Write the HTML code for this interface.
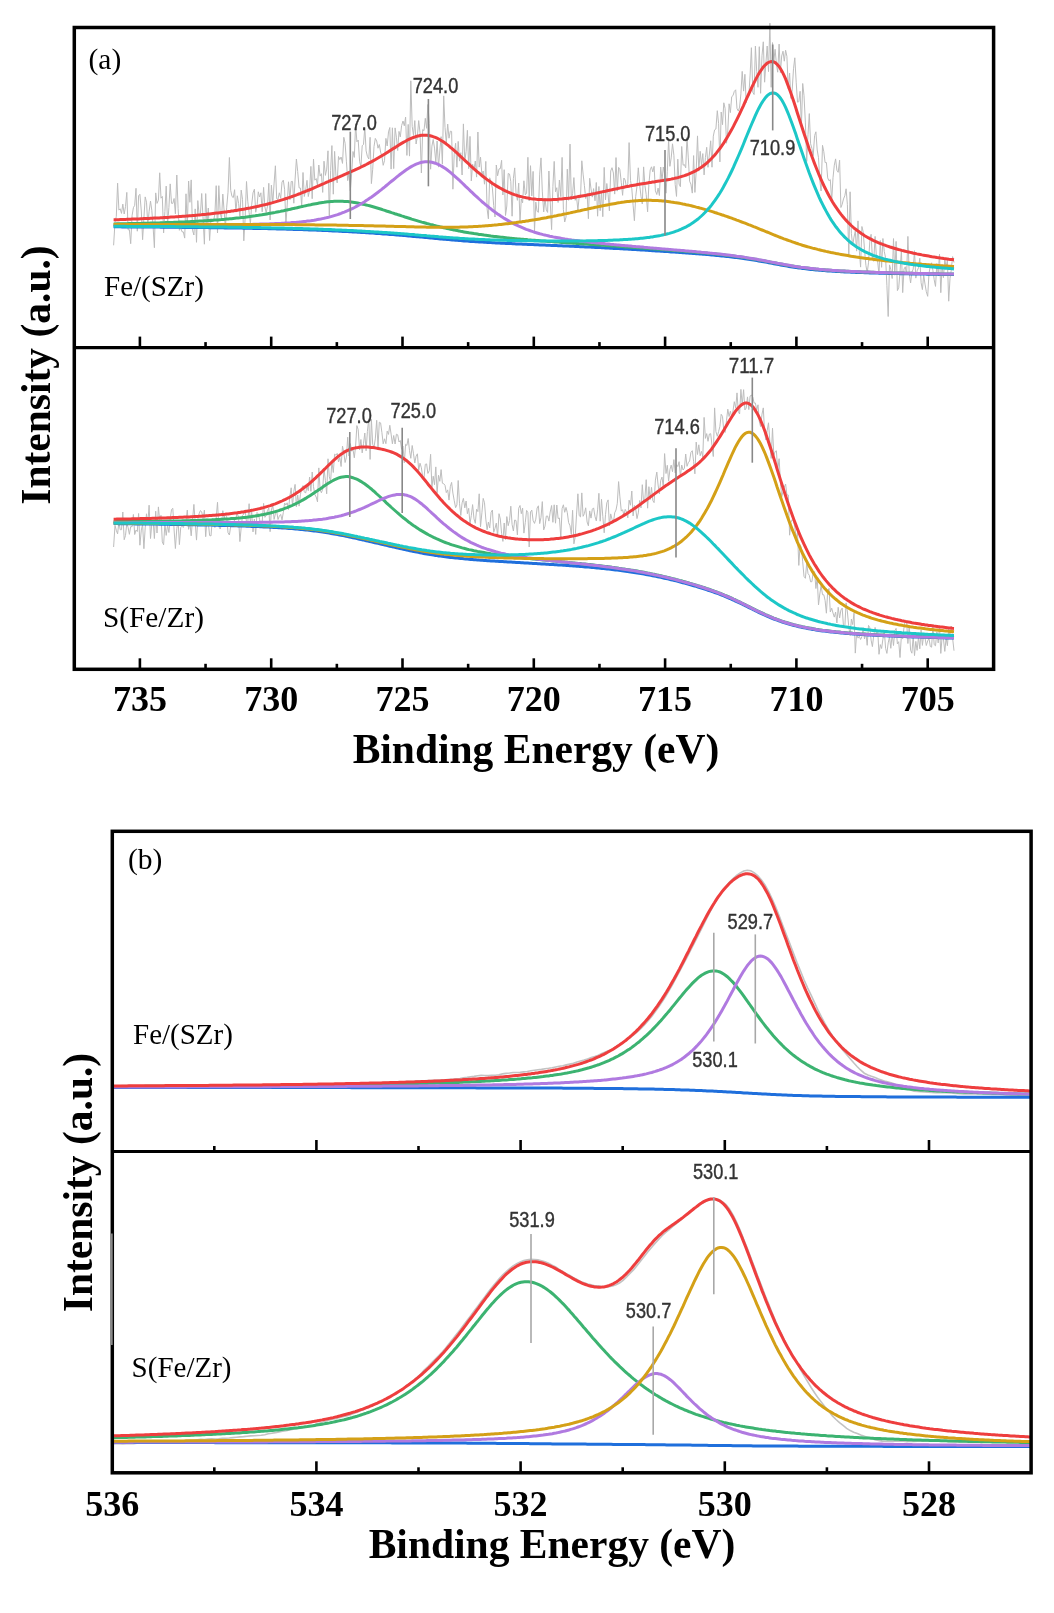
<!DOCTYPE html>
<html><head><meta charset="utf-8"><title>XPS spectra</title>
<style>html,body{margin:0;padding:0;background:#fff;width:1054px;height:1613px;overflow:hidden}svg{display:block;filter:blur(0.45px)}</style>
</head><body><svg width="1054" height="1613" viewBox="0 0 1054 1613"><rect width="100%" height="100%" fill="#fff"/><path d="M113.6,245.3 L115.0,222.3 L116.3,216.5 L117.6,183.2 L118.9,210.1 L120.2,208.8 L121.5,213.4 L122.8,204.1 L124.2,214.0 L125.5,206.6 L126.8,192.4 L128.1,229.8 L129.4,229.7 L130.7,243.7 L132.1,215.5 L133.4,207.7 L134.7,205.3 L136.0,188.3 L137.3,231.2 L138.6,195.8 L139.9,194.3 L141.3,211.0 L142.6,239.7 L143.9,218.4 L145.2,196.9 L146.5,202.2 L147.8,224.9 L149.1,211.5 L150.5,201.1 L151.8,210.3 L153.1,226.8 L154.4,247.7 L155.7,192.9 L157.0,203.4 L158.4,200.3 L159.7,172.8 L161.0,198.2 L162.3,196.4 L163.6,232.9 L164.9,211.5 L166.2,186.1 L167.6,224.6 L168.9,207.5 L170.2,183.9 L171.5,203.3 L172.8,203.4 L174.1,198.5 L175.4,213.8 L176.8,175.0 L178.1,208.6 L179.4,230.3 L180.7,227.5 L182.0,231.8 L183.3,231.9 L184.7,238.1 L186.0,193.8 L187.3,227.1 L188.6,181.0 L189.9,202.3 L191.2,179.9 L192.5,230.2 L193.9,235.0 L195.2,208.9 L196.5,242.3 L197.8,200.6 L199.1,214.5 L200.4,214.4 L201.7,193.5 L203.1,218.9 L204.4,244.2 L205.7,193.6 L207.0,226.1 L208.3,208.0 L209.6,240.5 L211.0,218.5 L212.3,221.5 L213.6,220.8 L214.9,213.9 L216.2,185.7 L217.5,232.9 L218.8,185.7 L220.2,212.8 L221.5,219.0 L222.8,194.1 L224.1,210.5 L225.4,227.7 L226.7,207.2 L228.0,192.2 L229.4,157.5 L230.7,190.3 L232.0,196.5 L233.3,197.6 L234.6,189.7 L235.9,212.2 L237.3,195.8 L238.6,203.4 L239.9,216.5 L241.2,190.1 L242.5,199.3 L243.8,240.8 L245.1,218.7 L246.5,181.5 L247.8,201.8 L249.1,212.5 L250.4,223.5 L251.7,204.8 L253.0,192.9 L254.4,189.2 L255.7,212.2 L257.0,206.2 L258.3,191.8 L259.6,197.0 L260.9,192.8 L262.2,211.8 L263.6,187.4 L264.9,207.0 L266.2,212.8 L267.5,206.2 L268.8,183.3 L270.1,220.0 L271.4,185.2 L272.8,203.5 L274.1,183.1 L275.4,165.8 L276.7,198.8 L278.0,199.4 L279.3,192.8 L280.7,198.3 L282.0,182.1 L283.3,180.1 L284.6,189.3 L285.9,224.2 L287.2,205.0 L288.5,181.8 L289.9,199.7 L291.2,181.5 L292.5,181.4 L293.8,203.2 L295.1,179.1 L296.4,159.0 L297.7,171.5 L299.1,187.9 L300.4,188.0 L301.7,206.3 L303.0,172.5 L304.3,196.5 L305.6,190.7 L307.0,180.3 L308.3,196.5 L309.6,190.0 L310.9,166.4 L312.2,198.7 L313.5,159.1 L314.8,180.2 L316.2,178.6 L317.5,185.2 L318.8,165.0 L320.1,176.1 L321.4,173.7 L322.7,192.4 L324.0,161.2 L325.4,175.4 L326.7,169.1 L328.0,150.8 L329.3,217.7 L330.6,170.4 L331.9,145.6 L333.3,194.2 L334.6,151.4 L335.9,175.2 L337.2,182.9 L338.5,156.5 L339.8,159.6 L341.1,157.0 L342.5,163.4 L343.8,137.3 L345.1,143.2 L346.4,161.2 L347.7,180.6 L349.0,173.0 L350.3,190.9 L351.7,172.7 L353.0,151.5 L354.3,157.4 L355.6,124.3 L356.9,141.8 L358.2,140.0 L359.6,161.3 L360.9,167.0 L362.2,145.7 L363.5,144.5 L364.8,127.4 L366.1,150.8 L367.4,156.4 L368.8,159.0 L370.1,137.3 L371.4,183.6 L372.7,169.3 L374.0,146.6 L375.3,138.4 L376.7,141.0 L378.0,148.2 L379.3,144.5 L380.6,152.1 L381.9,156.1 L383.2,165.3 L384.5,160.7 L385.9,138.4 L387.2,146.0 L388.5,131.9 L389.8,127.5 L391.1,169.1 L392.4,127.8 L393.7,168.6 L395.1,127.9 L396.4,137.2 L397.7,150.5 L399.0,131.4 L400.3,136.9 L401.6,125.6 L403.0,121.0 L404.3,125.8 L405.6,117.1 L406.9,155.4 L408.2,124.4 L409.5,156.1 L410.8,80.8 L412.2,126.4 L413.5,135.4 L414.8,120.6 L416.1,144.0 L417.4,136.2 L418.7,120.6 L420.0,132.6 L421.4,173.0 L422.7,129.6 L424.0,130.6 L425.3,118.3 L426.6,128.3 L427.9,104.5 L429.3,123.5 L430.6,169.2 L431.9,146.1 L433.2,139.5 L434.5,148.1 L435.8,162.1 L437.1,141.0 L438.5,167.1 L439.8,151.0 L441.1,136.7 L442.4,164.1 L443.7,95.9 L445.0,127.4 L446.3,142.9 L447.7,124.1 L449.0,138.2 L450.3,131.2 L451.6,131.4 L452.9,189.2 L454.2,154.3 L455.6,143.3 L456.9,167.2 L458.2,141.4 L459.5,161.1 L460.8,152.7 L462.1,175.0 L463.4,123.9 L464.8,161.7 L466.1,151.4 L467.4,130.3 L468.7,168.7 L470.0,136.4 L471.3,180.9 L472.6,164.2 L474.0,169.4 L475.3,161.0 L476.6,177.1 L477.9,132.0 L479.2,167.1 L480.5,157.1 L481.9,174.6 L483.2,171.0 L484.5,184.2 L485.8,161.4 L487.1,208.9 L488.4,218.8 L489.7,177.8 L491.1,182.1 L492.4,188.1 L493.7,205.5 L495.0,217.0 L496.3,165.0 L497.6,175.8 L499.0,168.9 L500.3,168.7 L501.6,160.3 L502.9,195.0 L504.2,169.7 L505.5,215.5 L506.8,206.0 L508.2,173.5 L509.5,174.0 L510.8,181.6 L512.1,216.2 L513.4,178.4 L514.7,167.9 L516.0,192.8 L517.4,200.3 L518.7,183.1 L520.0,222.1 L521.3,199.0 L522.6,202.8 L523.9,180.8 L525.3,194.9 L526.6,193.1 L527.9,157.3 L529.2,201.0 L530.5,165.7 L531.8,195.9 L533.1,171.4 L534.5,230.9 L535.8,202.1 L537.1,211.3 L538.4,212.3 L539.7,174.2 L541.0,157.9 L542.3,191.1 L543.7,211.9 L545.0,198.1 L546.3,209.9 L547.6,212.4 L548.9,171.0 L550.2,201.1 L551.6,229.6 L552.9,186.3 L554.2,161.4 L555.5,191.8 L556.8,187.7 L558.1,202.5 L559.4,180.0 L560.8,196.7 L562.1,157.4 L563.4,209.6 L564.7,222.0 L566.0,217.1 L567.3,169.2 L568.6,200.3 L570.0,144.1 L571.3,199.6 L572.6,193.6 L573.9,177.6 L575.2,200.3 L576.5,196.7 L577.9,210.2 L579.2,196.3 L580.5,198.0 L581.8,160.8 L583.1,174.1 L584.4,185.5 L585.7,198.5 L587.1,193.2 L588.4,218.7 L589.7,178.3 L591.0,188.8 L592.3,197.1 L593.6,188.6 L595.0,200.8 L596.3,182.5 L597.6,216.2 L598.9,186.5 L600.2,210.7 L601.5,191.1 L602.8,216.7 L604.2,167.4 L605.5,199.8 L606.8,183.5 L608.1,194.6 L609.4,210.8 L610.7,171.0 L612.0,167.7 L613.4,173.0 L614.7,194.1 L616.0,157.6 L617.3,191.1 L618.6,167.4 L619.9,169.7 L621.3,182.7 L622.6,195.3 L623.9,178.0 L625.2,180.1 L626.5,187.6 L627.8,183.6 L629.1,142.6 L630.5,180.4 L631.8,188.6 L633.1,205.2 L634.4,220.7 L635.7,196.7 L637.0,186.1 L638.3,167.8 L639.7,185.1 L641.0,196.3 L642.3,204.0 L643.6,166.9 L644.9,185.3 L646.2,194.6 L647.6,211.8 L648.9,184.0 L650.2,169.9 L651.5,166.8 L652.8,171.9 L654.1,166.3 L655.4,190.9 L656.8,194.5 L658.1,188.1 L659.4,195.5 L660.7,167.0 L662.0,180.6 L663.3,167.0 L664.6,173.7 L666.0,193.2 L667.3,171.3 L668.6,139.5 L669.9,166.3 L671.2,157.9 L672.5,143.8 L673.9,155.3 L675.2,184.5 L676.5,196.4 L677.8,159.2 L679.1,184.1 L680.4,186.7 L681.7,146.5 L683.1,165.2 L684.4,164.6 L685.7,167.8 L687.0,137.3 L688.3,157.9 L689.6,181.2 L690.9,184.1 L692.3,193.1 L693.6,155.6 L694.9,192.4 L696.2,171.2 L697.5,135.9 L698.8,171.1 L700.2,151.3 L701.5,165.2 L702.8,153.6 L704.1,174.9 L705.4,157.6 L706.7,147.3 L708.0,167.3 L709.4,154.0 L710.7,140.8 L712.0,167.2 L713.3,136.2 L714.6,129.9 L715.9,129.0 L717.3,110.7 L718.6,123.6 L719.9,161.9 L721.2,112.0 L722.5,124.7 L723.8,102.8 L725.1,108.4 L726.5,143.2 L727.8,131.0 L729.1,103.8 L730.4,112.6 L731.7,96.7 L733.0,95.6 L734.3,91.4 L735.7,89.8 L737.0,108.6 L738.3,111.1 L739.6,107.1 L740.9,93.8 L742.2,71.4 L743.6,91.1 L744.9,74.3 L746.2,102.7 L747.5,95.0 L748.8,96.0 L750.1,75.1 L751.4,47.7 L752.8,92.3 L754.1,94.5 L755.4,46.1 L756.7,71.4 L758.0,87.3 L759.3,46.7 L760.6,93.3 L762.0,55.6 L763.3,41.8 L764.6,82.2 L765.9,62.9 L767.2,46.0 L768.5,71.6 L769.9,23.2 L771.2,87.3 L772.5,42.6 L773.8,61.0 L775.1,49.3 L776.4,63.9 L777.7,72.2 L779.1,44.1 L780.4,72.7 L781.7,56.0 L783.0,51.2 L784.3,61.2 L785.6,50.2 L786.9,56.4 L788.3,88.8 L789.6,73.0 L790.9,98.4 L792.2,89.9 L793.5,68.8 L794.8,57.8 L796.2,82.2 L797.5,102.2 L798.8,101.7 L800.1,91.3 L801.4,126.5 L802.7,83.5 L804.0,95.5 L805.4,122.9 L806.7,161.5 L808.0,134.5 L809.3,113.6 L810.6,143.8 L811.9,148.4 L813.2,155.7 L814.6,135.6 L815.9,131.8 L817.2,150.0 L818.5,157.7 L819.8,180.3 L821.1,191.0 L822.5,145.3 L823.8,151.7 L825.1,162.6 L826.4,162.5 L827.7,177.9 L829.0,180.8 L830.3,179.6 L831.7,200.8 L833.0,177.8 L834.3,165.2 L835.6,158.9 L836.9,170.3 L838.2,172.3 L839.6,160.2 L840.9,207.5 L842.2,204.3 L843.5,198.9 L844.8,195.8 L846.1,188.8 L847.4,204.7 L848.8,256.4 L850.1,191.8 L851.4,233.7 L852.7,245.7 L854.0,237.1 L855.3,231.1 L856.6,251.1 L858.0,220.9 L859.3,250.7 L860.6,267.1 L861.9,226.5 L863.2,231.8 L864.5,249.4 L865.9,265.3 L867.2,272.6 L868.5,262.8 L869.8,241.1 L871.1,234.3 L872.4,258.0 L873.7,261.3 L875.1,236.4 L876.4,256.7 L877.7,261.9 L879.0,274.6 L880.3,240.5 L881.6,267.3 L882.9,238.5 L884.3,251.6 L885.6,257.9 L886.9,285.5 L888.2,316.5 L889.5,264.9 L890.8,269.4 L892.2,278.5 L893.5,238.6 L894.8,275.2 L896.1,241.4 L897.4,290.6 L898.7,287.8 L900.0,272.1 L901.4,250.2 L902.7,292.6 L904.0,269.0 L905.3,266.8 L906.6,275.0 L907.9,236.4 L909.2,273.1 L910.6,283.0 L911.9,272.1 L913.2,269.1 L914.5,250.7 L915.8,278.1 L917.1,270.8 L918.5,267.8 L919.8,258.3 L921.1,282.7 L922.4,289.6 L923.7,275.2 L925.0,284.1 L926.3,291.6 L927.7,296.3 L929.0,273.3 L930.3,266.1 L931.6,262.8 L932.9,270.3 L934.2,279.7 L935.5,286.4 L936.9,263.4 L938.2,273.4 L939.5,254.1 L940.8,292.7 L942.1,264.8 L943.4,277.7 L944.8,259.5 L946.1,266.9 L947.4,260.4 L948.7,301.2 L950.0,278.5 L951.3,269.7 L952.6,256.6 L954.0,262.5" stroke="#bdbdbd" stroke-width="1" fill="none"/><path d="M113.6,226.8 L115.3,226.8 L117.0,226.8 L118.7,226.8 L120.4,226.8 L122.1,226.9 L123.7,226.9 L125.4,226.9 L127.1,226.9 L128.8,226.9 L130.5,226.9 L132.2,226.9 L133.8,226.9 L135.5,226.9 L137.2,227.0 L138.9,227.0 L140.6,227.0 L142.3,227.0 L144.0,227.0 L145.6,227.0 L147.3,227.0 L149.0,227.1 L150.7,227.1 L152.4,227.1 L154.1,227.1 L155.7,227.1 L157.4,227.1 L159.1,227.1 L160.8,227.2 L162.5,227.2 L164.2,227.2 L165.8,227.2 L167.5,227.2 L169.2,227.2 L170.9,227.2 L172.6,227.3 L174.3,227.3 L175.9,227.3 L177.6,227.3 L179.3,227.3 L181.0,227.3 L182.7,227.4 L184.4,227.4 L186.1,227.4 L187.7,227.4 L189.4,227.4 L191.1,227.4 L192.8,227.5 L194.5,227.5 L196.2,227.5 L197.8,227.5 L199.5,227.5 L201.2,227.6 L202.9,227.6 L204.6,227.6 L206.3,227.6 L207.9,227.6 L209.6,227.7 L211.3,227.7 L213.0,227.7 L214.7,227.7 L216.4,227.8 L218.0,227.8 L219.7,227.8 L221.4,227.8 L223.1,227.8 L224.8,227.9 L226.5,227.9 L228.2,227.9 L229.8,227.9 L231.5,228.0 L233.2,228.0 L234.9,228.0 L236.6,228.1 L238.3,228.1 L239.9,228.1 L241.6,228.1 L243.3,228.2 L245.0,228.2 L246.7,228.2 L248.4,228.3 L250.0,228.3 L251.7,228.3 L253.4,228.4 L255.1,228.4 L256.8,228.4 L258.5,228.5 L260.1,228.5 L261.8,228.5 L263.5,228.6 L265.2,228.6 L266.9,228.6 L268.6,228.7 L270.3,228.7 L271.9,228.8 L273.6,228.8 L275.3,228.8 L277.0,228.9 L278.7,228.9 L280.4,229.0 L282.0,229.0 L283.7,229.1 L285.4,229.1 L287.1,229.2 L288.8,229.2 L290.5,229.3 L292.1,229.3 L293.8,229.4 L295.5,229.4 L297.2,229.5 L298.9,229.5 L300.6,229.6 L302.2,229.6 L303.9,229.7 L305.6,229.7 L307.3,229.8 L309.0,229.9 L310.7,229.9 L312.4,230.0 L314.0,230.1 L315.7,230.1 L317.4,230.2 L319.1,230.3 L320.8,230.3 L322.5,230.4 L324.1,230.5 L325.8,230.5 L327.5,230.6 L329.2,230.7 L330.9,230.8 L332.6,230.9 L334.2,230.9 L335.9,231.0 L337.6,231.1 L339.3,231.2 L341.0,231.3 L342.7,231.4 L344.3,231.4 L346.0,231.5 L347.7,231.6 L349.4,231.7 L351.1,231.8 L352.8,231.9 L354.5,232.0 L356.1,232.1 L357.8,232.2 L359.5,232.3 L361.2,232.4 L362.9,232.5 L364.6,232.6 L366.2,232.7 L367.9,232.8 L369.6,232.9 L371.3,233.0 L373.0,233.1 L374.7,233.3 L376.3,233.4 L378.0,233.5 L379.7,233.6 L381.4,233.7 L383.1,233.9 L384.8,234.0 L386.4,234.1 L388.1,234.2 L389.8,234.4 L391.5,234.5 L393.2,234.6 L394.9,234.8 L396.6,234.9 L398.2,235.0 L399.9,235.2 L401.6,235.3 L403.3,235.5 L405.0,235.6 L406.7,235.8 L408.3,235.9 L410.0,236.1 L411.7,236.2 L413.4,236.4 L415.1,236.5 L416.8,236.7 L418.4,236.8 L420.1,237.0 L421.8,237.1 L423.5,237.3 L425.2,237.5 L426.9,237.6 L428.5,237.8 L430.2,237.9 L431.9,238.1 L433.6,238.3 L435.3,238.4 L437.0,238.6 L438.7,238.7 L440.3,238.9 L442.0,239.0 L443.7,239.2 L445.4,239.3 L447.1,239.5 L448.8,239.6 L450.4,239.8 L452.1,239.9 L453.8,240.1 L455.5,240.2 L457.2,240.3 L458.9,240.5 L460.5,240.6 L462.2,240.7 L463.9,240.9 L465.6,241.0 L467.3,241.1 L469.0,241.2 L470.6,241.4 L472.3,241.5 L474.0,241.6 L475.7,241.7 L477.4,241.8 L479.1,241.9 L480.8,242.0 L482.4,242.1 L484.1,242.2 L485.8,242.3 L487.5,242.4 L489.2,242.5 L490.9,242.6 L492.5,242.7 L494.2,242.8 L495.9,242.9 L497.6,243.0 L499.3,243.1 L501.0,243.2 L502.6,243.2 L504.3,243.3 L506.0,243.4 L507.7,243.5 L509.4,243.6 L511.1,243.6 L512.7,243.7 L514.4,243.8 L516.1,243.9 L517.8,244.0 L519.5,244.0 L521.2,244.1 L522.9,244.2 L524.5,244.3 L526.2,244.3 L527.9,244.4 L529.6,244.5 L531.3,244.5 L533.0,244.6 L534.6,244.7 L536.3,244.8 L538.0,244.8 L539.7,244.9 L541.4,245.0 L543.1,245.0 L544.7,245.1 L546.4,245.2 L548.1,245.3 L549.8,245.3 L551.5,245.4 L553.2,245.5 L554.9,245.5 L556.5,245.6 L558.2,245.7 L559.9,245.8 L561.6,245.8 L563.3,245.9 L565.0,246.0 L566.6,246.0 L568.3,246.1 L570.0,246.2 L571.7,246.3 L573.4,246.3 L575.1,246.4 L576.7,246.5 L578.4,246.6 L580.1,246.7 L581.8,246.7 L583.5,246.8 L585.2,246.9 L586.8,247.0 L588.5,247.1 L590.2,247.1 L591.9,247.2 L593.6,247.3 L595.3,247.4 L597.0,247.5 L598.6,247.6 L600.3,247.6 L602.0,247.7 L603.7,247.8 L605.4,247.9 L607.1,248.0 L608.7,248.1 L610.4,248.2 L612.1,248.3 L613.8,248.4 L615.5,248.4 L617.2,248.5 L618.8,248.6 L620.5,248.7 L622.2,248.8 L623.9,248.9 L625.6,249.0 L627.3,249.1 L628.9,249.2 L630.6,249.3 L632.3,249.4 L634.0,249.5 L635.7,249.6 L637.4,249.7 L639.1,249.8 L640.7,249.9 L642.4,250.0 L644.1,250.1 L645.8,250.2 L647.5,250.3 L649.2,250.4 L650.8,250.5 L652.5,250.7 L654.2,250.8 L655.9,250.9 L657.6,251.0 L659.3,251.1 L660.9,251.2 L662.6,251.3 L664.3,251.4 L666.0,251.5 L667.7,251.6 L669.4,251.7 L671.0,251.9 L672.7,252.0 L674.4,252.1 L676.1,252.2 L677.8,252.3 L679.5,252.4 L681.2,252.6 L682.8,252.7 L684.5,252.8 L686.2,252.9 L687.9,253.0 L689.6,253.2 L691.3,253.3 L692.9,253.4 L694.6,253.5 L696.3,253.7 L698.0,253.8 L699.7,253.9 L701.4,254.1 L703.0,254.2 L704.7,254.3 L706.4,254.5 L708.1,254.6 L709.8,254.8 L711.5,254.9 L713.1,255.1 L714.8,255.2 L716.5,255.4 L718.2,255.5 L719.9,255.7 L721.6,255.9 L723.3,256.1 L724.9,256.2 L726.6,256.4 L728.3,256.6 L730.0,256.8 L731.7,257.0 L733.4,257.2 L735.0,257.4 L736.7,257.6 L738.4,257.8 L740.1,258.0 L741.8,258.3 L743.5,258.5 L745.1,258.8 L746.8,259.0 L748.5,259.3 L750.2,259.5 L751.9,259.8 L753.6,260.1 L755.2,260.3 L756.9,260.6 L758.6,260.9 L760.3,261.2 L762.0,261.5 L763.7,261.8 L765.4,262.1 L767.0,262.4 L768.7,262.7 L770.4,263.0 L772.1,263.4 L773.8,263.7 L775.5,264.0 L777.1,264.3 L778.8,264.6 L780.5,264.9 L782.2,265.2 L783.9,265.5 L785.6,265.8 L787.2,266.1 L788.9,266.4 L790.6,266.7 L792.3,266.9 L794.0,267.2 L795.7,267.4 L797.3,267.7 L799.0,267.9 L800.7,268.1 L802.4,268.4 L804.1,268.6 L805.8,268.8 L807.5,269.0 L809.1,269.2 L810.8,269.4 L812.5,269.5 L814.2,269.7 L815.9,269.9 L817.6,270.0 L819.2,270.2 L820.9,270.3 L822.6,270.5 L824.3,270.6 L826.0,270.7 L827.7,270.9 L829.3,271.0 L831.0,271.1 L832.7,271.2 L834.4,271.3 L836.1,271.4 L837.8,271.5 L839.4,271.6 L841.1,271.7 L842.8,271.8 L844.5,271.9 L846.2,271.9 L847.9,272.0 L849.6,272.1 L851.2,272.2 L852.9,272.2 L854.6,272.3 L856.3,272.4 L858.0,272.4 L859.7,272.5 L861.3,272.6 L863.0,272.6 L864.7,272.7 L866.4,272.7 L868.1,272.8 L869.8,272.9 L871.4,272.9 L873.1,273.0 L874.8,273.0 L876.5,273.1 L878.2,273.1 L879.9,273.2 L881.5,273.2 L883.2,273.2 L884.9,273.3 L886.6,273.3 L888.3,273.4 L890.0,273.4 L891.7,273.5 L893.3,273.5 L895.0,273.5 L896.7,273.6 L898.4,273.6 L900.1,273.7 L901.8,273.7 L903.4,273.7 L905.1,273.8 L906.8,273.8 L908.5,273.8 L910.2,273.9 L911.9,273.9 L913.5,273.9 L915.2,274.0 L916.9,274.0 L918.6,274.0 L920.3,274.1 L922.0,274.1 L923.6,274.1 L925.3,274.1 L927.0,274.2 L928.7,274.2 L930.4,274.2 L932.1,274.3 L933.8,274.3 L935.4,274.3 L937.1,274.3 L938.8,274.4 L940.5,274.4 L942.2,274.4 L943.9,274.4 L945.5,274.5 L947.2,274.5 L948.9,274.5 L950.6,274.5 L952.3,274.6 L954.0,274.6" stroke="#1f6fdc" stroke-width="3" fill="none"/><path d="M113.6,223.9 L115.3,223.9 L117.0,223.8 L118.7,223.8 L120.4,223.8 L122.1,223.8 L123.7,223.7 L125.4,223.7 L127.1,223.7 L128.8,223.6 L130.5,223.6 L132.2,223.6 L133.8,223.5 L135.5,223.5 L137.2,223.4 L138.9,223.4 L140.6,223.4 L142.3,223.3 L144.0,223.3 L145.6,223.2 L147.3,223.2 L149.0,223.2 L150.7,223.1 L152.4,223.1 L154.1,223.0 L155.7,223.0 L157.4,222.9 L159.1,222.9 L160.8,222.8 L162.5,222.8 L164.2,222.7 L165.8,222.6 L167.5,222.6 L169.2,222.5 L170.9,222.5 L172.6,222.4 L174.3,222.3 L175.9,222.3 L177.6,222.2 L179.3,222.1 L181.0,222.1 L182.7,222.0 L184.4,221.9 L186.1,221.8 L187.7,221.7 L189.4,221.7 L191.1,221.6 L192.8,221.5 L194.5,221.4 L196.2,221.3 L197.8,221.2 L199.5,221.1 L201.2,221.0 L202.9,220.9 L204.6,220.8 L206.3,220.7 L207.9,220.6 L209.6,220.5 L211.3,220.4 L213.0,220.2 L214.7,220.1 L216.4,220.0 L218.0,219.9 L219.7,219.7 L221.4,219.6 L223.1,219.4 L224.8,219.3 L226.5,219.1 L228.2,219.0 L229.8,218.8 L231.5,218.7 L233.2,218.5 L234.9,218.3 L236.6,218.1 L238.3,217.9 L239.9,217.8 L241.6,217.6 L243.3,217.4 L245.0,217.2 L246.7,216.9 L248.4,216.7 L250.0,216.5 L251.7,216.3 L253.4,216.0 L255.1,215.8 L256.8,215.5 L258.5,215.3 L260.1,215.0 L261.8,214.8 L263.5,214.5 L265.2,214.2 L266.9,213.9 L268.6,213.6 L270.3,213.3 L271.9,213.0 L273.6,212.7 L275.3,212.4 L277.0,212.0 L278.7,211.7 L280.4,211.4 L282.0,211.0 L283.7,210.7 L285.4,210.3 L287.1,209.9 L288.8,209.6 L290.5,209.2 L292.1,208.8 L293.8,208.4 L295.5,208.1 L297.2,207.7 L298.9,207.3 L300.6,206.9 L302.2,206.5 L303.9,206.1 L305.6,205.8 L307.3,205.4 L309.0,205.0 L310.7,204.7 L312.4,204.3 L314.0,204.0 L315.7,203.7 L317.4,203.4 L319.1,203.1 L320.8,202.8 L322.5,202.5 L324.1,202.3 L325.8,202.0 L327.5,201.8 L329.2,201.7 L330.9,201.5 L332.6,201.4 L334.2,201.3 L335.9,201.2 L337.6,201.2 L339.3,201.2 L341.0,201.2 L342.7,201.3 L344.3,201.4 L346.0,201.5 L347.7,201.6 L349.4,201.8 L351.1,202.0 L352.8,202.2 L354.5,202.5 L356.1,202.8 L357.8,203.1 L359.5,203.4 L361.2,203.8 L362.9,204.2 L364.6,204.6 L366.2,205.0 L367.9,205.4 L369.6,205.8 L371.3,206.3 L373.0,206.8 L374.7,207.3 L376.3,207.8 L378.0,208.3 L379.7,208.8 L381.4,209.3 L383.1,209.9 L384.8,210.4 L386.4,211.0 L388.1,211.5 L389.8,212.0 L391.5,212.6 L393.2,213.1 L394.9,213.7 L396.6,214.2 L398.2,214.8 L399.9,215.3 L401.6,215.9 L403.3,216.4 L405.0,217.0 L406.7,217.5 L408.3,218.0 L410.0,218.5 L411.7,219.1 L413.4,219.6 L415.1,220.1 L416.8,220.6 L418.4,221.1 L420.1,221.6 L421.8,222.1 L423.5,222.5 L425.2,223.0 L426.9,223.5 L428.5,223.9 L430.2,224.4 L431.9,224.8 L433.6,225.3 L435.3,225.7 L437.0,226.1 L438.7,226.5 L440.3,226.9 L442.0,227.3 L443.7,227.7 L445.4,228.1 L447.1,228.5 L448.8,228.9 L450.4,229.2 L452.1,229.6 L453.8,229.9 L455.5,230.3 L457.2,230.6 L458.9,230.9 L460.5,231.3 L462.2,231.6 L463.9,231.9 L465.6,232.2 L467.3,232.5 L469.0,232.8 L470.6,233.0 L472.3,233.3 L474.0,233.6 L475.7,233.8 L477.4,234.1 L479.1,234.4 L480.8,234.6 L482.4,234.8 L484.1,235.1 L485.8,235.3 L487.5,235.5 L489.2,235.7 L490.9,236.0 L492.5,236.2 L494.2,236.4 L495.9,236.6 L497.6,236.8 L499.3,237.0 L501.0,237.2 L502.6,237.3 L504.3,237.5 L506.0,237.7 L507.7,237.9 L509.4,238.1 L511.1,238.2 L512.7,238.4 L514.4,238.6 L516.1,238.7 L517.8,238.9 L519.5,239.0 L521.2,239.2 L522.9,239.3 L524.5,239.5 L526.2,239.6 L527.9,239.8 L529.6,239.9 L531.3,240.1 L533.0,240.2 L534.6,240.3 L536.3,240.5 L538.0,240.6 L539.7,240.7 L541.4,240.9 L543.1,241.0 L544.7,241.1 L546.4,241.3 L548.1,241.4 L549.8,241.5 L551.5,241.6 L553.2,241.8 L554.9,241.9 L556.5,242.0 L558.2,242.1 L559.9,242.2 L561.6,242.4 L563.3,242.5 L565.0,242.6 L566.6,242.7 L568.3,242.8 L570.0,243.0 L571.7,243.1 L573.4,243.2 L575.1,243.3 L576.7,243.4 L578.4,243.5 L580.1,243.7 L581.8,243.8 L583.5,243.9 L585.2,244.0 L586.8,244.1 L588.5,244.2 L590.2,244.4 L591.9,244.5 L593.6,244.6 L595.3,244.7 L597.0,244.8 L598.6,244.9 L600.3,245.1 L602.0,245.2 L603.7,245.3 L605.4,245.4 L607.1,245.5 L608.7,245.7 L610.4,245.8 L612.1,245.9 L613.8,246.0 L615.5,246.1 L617.2,246.2 L618.8,246.4 L620.5,246.5 L622.2,246.6 L623.9,246.7 L625.6,246.9 L627.3,247.0 L628.9,247.1 L630.6,247.2 L632.3,247.3 L634.0,247.5 L635.7,247.6 L637.4,247.7 L639.1,247.8 L640.7,248.0 L642.4,248.1 L644.1,248.2 L645.8,248.3 L647.5,248.4 L649.2,248.6 L650.8,248.7 L652.5,248.8 L654.2,248.9 L655.9,249.1 L657.6,249.2 L659.3,249.3 L660.9,249.5 L662.6,249.6 L664.3,249.7 L666.0,249.8 L667.7,250.0 L669.4,250.1 L671.0,250.2 L672.7,250.4 L674.4,250.5 L676.1,250.6 L677.8,250.7 L679.5,250.9 L681.2,251.0 L682.8,251.1 L684.5,251.3 L686.2,251.4 L687.9,251.5 L689.6,251.7 L691.3,251.8 L692.9,252.0 L694.6,252.1 L696.3,252.2 L698.0,252.4 L699.7,252.5 L701.4,252.7 L703.0,252.8 L704.7,253.0 L706.4,253.1 L708.1,253.3 L709.8,253.4 L711.5,253.6 L713.1,253.8 L714.8,253.9 L716.5,254.1 L718.2,254.3 L719.9,254.5 L721.6,254.6 L723.3,254.8 L724.9,255.0 L726.6,255.2 L728.3,255.4 L730.0,255.6 L731.7,255.8 L733.4,256.0 L735.0,256.2 L736.7,256.5 L738.4,256.7 L740.1,256.9 L741.8,257.1 L743.5,257.4 L745.1,257.6 L746.8,257.9 L748.5,258.2 L750.2,258.4 L751.9,258.7 L753.6,259.0 L755.2,259.3 L756.9,259.6 L758.6,259.9 L760.3,260.2 L762.0,260.5 L763.7,260.8 L765.4,261.1 L767.0,261.4 L768.7,261.7 L770.4,262.1 L772.1,262.4 L773.8,262.7 L775.5,263.0 L777.1,263.3 L778.8,263.7 L780.5,264.0 L782.2,264.3 L783.9,264.6 L785.6,264.9 L787.2,265.2 L788.9,265.5 L790.6,265.8 L792.3,266.0 L794.0,266.3 L795.7,266.6 L797.3,266.8 L799.0,267.0 L800.7,267.3 L802.4,267.5 L804.1,267.7 L805.8,267.9 L807.5,268.1 L809.1,268.3 L810.8,268.5 L812.5,268.7 L814.2,268.9 L815.9,269.1 L817.6,269.2 L819.2,269.4 L820.9,269.5 L822.6,269.7 L824.3,269.8 L826.0,270.0 L827.7,270.1 L829.3,270.2 L831.0,270.3 L832.7,270.4 L834.4,270.6 L836.1,270.7 L837.8,270.8 L839.4,270.9 L841.1,271.0 L842.8,271.0 L844.5,271.1 L846.2,271.2 L847.9,271.3 L849.6,271.4 L851.2,271.5 L852.9,271.5 L854.6,271.6 L856.3,271.7 L858.0,271.8 L859.7,271.8 L861.3,271.9 L863.0,272.0 L864.7,272.0 L866.4,272.1 L868.1,272.1 L869.8,272.2 L871.4,272.3 L873.1,272.3 L874.8,272.4 L876.5,272.4 L878.2,272.5 L879.9,272.5 L881.5,272.6 L883.2,272.6 L884.9,272.7 L886.6,272.7 L888.3,272.8 L890.0,272.8 L891.7,272.9 L893.3,272.9 L895.0,272.9 L896.7,273.0 L898.4,273.0 L900.1,273.1 L901.8,273.1 L903.4,273.1 L905.1,273.2 L906.8,273.2 L908.5,273.3 L910.2,273.3 L911.9,273.3 L913.5,273.4 L915.2,273.4 L916.9,273.4 L918.6,273.5 L920.3,273.5 L922.0,273.5 L923.6,273.6 L925.3,273.6 L927.0,273.6 L928.7,273.7 L930.4,273.7 L932.1,273.7 L933.8,273.8 L935.4,273.8 L937.1,273.8 L938.8,273.8 L940.5,273.9 L942.2,273.9 L943.9,273.9 L945.5,274.0 L947.2,274.0 L948.9,274.0 L950.6,274.0 L952.3,274.1 L954.0,274.1" stroke="#3cb371" stroke-width="3" fill="none"/><path d="M113.6,225.5 L115.3,225.5 L117.0,225.5 L118.7,225.5 L120.4,225.5 L122.1,225.5 L123.7,225.5 L125.4,225.5 L127.1,225.4 L128.8,225.4 L130.5,225.4 L132.2,225.4 L133.8,225.4 L135.5,225.4 L137.2,225.4 L138.9,225.4 L140.6,225.4 L142.3,225.4 L144.0,225.4 L145.6,225.4 L147.3,225.4 L149.0,225.4 L150.7,225.4 L152.4,225.4 L154.1,225.4 L155.7,225.4 L157.4,225.4 L159.1,225.3 L160.8,225.3 L162.5,225.3 L164.2,225.3 L165.8,225.3 L167.5,225.3 L169.2,225.3 L170.9,225.3 L172.6,225.3 L174.3,225.3 L175.9,225.3 L177.6,225.3 L179.3,225.2 L181.0,225.2 L182.7,225.2 L184.4,225.2 L186.1,225.2 L187.7,225.2 L189.4,225.2 L191.1,225.2 L192.8,225.2 L194.5,225.1 L196.2,225.1 L197.8,225.1 L199.5,225.1 L201.2,225.1 L202.9,225.1 L204.6,225.1 L206.3,225.0 L207.9,225.0 L209.6,225.0 L211.3,225.0 L213.0,225.0 L214.7,225.0 L216.4,224.9 L218.0,224.9 L219.7,224.9 L221.4,224.9 L223.1,224.9 L224.8,224.8 L226.5,224.8 L228.2,224.8 L229.8,224.8 L231.5,224.7 L233.2,224.7 L234.9,224.7 L236.6,224.7 L238.3,224.6 L239.9,224.6 L241.6,224.6 L243.3,224.5 L245.0,224.5 L246.7,224.5 L248.4,224.4 L250.0,224.4 L251.7,224.4 L253.4,224.3 L255.1,224.3 L256.8,224.2 L258.5,224.2 L260.1,224.1 L261.8,224.1 L263.5,224.0 L265.2,224.0 L266.9,223.9 L268.6,223.9 L270.3,223.8 L271.9,223.8 L273.6,223.7 L275.3,223.6 L277.0,223.5 L278.7,223.5 L280.4,223.4 L282.0,223.3 L283.7,223.2 L285.4,223.1 L287.1,223.0 L288.8,222.9 L290.5,222.8 L292.1,222.6 L293.8,222.5 L295.5,222.4 L297.2,222.2 L298.9,222.1 L300.6,221.9 L302.2,221.7 L303.9,221.5 L305.6,221.4 L307.3,221.1 L309.0,220.9 L310.7,220.7 L312.4,220.4 L314.0,220.2 L315.7,219.9 L317.4,219.6 L319.1,219.3 L320.8,219.0 L322.5,218.6 L324.1,218.3 L325.8,217.9 L327.5,217.5 L329.2,217.1 L330.9,216.6 L332.6,216.1 L334.2,215.6 L335.9,215.1 L337.6,214.6 L339.3,214.0 L341.0,213.4 L342.7,212.7 L344.3,212.1 L346.0,211.4 L347.7,210.7 L349.4,209.9 L351.1,209.1 L352.8,208.3 L354.5,207.5 L356.1,206.6 L357.8,205.7 L359.5,204.7 L361.2,203.7 L362.9,202.7 L364.6,201.7 L366.2,200.6 L367.9,199.5 L369.6,198.3 L371.3,197.2 L373.0,196.0 L374.7,194.7 L376.3,193.5 L378.0,192.2 L379.7,190.9 L381.4,189.6 L383.1,188.2 L384.8,186.9 L386.4,185.5 L388.1,184.1 L389.8,182.7 L391.5,181.3 L393.2,180.0 L394.9,178.6 L396.6,177.2 L398.2,175.9 L399.9,174.5 L401.6,173.2 L403.3,172.0 L405.0,170.7 L406.7,169.5 L408.3,168.4 L410.0,167.4 L411.7,166.4 L413.4,165.5 L415.1,164.6 L416.8,163.9 L418.4,163.3 L420.1,162.7 L421.8,162.3 L423.5,162.0 L425.2,161.8 L426.9,161.8 L428.5,161.8 L430.2,162.0 L431.9,162.3 L433.6,162.7 L435.3,163.2 L437.0,163.9 L438.7,164.6 L440.3,165.5 L442.0,166.4 L443.7,167.5 L445.4,168.6 L447.1,169.8 L448.8,171.1 L450.4,172.4 L452.1,173.8 L453.8,175.3 L455.5,176.8 L457.2,178.3 L458.9,179.8 L460.5,181.4 L462.2,183.0 L463.9,184.6 L465.6,186.3 L467.3,187.9 L469.0,189.5 L470.6,191.1 L472.3,192.7 L474.0,194.3 L475.7,195.9 L477.4,197.4 L479.1,199.0 L480.8,200.5 L482.4,202.0 L484.1,203.4 L485.8,204.8 L487.5,206.2 L489.2,207.6 L490.9,208.9 L492.5,210.3 L494.2,211.5 L495.9,212.8 L497.6,214.0 L499.3,215.1 L501.0,216.3 L502.6,217.3 L504.3,218.4 L506.0,219.4 L507.7,220.4 L509.4,221.4 L511.1,222.3 L512.7,223.2 L514.4,224.1 L516.1,224.9 L517.8,225.7 L519.5,226.5 L521.2,227.2 L522.9,227.9 L524.5,228.6 L526.2,229.3 L527.9,229.9 L529.6,230.5 L531.3,231.1 L533.0,231.7 L534.6,232.2 L536.3,232.7 L538.0,233.2 L539.7,233.7 L541.4,234.1 L543.1,234.6 L544.7,235.0 L546.4,235.4 L548.1,235.8 L549.8,236.2 L551.5,236.5 L553.2,236.9 L554.9,237.2 L556.5,237.5 L558.2,237.8 L559.9,238.1 L561.6,238.4 L563.3,238.7 L565.0,239.0 L566.6,239.2 L568.3,239.5 L570.0,239.7 L571.7,240.0 L573.4,240.2 L575.1,240.4 L576.7,240.6 L578.4,240.8 L580.1,241.1 L581.8,241.3 L583.5,241.5 L585.2,241.7 L586.8,241.8 L588.5,242.0 L590.2,242.2 L591.9,242.4 L593.6,242.6 L595.3,242.8 L597.0,242.9 L598.6,243.1 L600.3,243.3 L602.0,243.4 L603.7,243.6 L605.4,243.8 L607.1,243.9 L608.7,244.1 L610.4,244.3 L612.1,244.4 L613.8,244.6 L615.5,244.7 L617.2,244.9 L618.8,245.0 L620.5,245.2 L622.2,245.4 L623.9,245.5 L625.6,245.7 L627.3,245.8 L628.9,246.0 L630.6,246.1 L632.3,246.3 L634.0,246.4 L635.7,246.6 L637.4,246.7 L639.1,246.8 L640.7,247.0 L642.4,247.1 L644.1,247.3 L645.8,247.4 L647.5,247.6 L649.2,247.7 L650.8,247.9 L652.5,248.0 L654.2,248.2 L655.9,248.3 L657.6,248.4 L659.3,248.6 L660.9,248.7 L662.6,248.9 L664.3,249.0 L666.0,249.2 L667.7,249.3 L669.4,249.4 L671.0,249.6 L672.7,249.7 L674.4,249.9 L676.1,250.0 L677.8,250.2 L679.5,250.3 L681.2,250.5 L682.8,250.6 L684.5,250.7 L686.2,250.9 L687.9,251.0 L689.6,251.2 L691.3,251.3 L692.9,251.5 L694.6,251.6 L696.3,251.8 L698.0,251.9 L699.7,252.1 L701.4,252.3 L703.0,252.4 L704.7,252.6 L706.4,252.7 L708.1,252.9 L709.8,253.1 L711.5,253.2 L713.1,253.4 L714.8,253.6 L716.5,253.8 L718.2,253.9 L719.9,254.1 L721.6,254.3 L723.3,254.5 L724.9,254.7 L726.6,254.9 L728.3,255.1 L730.0,255.3 L731.7,255.5 L733.4,255.7 L735.0,255.9 L736.7,256.2 L738.4,256.4 L740.1,256.6 L741.8,256.9 L743.5,257.1 L745.1,257.4 L746.8,257.7 L748.5,257.9 L750.2,258.2 L751.9,258.5 L753.6,258.8 L755.2,259.1 L756.9,259.3 L758.6,259.7 L760.3,260.0 L762.0,260.3 L763.7,260.6 L765.4,260.9 L767.0,261.2 L768.7,261.5 L770.4,261.9 L772.1,262.2 L773.8,262.5 L775.5,262.8 L777.1,263.2 L778.8,263.5 L780.5,263.8 L782.2,264.1 L783.9,264.4 L785.6,264.7 L787.2,265.0 L788.9,265.3 L790.6,265.6 L792.3,265.9 L794.0,266.2 L795.7,266.4 L797.3,266.7 L799.0,266.9 L800.7,267.2 L802.4,267.4 L804.1,267.6 L805.8,267.8 L807.5,268.0 L809.1,268.2 L810.8,268.4 L812.5,268.6 L814.2,268.8 L815.9,269.0 L817.6,269.1 L819.2,269.3 L820.9,269.4 L822.6,269.6 L824.3,269.7 L826.0,269.9 L827.7,270.0 L829.3,270.1 L831.0,270.2 L832.7,270.4 L834.4,270.5 L836.1,270.6 L837.8,270.7 L839.4,270.8 L841.1,270.9 L842.8,271.0 L844.5,271.1 L846.2,271.2 L847.9,271.2 L849.6,271.3 L851.2,271.4 L852.9,271.5 L854.6,271.6 L856.3,271.6 L858.0,271.7 L859.7,271.8 L861.3,271.8 L863.0,271.9 L864.7,272.0 L866.4,272.0 L868.1,272.1 L869.8,272.1 L871.4,272.2 L873.1,272.3 L874.8,272.3 L876.5,272.4 L878.2,272.4 L879.9,272.5 L881.5,272.5 L883.2,272.6 L884.9,272.6 L886.6,272.7 L888.3,272.7 L890.0,272.8 L891.7,272.8 L893.3,272.9 L895.0,272.9 L896.7,272.9 L898.4,273.0 L900.1,273.0 L901.8,273.1 L903.4,273.1 L905.1,273.2 L906.8,273.2 L908.5,273.2 L910.2,273.3 L911.9,273.3 L913.5,273.3 L915.2,273.4 L916.9,273.4 L918.6,273.4 L920.3,273.5 L922.0,273.5 L923.6,273.5 L925.3,273.6 L927.0,273.6 L928.7,273.6 L930.4,273.7 L932.1,273.7 L933.8,273.7 L935.4,273.8 L937.1,273.8 L938.8,273.8 L940.5,273.9 L942.2,273.9 L943.9,273.9 L945.5,273.9 L947.2,274.0 L948.9,274.0 L950.6,274.0 L952.3,274.1 L954.0,274.1" stroke="#b07ae0" stroke-width="3" fill="none"/><path d="M113.6,224.6 L115.3,224.6 L117.0,224.6 L118.7,224.6 L120.4,224.6 L122.1,224.6 L123.7,224.6 L125.4,224.6 L127.1,224.6 L128.8,224.6 L130.5,224.5 L132.2,224.5 L133.8,224.5 L135.5,224.5 L137.2,224.5 L138.9,224.5 L140.6,224.5 L142.3,224.5 L144.0,224.5 L145.6,224.5 L147.3,224.5 L149.0,224.5 L150.7,224.5 L152.4,224.5 L154.1,224.5 L155.7,224.5 L157.4,224.5 L159.1,224.5 L160.8,224.5 L162.5,224.5 L164.2,224.5 L165.8,224.5 L167.5,224.5 L169.2,224.5 L170.9,224.5 L172.6,224.5 L174.3,224.5 L175.9,224.5 L177.6,224.5 L179.3,224.5 L181.0,224.5 L182.7,224.5 L184.4,224.5 L186.1,224.5 L187.7,224.5 L189.4,224.5 L191.1,224.5 L192.8,224.5 L194.5,224.5 L196.2,224.5 L197.8,224.5 L199.5,224.5 L201.2,224.5 L202.9,224.5 L204.6,224.5 L206.3,224.5 L207.9,224.5 L209.6,224.5 L211.3,224.5 L213.0,224.5 L214.7,224.5 L216.4,224.5 L218.0,224.4 L219.7,224.4 L221.4,224.4 L223.1,224.4 L224.8,224.4 L226.5,224.4 L228.2,224.4 L229.8,224.4 L231.5,224.4 L233.2,224.4 L234.9,224.5 L236.6,224.5 L238.3,224.5 L239.9,224.5 L241.6,224.5 L243.3,224.5 L245.0,224.5 L246.7,224.5 L248.4,224.5 L250.0,224.5 L251.7,224.5 L253.4,224.5 L255.1,224.5 L256.8,224.5 L258.5,224.5 L260.1,224.5 L261.8,224.5 L263.5,224.5 L265.2,224.5 L266.9,224.5 L268.6,224.5 L270.3,224.5 L271.9,224.5 L273.6,224.5 L275.3,224.5 L277.0,224.5 L278.7,224.6 L280.4,224.6 L282.0,224.6 L283.7,224.6 L285.4,224.6 L287.1,224.6 L288.8,224.6 L290.5,224.6 L292.1,224.6 L293.8,224.6 L295.5,224.7 L297.2,224.7 L298.9,224.7 L300.6,224.7 L302.2,224.7 L303.9,224.7 L305.6,224.7 L307.3,224.8 L309.0,224.8 L310.7,224.8 L312.4,224.8 L314.0,224.8 L315.7,224.9 L317.4,224.9 L319.1,224.9 L320.8,224.9 L322.5,224.9 L324.1,225.0 L325.8,225.0 L327.5,225.0 L329.2,225.0 L330.9,225.1 L332.6,225.1 L334.2,225.1 L335.9,225.1 L337.6,225.2 L339.3,225.2 L341.0,225.2 L342.7,225.3 L344.3,225.3 L346.0,225.3 L347.7,225.3 L349.4,225.4 L351.1,225.4 L352.8,225.4 L354.5,225.5 L356.1,225.5 L357.8,225.5 L359.5,225.6 L361.2,225.6 L362.9,225.6 L364.6,225.7 L366.2,225.7 L367.9,225.7 L369.6,225.8 L371.3,225.8 L373.0,225.8 L374.7,225.9 L376.3,225.9 L378.0,226.0 L379.7,226.0 L381.4,226.0 L383.1,226.1 L384.8,226.1 L386.4,226.2 L388.1,226.2 L389.8,226.2 L391.5,226.3 L393.2,226.3 L394.9,226.4 L396.6,226.4 L398.2,226.5 L399.9,226.5 L401.6,226.5 L403.3,226.6 L405.0,226.6 L406.7,226.7 L408.3,226.7 L410.0,226.8 L411.7,226.8 L413.4,226.8 L415.1,226.9 L416.8,226.9 L418.4,227.0 L420.1,227.0 L421.8,227.0 L423.5,227.1 L425.2,227.1 L426.9,227.2 L428.5,227.2 L430.2,227.2 L431.9,227.2 L433.6,227.3 L435.3,227.3 L437.0,227.3 L438.7,227.3 L440.3,227.3 L442.0,227.3 L443.7,227.3 L445.4,227.3 L447.1,227.3 L448.8,227.3 L450.4,227.3 L452.1,227.3 L453.8,227.3 L455.5,227.2 L457.2,227.2 L458.9,227.2 L460.5,227.1 L462.2,227.1 L463.9,227.0 L465.6,227.0 L467.3,226.9 L469.0,226.8 L470.6,226.7 L472.3,226.7 L474.0,226.6 L475.7,226.5 L477.4,226.4 L479.1,226.3 L480.8,226.2 L482.4,226.1 L484.1,225.9 L485.8,225.8 L487.5,225.7 L489.2,225.5 L490.9,225.4 L492.5,225.2 L494.2,225.1 L495.9,224.9 L497.6,224.8 L499.3,224.6 L501.0,224.4 L502.6,224.2 L504.3,224.0 L506.0,223.8 L507.7,223.7 L509.4,223.4 L511.1,223.2 L512.7,223.0 L514.4,222.8 L516.1,222.6 L517.8,222.3 L519.5,222.1 L521.2,221.9 L522.9,221.6 L524.5,221.4 L526.2,221.1 L527.9,220.9 L529.6,220.6 L531.3,220.3 L533.0,220.0 L534.6,219.8 L536.3,219.5 L538.0,219.2 L539.7,218.9 L541.4,218.6 L543.1,218.3 L544.7,218.0 L546.4,217.7 L548.1,217.3 L549.8,217.0 L551.5,216.7 L553.2,216.4 L554.9,216.0 L556.5,215.7 L558.2,215.3 L559.9,215.0 L561.6,214.7 L563.3,214.3 L565.0,213.9 L566.6,213.6 L568.3,213.2 L570.0,212.9 L571.7,212.5 L573.4,212.1 L575.1,211.8 L576.7,211.4 L578.4,211.0 L580.1,210.7 L581.8,210.3 L583.5,209.9 L585.2,209.5 L586.8,209.2 L588.5,208.8 L590.2,208.4 L591.9,208.1 L593.6,207.7 L595.3,207.3 L597.0,207.0 L598.6,206.6 L600.3,206.3 L602.0,205.9 L603.7,205.6 L605.4,205.2 L607.1,204.9 L608.7,204.6 L610.4,204.3 L612.1,204.0 L613.8,203.7 L615.5,203.4 L617.2,203.1 L618.8,202.8 L620.5,202.6 L622.2,202.3 L623.9,202.1 L625.6,201.8 L627.3,201.6 L628.9,201.4 L630.6,201.2 L632.3,201.1 L634.0,200.9 L635.7,200.8 L637.4,200.7 L639.1,200.6 L640.7,200.5 L642.4,200.4 L644.1,200.3 L645.8,200.3 L647.5,200.3 L649.2,200.3 L650.8,200.3 L652.5,200.4 L654.2,200.4 L655.9,200.5 L657.6,200.6 L659.3,200.7 L660.9,200.8 L662.6,201.0 L664.3,201.1 L666.0,201.3 L667.7,201.5 L669.4,201.7 L671.0,202.0 L672.7,202.2 L674.4,202.5 L676.1,202.7 L677.8,203.0 L679.5,203.3 L681.2,203.6 L682.8,204.0 L684.5,204.3 L686.2,204.7 L687.9,205.0 L689.6,205.4 L691.3,205.8 L692.9,206.2 L694.6,206.6 L696.3,207.1 L698.0,207.5 L699.7,208.0 L701.4,208.4 L703.0,208.9 L704.7,209.4 L706.4,209.9 L708.1,210.4 L709.8,210.9 L711.5,211.4 L713.1,211.9 L714.8,212.5 L716.5,213.0 L718.2,213.6 L719.9,214.1 L721.6,214.7 L723.3,215.2 L724.9,215.8 L726.6,216.4 L728.3,217.0 L730.0,217.6 L731.7,218.2 L733.4,218.8 L735.0,219.4 L736.7,220.1 L738.4,220.7 L740.1,221.3 L741.8,222.0 L743.5,222.6 L745.1,223.2 L746.8,223.9 L748.5,224.6 L750.2,225.2 L751.9,225.9 L753.6,226.6 L755.2,227.2 L756.9,227.9 L758.6,228.6 L760.3,229.3 L762.0,230.0 L763.7,230.7 L765.4,231.4 L767.0,232.0 L768.7,232.7 L770.4,233.4 L772.1,234.1 L773.8,234.8 L775.5,235.5 L777.1,236.1 L778.8,236.8 L780.5,237.5 L782.2,238.1 L783.9,238.8 L785.6,239.4 L787.2,240.0 L788.9,240.6 L790.6,241.2 L792.3,241.8 L794.0,242.4 L795.7,243.0 L797.3,243.5 L799.0,244.1 L800.7,244.6 L802.4,245.2 L804.1,245.7 L805.8,246.2 L807.5,246.7 L809.1,247.1 L810.8,247.6 L812.5,248.1 L814.2,248.5 L815.9,248.9 L817.6,249.4 L819.2,249.8 L820.9,250.2 L822.6,250.6 L824.3,251.0 L826.0,251.4 L827.7,251.7 L829.3,252.1 L831.0,252.5 L832.7,252.8 L834.4,253.1 L836.1,253.5 L837.8,253.8 L839.4,254.1 L841.1,254.4 L842.8,254.7 L844.5,255.0 L846.2,255.3 L847.9,255.6 L849.6,255.9 L851.2,256.2 L852.9,256.4 L854.6,256.7 L856.3,257.0 L858.0,257.2 L859.7,257.5 L861.3,257.7 L863.0,257.9 L864.7,258.2 L866.4,258.4 L868.1,258.6 L869.8,258.9 L871.4,259.1 L873.1,259.3 L874.8,259.5 L876.5,259.7 L878.2,259.9 L879.9,260.1 L881.5,260.3 L883.2,260.5 L884.9,260.7 L886.6,260.9 L888.3,261.1 L890.0,261.3 L891.7,261.5 L893.3,261.6 L895.0,261.8 L896.7,262.0 L898.4,262.2 L900.1,262.3 L901.8,262.5 L903.4,262.7 L905.1,262.8 L906.8,263.0 L908.5,263.1 L910.2,263.3 L911.9,263.4 L913.5,263.6 L915.2,263.7 L916.9,263.9 L918.6,264.0 L920.3,264.1 L922.0,264.3 L923.6,264.4 L925.3,264.5 L927.0,264.7 L928.7,264.8 L930.4,264.9 L932.1,265.1 L933.8,265.2 L935.4,265.3 L937.1,265.4 L938.8,265.5 L940.5,265.7 L942.2,265.8 L943.9,265.9 L945.5,266.0 L947.2,266.1 L948.9,266.2 L950.6,266.3 L952.3,266.4 L954.0,266.5" stroke="#d4a017" stroke-width="3" fill="none"/><path d="M113.6,226.3 L115.3,226.3 L117.0,226.3 L118.7,226.3 L120.4,226.3 L122.1,226.3 L123.7,226.3 L125.4,226.3 L127.1,226.4 L128.8,226.4 L130.5,226.4 L132.2,226.4 L133.8,226.4 L135.5,226.4 L137.2,226.4 L138.9,226.4 L140.6,226.4 L142.3,226.4 L144.0,226.4 L145.6,226.5 L147.3,226.5 L149.0,226.5 L150.7,226.5 L152.4,226.5 L154.1,226.5 L155.7,226.5 L157.4,226.5 L159.1,226.5 L160.8,226.6 L162.5,226.6 L164.2,226.6 L165.8,226.6 L167.5,226.6 L169.2,226.6 L170.9,226.6 L172.6,226.6 L174.3,226.6 L175.9,226.7 L177.6,226.7 L179.3,226.7 L181.0,226.7 L182.7,226.7 L184.4,226.7 L186.1,226.7 L187.7,226.8 L189.4,226.8 L191.1,226.8 L192.8,226.8 L194.5,226.8 L196.2,226.8 L197.8,226.8 L199.5,226.9 L201.2,226.9 L202.9,226.9 L204.6,226.9 L206.3,226.9 L207.9,226.9 L209.6,227.0 L211.3,227.0 L213.0,227.0 L214.7,227.0 L216.4,227.0 L218.0,227.0 L219.7,227.1 L221.4,227.1 L223.1,227.1 L224.8,227.1 L226.5,227.1 L228.2,227.2 L229.8,227.2 L231.5,227.2 L233.2,227.2 L234.9,227.3 L236.6,227.3 L238.3,227.3 L239.9,227.3 L241.6,227.3 L243.3,227.4 L245.0,227.4 L246.7,227.4 L248.4,227.4 L250.0,227.5 L251.7,227.5 L253.4,227.5 L255.1,227.6 L256.8,227.6 L258.5,227.6 L260.1,227.6 L261.8,227.7 L263.5,227.7 L265.2,227.7 L266.9,227.8 L268.6,227.8 L270.3,227.8 L271.9,227.9 L273.6,227.9 L275.3,227.9 L277.0,228.0 L278.7,228.0 L280.4,228.0 L282.0,228.1 L283.7,228.1 L285.4,228.2 L287.1,228.2 L288.8,228.2 L290.5,228.3 L292.1,228.3 L293.8,228.4 L295.5,228.4 L297.2,228.5 L298.9,228.5 L300.6,228.6 L302.2,228.6 L303.9,228.7 L305.6,228.7 L307.3,228.8 L309.0,228.8 L310.7,228.9 L312.4,228.9 L314.0,229.0 L315.7,229.1 L317.4,229.1 L319.1,229.2 L320.8,229.2 L322.5,229.3 L324.1,229.4 L325.8,229.4 L327.5,229.5 L329.2,229.6 L330.9,229.6 L332.6,229.7 L334.2,229.8 L335.9,229.9 L337.6,229.9 L339.3,230.0 L341.0,230.1 L342.7,230.2 L344.3,230.2 L346.0,230.3 L347.7,230.4 L349.4,230.5 L351.1,230.6 L352.8,230.6 L354.5,230.7 L356.1,230.8 L357.8,230.9 L359.5,231.0 L361.2,231.1 L362.9,231.2 L364.6,231.3 L366.2,231.4 L367.9,231.5 L369.6,231.6 L371.3,231.7 L373.0,231.8 L374.7,231.9 L376.3,232.0 L378.0,232.1 L379.7,232.2 L381.4,232.3 L383.1,232.4 L384.8,232.5 L386.4,232.6 L388.1,232.7 L389.8,232.8 L391.5,233.0 L393.2,233.1 L394.9,233.2 L396.6,233.3 L398.2,233.5 L399.9,233.6 L401.6,233.7 L403.3,233.8 L405.0,234.0 L406.7,234.1 L408.3,234.2 L410.0,234.4 L411.7,234.5 L413.4,234.6 L415.1,234.8 L416.8,234.9 L418.4,235.1 L420.1,235.2 L421.8,235.4 L423.5,235.5 L425.2,235.6 L426.9,235.8 L428.5,235.9 L430.2,236.1 L431.9,236.2 L433.6,236.3 L435.3,236.5 L437.0,236.6 L438.7,236.8 L440.3,236.9 L442.0,237.0 L443.7,237.2 L445.4,237.3 L447.1,237.4 L448.8,237.5 L450.4,237.7 L452.1,237.8 L453.8,237.9 L455.5,238.0 L457.2,238.1 L458.9,238.2 L460.5,238.4 L462.2,238.5 L463.9,238.6 L465.6,238.7 L467.3,238.8 L469.0,238.9 L470.6,239.0 L472.3,239.0 L474.0,239.1 L475.7,239.2 L477.4,239.3 L479.1,239.4 L480.8,239.5 L482.4,239.5 L484.1,239.6 L485.8,239.7 L487.5,239.7 L489.2,239.8 L490.9,239.9 L492.5,239.9 L494.2,240.0 L495.9,240.0 L497.6,240.1 L499.3,240.2 L501.0,240.2 L502.6,240.3 L504.3,240.3 L506.0,240.3 L507.7,240.4 L509.4,240.4 L511.1,240.5 L512.7,240.5 L514.4,240.5 L516.1,240.6 L517.8,240.6 L519.5,240.6 L521.2,240.7 L522.9,240.7 L524.5,240.7 L526.2,240.8 L527.9,240.8 L529.6,240.8 L531.3,240.8 L533.0,240.8 L534.6,240.9 L536.3,240.9 L538.0,240.9 L539.7,240.9 L541.4,240.9 L543.1,240.9 L544.7,241.0 L546.4,241.0 L548.1,241.0 L549.8,241.0 L551.5,241.0 L553.2,241.0 L554.9,241.0 L556.5,241.0 L558.2,241.0 L559.9,241.0 L561.6,241.0 L563.3,241.0 L565.0,241.0 L566.6,241.0 L568.3,241.0 L570.0,241.0 L571.7,241.0 L573.4,241.0 L575.1,241.0 L576.7,241.0 L578.4,240.9 L580.1,240.9 L581.8,240.9 L583.5,240.9 L585.2,240.9 L586.8,240.8 L588.5,240.8 L590.2,240.8 L591.9,240.8 L593.6,240.7 L595.3,240.7 L597.0,240.7 L598.6,240.6 L600.3,240.6 L602.0,240.5 L603.7,240.5 L605.4,240.4 L607.1,240.4 L608.7,240.3 L610.4,240.3 L612.1,240.2 L613.8,240.1 L615.5,240.1 L617.2,240.0 L618.8,239.9 L620.5,239.8 L622.2,239.7 L623.9,239.6 L625.6,239.5 L627.3,239.4 L628.9,239.3 L630.6,239.2 L632.3,239.1 L634.0,238.9 L635.7,238.8 L637.4,238.7 L639.1,238.5 L640.7,238.3 L642.4,238.2 L644.1,238.0 L645.8,237.8 L647.5,237.6 L649.2,237.4 L650.8,237.1 L652.5,236.9 L654.2,236.6 L655.9,236.3 L657.6,236.0 L659.3,235.7 L660.9,235.4 L662.6,235.0 L664.3,234.6 L666.0,234.2 L667.7,233.8 L669.4,233.4 L671.0,232.9 L672.7,232.4 L674.4,231.8 L676.1,231.2 L677.8,230.6 L679.5,229.9 L681.2,229.2 L682.8,228.4 L684.5,227.6 L686.2,226.8 L687.9,225.8 L689.6,224.9 L691.3,223.8 L692.9,222.7 L694.6,221.5 L696.3,220.3 L698.0,219.0 L699.7,217.5 L701.4,216.0 L703.0,214.5 L704.7,212.8 L706.4,211.0 L708.1,209.1 L709.8,207.2 L711.5,205.1 L713.1,202.9 L714.8,200.6 L716.5,198.2 L718.2,195.6 L719.9,193.0 L721.6,190.2 L723.3,187.3 L724.9,184.3 L726.6,181.1 L728.3,177.9 L730.0,174.5 L731.7,171.0 L733.4,167.4 L735.0,163.7 L736.7,159.9 L738.4,156.0 L740.1,152.1 L741.8,148.1 L743.5,144.0 L745.1,139.9 L746.8,135.7 L748.5,131.6 L750.2,127.5 L751.9,123.5 L753.6,119.6 L755.2,115.8 L756.9,112.1 L758.6,108.7 L760.3,105.5 L762.0,102.6 L763.7,100.0 L765.4,97.7 L767.0,95.9 L768.7,94.5 L770.4,93.5 L772.1,93.0 L773.8,93.0 L775.5,93.5 L777.1,94.5 L778.8,96.1 L780.5,98.2 L782.2,100.8 L783.9,103.9 L785.6,107.4 L787.2,111.2 L788.9,115.3 L790.6,119.7 L792.3,124.2 L794.0,129.0 L795.7,133.8 L797.3,138.7 L799.0,143.7 L800.7,148.6 L802.4,153.6 L804.1,158.4 L805.8,163.2 L807.5,167.9 L809.1,172.5 L810.8,177.0 L812.5,181.4 L814.2,185.6 L815.9,189.6 L817.6,193.6 L819.2,197.3 L820.9,201.0 L822.6,204.4 L824.3,207.7 L826.0,210.9 L827.7,213.9 L829.3,216.8 L831.0,219.6 L832.7,222.2 L834.4,224.6 L836.1,227.0 L837.8,229.2 L839.4,231.3 L841.1,233.2 L842.8,235.1 L844.5,236.9 L846.2,238.5 L847.9,240.1 L849.6,241.6 L851.2,243.0 L852.9,244.3 L854.6,245.5 L856.3,246.7 L858.0,247.8 L859.7,248.8 L861.3,249.8 L863.0,250.7 L864.7,251.6 L866.4,252.4 L868.1,253.2 L869.8,253.9 L871.4,254.6 L873.1,255.3 L874.8,255.9 L876.5,256.5 L878.2,257.1 L879.9,257.6 L881.5,258.1 L883.2,258.6 L884.9,259.1 L886.6,259.5 L888.3,259.9 L890.0,260.3 L891.7,260.7 L893.3,261.1 L895.0,261.5 L896.7,261.8 L898.4,262.1 L900.1,262.5 L901.8,262.8 L903.4,263.1 L905.1,263.4 L906.8,263.6 L908.5,263.9 L910.2,264.2 L911.9,264.4 L913.5,264.7 L915.2,264.9 L916.9,265.1 L918.6,265.4 L920.3,265.6 L922.0,265.8 L923.6,266.0 L925.3,266.2 L927.0,266.4 L928.7,266.6 L930.4,266.8 L932.1,266.9 L933.8,267.1 L935.4,267.3 L937.1,267.4 L938.8,267.6 L940.5,267.7 L942.2,267.9 L943.9,268.0 L945.5,268.2 L947.2,268.3 L948.9,268.5 L950.6,268.6 L952.3,268.7 L954.0,268.9" stroke="#1cc7c7" stroke-width="3" fill="none"/><path d="M113.6,219.8 L115.3,219.8 L117.0,219.7 L118.7,219.7 L120.4,219.6 L122.1,219.5 L123.7,219.5 L125.4,219.4 L127.1,219.3 L128.8,219.3 L130.5,219.2 L132.2,219.1 L133.8,219.1 L135.5,219.0 L137.2,218.9 L138.9,218.9 L140.6,218.8 L142.3,218.7 L144.0,218.6 L145.6,218.5 L147.3,218.5 L149.0,218.4 L150.7,218.3 L152.4,218.2 L154.1,218.1 L155.7,218.0 L157.4,217.9 L159.1,217.9 L160.8,217.8 L162.5,217.7 L164.2,217.6 L165.8,217.5 L167.5,217.4 L169.2,217.3 L170.9,217.1 L172.6,217.0 L174.3,216.9 L175.9,216.8 L177.6,216.7 L179.3,216.6 L181.0,216.5 L182.7,216.3 L184.4,216.2 L186.1,216.1 L187.7,215.9 L189.4,215.8 L191.1,215.7 L192.8,215.5 L194.5,215.4 L196.2,215.2 L197.8,215.1 L199.5,214.9 L201.2,214.8 L202.9,214.6 L204.6,214.4 L206.3,214.3 L207.9,214.1 L209.6,213.9 L211.3,213.7 L213.0,213.5 L214.7,213.3 L216.4,213.1 L218.0,212.9 L219.7,212.7 L221.4,212.5 L223.1,212.3 L224.8,212.1 L226.5,211.9 L228.2,211.6 L229.8,211.4 L231.5,211.1 L233.2,210.9 L234.9,210.6 L236.6,210.4 L238.3,210.1 L239.9,209.8 L241.6,209.5 L243.3,209.2 L245.0,208.9 L246.7,208.6 L248.4,208.3 L250.0,208.0 L251.7,207.6 L253.4,207.3 L255.1,206.9 L256.8,206.6 L258.5,206.2 L260.1,205.8 L261.8,205.4 L263.5,205.0 L265.2,204.6 L266.9,204.2 L268.6,203.8 L270.3,203.3 L271.9,202.9 L273.6,202.4 L275.3,201.9 L277.0,201.4 L278.7,200.9 L280.4,200.4 L282.0,199.9 L283.7,199.4 L285.4,198.8 L287.1,198.3 L288.8,197.7 L290.5,197.1 L292.1,196.5 L293.8,195.9 L295.5,195.3 L297.2,194.7 L298.9,194.0 L300.6,193.4 L302.2,192.7 L303.9,192.0 L305.6,191.4 L307.3,190.7 L309.0,190.0 L310.7,189.3 L312.4,188.6 L314.0,187.8 L315.7,187.1 L317.4,186.4 L319.1,185.7 L320.8,184.9 L322.5,184.2 L324.1,183.5 L325.8,182.7 L327.5,182.0 L329.2,181.2 L330.9,180.5 L332.6,179.8 L334.2,179.0 L335.9,178.3 L337.6,177.6 L339.3,176.8 L341.0,176.1 L342.7,175.4 L344.3,174.6 L346.0,173.9 L347.7,173.2 L349.4,172.4 L351.1,171.7 L352.8,170.9 L354.5,170.2 L356.1,169.4 L357.8,168.6 L359.5,167.8 L361.2,167.0 L362.9,166.2 L364.6,165.3 L366.2,164.5 L367.9,163.6 L369.6,162.7 L371.3,161.8 L373.0,160.9 L374.7,160.0 L376.3,159.0 L378.0,158.0 L379.7,157.0 L381.4,156.0 L383.1,155.0 L384.8,154.0 L386.4,152.9 L388.1,151.9 L389.8,150.8 L391.5,149.7 L393.2,148.6 L394.9,147.6 L396.6,146.5 L398.2,145.4 L399.9,144.4 L401.6,143.4 L403.3,142.4 L405.0,141.5 L406.7,140.5 L408.3,139.7 L410.0,138.9 L411.7,138.1 L413.4,137.5 L415.1,136.9 L416.8,136.3 L418.4,135.9 L420.1,135.6 L421.8,135.3 L423.5,135.2 L425.2,135.2 L426.9,135.3 L428.5,135.5 L430.2,135.8 L431.9,136.2 L433.6,136.8 L435.3,137.4 L437.0,138.2 L438.7,139.0 L440.3,140.0 L442.0,141.0 L443.7,142.1 L445.4,143.3 L447.1,144.6 L448.8,145.9 L450.4,147.3 L452.1,148.7 L453.8,150.2 L455.5,151.7 L457.2,153.2 L458.9,154.8 L460.5,156.3 L462.2,157.9 L463.9,159.5 L465.6,161.1 L467.3,162.7 L469.0,164.2 L470.6,165.8 L472.3,167.3 L474.0,168.8 L475.7,170.3 L477.4,171.8 L479.1,173.2 L480.8,174.6 L482.4,176.0 L484.1,177.3 L485.8,178.6 L487.5,179.9 L489.2,181.1 L490.9,182.3 L492.5,183.4 L494.2,184.5 L495.9,185.6 L497.6,186.6 L499.3,187.6 L501.0,188.5 L502.6,189.4 L504.3,190.3 L506.0,191.1 L507.7,191.9 L509.4,192.6 L511.1,193.3 L512.7,194.0 L514.4,194.6 L516.1,195.1 L517.8,195.7 L519.5,196.2 L521.2,196.6 L522.9,197.1 L524.5,197.4 L526.2,197.8 L527.9,198.1 L529.6,198.4 L531.3,198.7 L533.0,198.9 L534.6,199.1 L536.3,199.3 L538.0,199.4 L539.7,199.5 L541.4,199.6 L543.1,199.7 L544.7,199.7 L546.4,199.7 L548.1,199.7 L549.8,199.7 L551.5,199.7 L553.2,199.6 L554.9,199.5 L556.5,199.4 L558.2,199.3 L559.9,199.1 L561.6,199.0 L563.3,198.8 L565.0,198.6 L566.6,198.4 L568.3,198.2 L570.0,198.0 L571.7,197.7 L573.4,197.5 L575.1,197.2 L576.7,196.9 L578.4,196.6 L580.1,196.3 L581.8,196.0 L583.5,195.7 L585.2,195.4 L586.8,195.1 L588.5,194.7 L590.2,194.4 L591.9,194.1 L593.6,193.7 L595.3,193.4 L597.0,193.0 L598.6,192.6 L600.3,192.3 L602.0,191.9 L603.7,191.5 L605.4,191.2 L607.1,190.8 L608.7,190.4 L610.4,190.1 L612.1,189.7 L613.8,189.3 L615.5,189.0 L617.2,188.6 L618.8,188.2 L620.5,187.9 L622.2,187.5 L623.9,187.2 L625.6,186.8 L627.3,186.5 L628.9,186.2 L630.6,185.8 L632.3,185.5 L634.0,185.2 L635.7,184.9 L637.4,184.6 L639.1,184.3 L640.7,184.0 L642.4,183.7 L644.1,183.4 L645.8,183.2 L647.5,182.9 L649.2,182.6 L650.8,182.4 L652.5,182.1 L654.2,181.9 L655.9,181.6 L657.6,181.3 L659.3,181.1 L660.9,180.8 L662.6,180.6 L664.3,180.3 L666.0,180.0 L667.7,179.7 L669.4,179.4 L671.0,179.1 L672.7,178.7 L674.4,178.4 L676.1,178.0 L677.8,177.6 L679.5,177.1 L681.2,176.6 L682.8,176.1 L684.5,175.6 L686.2,175.0 L687.9,174.4 L689.6,173.7 L691.3,172.9 L692.9,172.2 L694.6,171.3 L696.3,170.4 L698.0,169.4 L699.7,168.3 L701.4,167.2 L703.0,166.0 L704.7,164.7 L706.4,163.3 L708.1,161.8 L709.8,160.2 L711.5,158.5 L713.1,156.8 L714.8,154.9 L716.5,152.9 L718.2,150.7 L719.9,148.5 L721.6,146.2 L723.3,143.7 L724.9,141.1 L726.6,138.4 L728.3,135.6 L730.0,132.6 L731.7,129.6 L733.4,126.4 L735.0,123.2 L736.7,119.8 L738.4,116.3 L740.1,112.8 L741.8,109.2 L743.5,105.6 L745.1,101.9 L746.8,98.2 L748.5,94.5 L750.2,90.8 L751.9,87.2 L753.6,83.7 L755.2,80.3 L756.9,77.1 L758.6,74.1 L760.3,71.3 L762.0,68.8 L763.7,66.6 L765.4,64.8 L767.0,63.3 L768.7,62.3 L770.4,61.7 L772.1,61.6 L773.8,62.0 L775.5,62.8 L777.1,64.3 L778.8,66.2 L780.5,68.7 L782.2,71.7 L783.9,75.1 L785.6,78.9 L787.2,83.1 L788.9,87.6 L790.6,92.3 L792.3,97.2 L794.0,102.3 L795.7,107.5 L797.3,112.7 L799.0,118.0 L800.7,123.3 L802.4,128.5 L804.1,133.7 L805.8,138.8 L807.5,143.8 L809.1,148.7 L810.8,153.5 L812.5,158.1 L814.2,162.6 L815.9,167.0 L817.6,171.2 L819.2,175.2 L820.9,179.1 L822.6,182.9 L824.3,186.5 L826.0,189.9 L827.7,193.2 L829.3,196.3 L831.0,199.3 L832.7,202.2 L834.4,204.9 L836.1,207.4 L837.8,209.9 L839.4,212.2 L841.1,214.4 L842.8,216.5 L844.5,218.5 L846.2,220.4 L847.9,222.2 L849.6,223.9 L851.2,225.5 L852.9,227.0 L854.6,228.5 L856.3,229.8 L858.0,231.1 L859.7,232.3 L861.3,233.5 L863.0,234.6 L864.7,235.7 L866.4,236.7 L868.1,237.7 L869.8,238.6 L871.4,239.4 L873.1,240.3 L874.8,241.1 L876.5,241.8 L878.2,242.6 L879.9,243.3 L881.5,243.9 L883.2,244.6 L884.9,245.2 L886.6,245.8 L888.3,246.4 L890.0,247.0 L891.7,247.5 L893.3,248.0 L895.0,248.5 L896.7,249.0 L898.4,249.5 L900.1,249.9 L901.8,250.4 L903.4,250.8 L905.1,251.2 L906.8,251.6 L908.5,252.0 L910.2,252.4 L911.9,252.8 L913.5,253.2 L915.2,253.5 L916.9,253.9 L918.6,254.2 L920.3,254.5 L922.0,254.9 L923.6,255.2 L925.3,255.5 L927.0,255.8 L928.7,256.1 L930.4,256.4 L932.1,256.7 L933.8,256.9 L935.4,257.2 L937.1,257.5 L938.8,257.7 L940.5,258.0 L942.2,258.2 L943.9,258.5 L945.5,258.7 L947.2,258.9 L948.9,259.2 L950.6,259.4 L952.3,259.6 L954.0,259.8" stroke="#ee3e3e" stroke-width="3" fill="none"/><path d="M113.6,547.0 L115.0,525.3 L116.3,530.3 L117.6,533.9 L118.9,521.9 L120.2,529.7 L121.5,529.7 L122.8,512.0 L124.2,539.7 L125.5,535.5 L126.8,523.1 L128.1,527.6 L129.4,534.3 L130.7,526.6 L132.1,526.7 L133.4,514.5 L134.7,534.5 L136.0,530.1 L137.3,531.5 L138.6,513.5 L139.9,545.2 L141.3,530.1 L142.6,524.6 L143.9,548.7 L145.2,527.9 L146.5,513.8 L147.8,524.1 L149.1,505.2 L150.5,538.5 L151.8,523.8 L153.1,520.4 L154.4,538.5 L155.7,511.2 L157.0,533.0 L158.4,506.9 L159.7,520.8 L161.0,515.3 L162.3,541.9 L163.6,544.8 L164.9,523.8 L166.2,535.4 L167.6,525.1 L168.9,532.5 L170.2,519.2 L171.5,509.5 L172.8,508.3 L174.1,530.0 L175.4,548.5 L176.8,528.6 L178.1,520.4 L179.4,544.6 L180.7,527.7 L182.0,526.2 L183.3,527.5 L184.7,523.5 L186.0,521.5 L187.3,510.1 L188.6,529.3 L189.9,523.1 L191.2,535.8 L192.5,520.0 L193.9,504.4 L195.2,522.3 L196.5,540.1 L197.8,519.1 L199.1,513.8 L200.4,510.6 L201.7,511.8 L203.1,519.1 L204.4,510.1 L205.7,536.7 L207.0,518.7 L208.3,522.4 L209.6,535.5 L211.0,535.9 L212.3,518.5 L213.6,523.7 L214.9,527.5 L216.2,518.2 L217.5,502.3 L218.8,526.6 L220.2,529.0 L221.5,524.2 L222.8,510.7 L224.1,518.0 L225.4,514.0 L226.7,516.8 L228.0,532.7 L229.4,535.0 L230.7,526.3 L232.0,525.1 L233.3,526.3 L234.6,519.3 L235.9,518.6 L237.3,512.5 L238.6,518.6 L239.9,541.6 L241.2,527.6 L242.5,515.4 L243.8,514.0 L245.1,509.9 L246.5,522.2 L247.8,522.2 L249.1,503.7 L250.4,522.8 L251.7,512.1 L253.0,531.9 L254.4,519.0 L255.7,534.4 L257.0,512.4 L258.3,513.9 L259.6,519.6 L260.9,526.9 L262.2,521.7 L263.6,503.4 L264.9,517.3 L266.2,515.4 L267.5,510.6 L268.8,508.0 L270.1,531.7 L271.4,509.9 L272.8,505.0 L274.1,519.4 L275.4,513.9 L276.7,511.4 L278.0,519.5 L279.3,516.2 L280.7,514.4 L282.0,519.9 L283.3,512.6 L284.6,503.0 L285.9,505.0 L287.2,502.8 L288.5,509.5 L289.9,496.0 L291.2,487.8 L292.5,506.3 L293.8,491.3 L295.1,484.4 L296.4,506.8 L297.7,495.0 L299.1,506.1 L300.4,494.8 L301.7,487.9 L303.0,485.6 L304.3,491.8 L305.6,493.1 L307.0,486.5 L308.3,490.7 L309.6,477.0 L310.9,491.3 L312.2,472.0 L313.5,486.7 L314.8,494.4 L316.2,497.0 L317.5,501.9 L318.8,467.9 L320.1,489.7 L321.4,492.8 L322.7,489.1 L324.0,468.7 L325.4,480.7 L326.7,493.8 L328.0,458.8 L329.3,476.8 L330.6,481.3 L331.9,461.5 L333.3,472.5 L334.6,454.2 L335.9,455.1 L337.2,453.4 L338.5,461.9 L339.8,457.5 L341.1,466.5 L342.5,446.1 L343.8,452.8 L345.1,462.5 L346.4,457.2 L347.7,437.2 L349.0,456.0 L350.3,443.6 L351.7,451.2 L353.0,449.5 L354.3,457.8 L355.6,446.0 L356.9,425.6 L358.2,429.7 L359.6,450.0 L360.9,439.5 L362.2,452.9 L363.5,443.7 L364.8,433.0 L366.1,450.8 L367.4,431.5 L368.8,418.6 L370.1,459.4 L371.4,419.3 L372.7,444.4 L374.0,447.1 L375.3,438.9 L376.7,420.3 L378.0,447.0 L379.3,422.2 L380.6,422.9 L381.9,432.5 L383.2,443.8 L384.5,438.8 L385.9,443.7 L387.2,431.1 L388.5,434.4 L389.8,425.3 L391.1,434.1 L392.4,443.8 L393.7,435.5 L395.1,444.0 L396.4,434.2 L397.7,434.8 L399.0,442.0 L400.3,440.5 L401.6,449.3 L403.0,446.2 L404.3,462.8 L405.6,444.3 L406.9,445.4 L408.2,438.5 L409.5,450.4 L410.8,458.3 L412.2,445.5 L413.5,453.8 L414.8,463.0 L416.1,456.1 L417.4,453.8 L418.7,470.3 L420.0,463.2 L421.4,467.8 L422.7,476.8 L424.0,477.9 L425.3,464.3 L426.6,463.9 L427.9,473.4 L429.3,470.6 L430.6,454.3 L431.9,487.4 L433.2,476.2 L434.5,484.7 L435.8,466.9 L437.1,492.8 L438.5,475.3 L439.8,481.3 L441.1,469.6 L442.4,483.2 L443.7,483.7 L445.0,485.3 L446.3,492.6 L447.7,489.9 L449.0,500.1 L450.3,486.7 L451.6,482.4 L452.9,493.1 L454.2,500.4 L455.6,507.7 L456.9,504.9 L458.2,480.5 L459.5,503.3 L460.8,515.5 L462.1,502.9 L463.4,498.4 L464.8,507.9 L466.1,501.0 L467.4,513.7 L468.7,508.3 L470.0,523.5 L471.3,515.7 L472.6,504.6 L474.0,518.9 L475.3,523.3 L476.6,509.2 L477.9,511.6 L479.2,493.8 L480.5,526.8 L481.9,512.8 L483.2,498.4 L484.5,502.8 L485.8,519.1 L487.1,529.7 L488.4,522.0 L489.7,528.0 L491.1,512.3 L492.4,510.0 L493.7,532.3 L495.0,528.3 L496.3,523.1 L497.6,536.1 L499.0,513.7 L500.3,519.0 L501.6,533.4 L502.9,541.4 L504.2,523.0 L505.5,539.5 L506.8,516.6 L508.2,525.7 L509.5,520.5 L510.8,506.2 L512.1,524.5 L513.4,531.0 L514.7,520.0 L516.0,520.5 L517.4,534.9 L518.7,508.3 L520.0,505.5 L521.3,513.7 L522.6,508.0 L523.9,533.1 L525.3,522.4 L526.6,510.4 L527.9,512.6 L529.2,547.0 L530.5,512.0 L531.8,510.1 L533.1,520.4 L534.5,523.4 L535.8,519.2 L537.1,508.1 L538.4,505.8 L539.7,523.6 L541.0,517.3 L542.3,501.6 L543.7,529.9 L545.0,526.1 L546.3,516.1 L547.6,516.0 L548.9,521.1 L550.2,512.0 L551.6,505.5 L552.9,522.3 L554.2,504.8 L555.5,523.2 L556.8,505.0 L558.1,518.5 L559.4,518.0 L560.8,537.1 L562.1,508.5 L563.4,504.8 L564.7,512.3 L566.0,507.4 L567.3,512.6 L568.6,522.5 L570.0,525.8 L571.3,534.5 L572.6,510.3 L573.9,543.8 L575.2,537.0 L576.5,514.9 L577.9,493.8 L579.2,515.6 L580.5,516.9 L581.8,492.9 L583.1,516.3 L584.4,513.6 L585.7,507.8 L587.1,522.0 L588.4,525.8 L589.7,510.9 L591.0,518.1 L592.3,509.2 L593.6,507.9 L595.0,516.5 L596.3,520.9 L597.6,509.9 L598.9,493.3 L600.2,521.2 L601.5,499.3 L602.8,516.4 L604.2,532.8 L605.5,514.7 L606.8,502.8 L608.1,499.9 L609.4,526.0 L610.7,513.9 L612.0,519.2 L613.4,522.9 L614.7,512.8 L616.0,510.0 L617.3,503.3 L618.6,481.6 L619.9,496.9 L621.3,511.1 L622.6,509.7 L623.9,515.1 L625.2,509.4 L626.5,511.9 L627.8,517.8 L629.1,500.2 L630.5,505.2 L631.8,491.0 L633.1,515.9 L634.4,505.5 L635.7,509.0 L637.0,518.6 L638.3,512.9 L639.7,500.5 L641.0,507.9 L642.3,484.7 L643.6,502.3 L644.9,498.3 L646.2,479.7 L647.6,508.2 L648.9,486.7 L650.2,499.5 L651.5,487.4 L652.8,500.5 L654.1,502.6 L655.4,480.1 L656.8,472.1 L658.1,485.0 L659.4,493.8 L660.7,480.5 L662.0,477.1 L663.3,487.1 L664.6,453.6 L666.0,473.5 L667.3,465.3 L668.6,481.1 L669.9,469.8 L671.2,465.1 L672.5,471.7 L673.9,459.6 L675.2,472.9 L676.5,464.8 L677.8,466.5 L679.1,461.7 L680.4,476.6 L681.7,465.0 L683.1,470.0 L684.4,468.2 L685.7,454.0 L687.0,466.3 L688.3,462.7 L689.6,461.0 L690.9,452.4 L692.3,450.7 L693.6,461.3 L694.9,473.8 L696.2,442.1 L697.5,454.5 L698.8,444.8 L700.2,455.7 L701.5,451.4 L702.8,456.9 L704.1,417.4 L705.4,438.4 L706.7,433.6 L708.0,441.3 L709.4,434.0 L710.7,433.7 L712.0,445.6 L713.3,456.5 L714.6,407.9 L715.9,431.6 L717.3,436.3 L718.6,431.6 L719.9,426.3 L721.2,414.3 L722.5,416.4 L723.8,431.0 L725.1,432.4 L726.5,420.6 L727.8,409.2 L729.1,416.5 L730.4,411.1 L731.7,417.0 L733.0,410.9 L734.3,401.7 L735.7,408.2 L737.0,392.9 L738.3,411.5 L739.6,414.0 L740.9,389.4 L742.2,404.6 L743.6,389.7 L744.9,409.9 L746.2,408.1 L747.5,396.9 L748.8,409.6 L750.1,396.0 L751.4,395.0 L752.8,397.1 L754.1,403.0 L755.4,403.1 L756.7,410.1 L758.0,404.8 L759.3,421.3 L760.6,426.6 L762.0,414.2 L763.3,407.9 L764.6,432.6 L765.9,440.0 L767.2,430.5 L768.5,422.8 L769.9,442.0 L771.2,458.4 L772.5,428.2 L773.8,455.6 L775.1,451.6 L776.4,450.8 L777.7,470.5 L779.1,458.7 L780.4,480.7 L781.7,497.0 L783.0,491.6 L784.3,487.1 L785.6,484.0 L786.9,494.8 L788.3,495.0 L789.6,535.2 L790.9,522.3 L792.2,519.7 L793.5,521.0 L794.8,527.1 L796.2,538.2 L797.5,532.3 L798.8,565.4 L800.1,544.6 L801.4,547.6 L802.7,561.8 L804.0,576.4 L805.4,578.3 L806.7,563.1 L808.0,573.5 L809.3,575.3 L810.6,581.8 L811.9,581.7 L813.2,572.3 L814.6,571.7 L815.9,588.5 L817.2,577.3 L818.5,605.0 L819.8,594.0 L821.1,585.5 L822.5,594.7 L823.8,594.8 L825.1,600.5 L826.4,613.2 L827.7,591.2 L829.0,588.5 L830.3,612.0 L831.7,608.2 L833.0,613.0 L834.3,617.1 L835.6,612.0 L836.9,623.0 L838.2,607.3 L839.6,618.0 L840.9,610.1 L842.2,608.1 L843.5,626.6 L844.8,627.1 L846.1,602.9 L847.4,612.0 L848.8,627.0 L850.1,635.6 L851.4,619.0 L852.7,624.6 L854.0,613.1 L855.3,653.1 L856.6,633.3 L858.0,638.1 L859.3,636.2 L860.6,639.5 L861.9,636.7 L863.2,627.7 L864.5,639.0 L865.9,632.7 L867.2,645.3 L868.5,625.4 L869.8,627.7 L871.1,640.1 L872.4,646.6 L873.7,635.6 L875.1,627.4 L876.4,633.6 L877.7,630.1 L879.0,654.3 L880.3,644.6 L881.6,648.5 L882.9,639.2 L884.3,630.8 L885.6,648.4 L886.9,653.4 L888.2,642.9 L889.5,637.0 L890.8,648.3 L892.2,634.0 L893.5,645.5 L894.8,630.9 L896.1,628.4 L897.4,643.9 L898.7,641.7 L900.0,657.5 L901.4,635.7 L902.7,638.8 L904.0,627.3 L905.3,620.0 L906.6,621.0 L907.9,643.5 L909.2,627.1 L910.6,650.2 L911.9,653.2 L913.2,636.2 L914.5,655.6 L915.8,641.4 L917.1,650.4 L918.5,636.9 L919.8,648.8 L921.1,629.7 L922.4,645.4 L923.7,634.6 L925.0,637.9 L926.3,645.5 L927.7,640.9 L929.0,638.4 L930.3,646.5 L931.6,647.2 L932.9,625.3 L934.2,644.7 L935.5,645.8 L936.9,631.6 L938.2,642.9 L939.5,625.8 L940.8,653.4 L942.1,636.7 L943.4,638.5 L944.8,651.4 L946.1,638.1 L947.4,645.7 L948.7,629.4 L950.0,634.3 L951.3,626.2 L952.6,638.2 L954.0,650.7" stroke="#bdbdbd" stroke-width="1" fill="none"/><path d="M113.6,523.6 L115.3,523.6 L117.0,523.6 L118.7,523.7 L120.4,523.7 L122.1,523.7 L123.7,523.7 L125.4,523.7 L127.1,523.8 L128.8,523.8 L130.5,523.8 L132.2,523.8 L133.8,523.8 L135.5,523.9 L137.2,523.9 L138.9,523.9 L140.6,523.9 L142.3,523.9 L144.0,524.0 L145.6,524.0 L147.3,524.0 L149.0,524.0 L150.7,524.1 L152.4,524.1 L154.1,524.1 L155.7,524.1 L157.4,524.1 L159.1,524.2 L160.8,524.2 L162.5,524.2 L164.2,524.2 L165.8,524.3 L167.5,524.3 L169.2,524.3 L170.9,524.4 L172.6,524.4 L174.3,524.4 L175.9,524.4 L177.6,524.5 L179.3,524.5 L181.0,524.5 L182.7,524.6 L184.4,524.6 L186.1,524.6 L187.7,524.7 L189.4,524.7 L191.1,524.7 L192.8,524.7 L194.5,524.8 L196.2,524.8 L197.8,524.9 L199.5,524.9 L201.2,524.9 L202.9,525.0 L204.6,525.0 L206.3,525.0 L207.9,525.1 L209.6,525.1 L211.3,525.1 L213.0,525.2 L214.7,525.2 L216.4,525.3 L218.0,525.3 L219.7,525.4 L221.4,525.4 L223.1,525.4 L224.8,525.5 L226.5,525.5 L228.2,525.6 L229.8,525.6 L231.5,525.7 L233.2,525.7 L234.9,525.8 L236.6,525.8 L238.3,525.9 L239.9,525.9 L241.6,526.0 L243.3,526.1 L245.0,526.1 L246.7,526.2 L248.4,526.2 L250.0,526.3 L251.7,526.4 L253.4,526.4 L255.1,526.5 L256.8,526.6 L258.5,526.6 L260.1,526.7 L261.8,526.8 L263.5,526.9 L265.2,527.0 L266.9,527.0 L268.6,527.1 L270.3,527.2 L271.9,527.3 L273.6,527.4 L275.3,527.5 L277.0,527.6 L278.7,527.7 L280.4,527.8 L282.0,527.9 L283.7,528.0 L285.4,528.1 L287.1,528.3 L288.8,528.4 L290.5,528.5 L292.1,528.6 L293.8,528.8 L295.5,528.9 L297.2,529.1 L298.9,529.2 L300.6,529.4 L302.2,529.5 L303.9,529.7 L305.6,529.9 L307.3,530.1 L309.0,530.3 L310.7,530.5 L312.4,530.7 L314.0,530.9 L315.7,531.1 L317.4,531.3 L319.1,531.5 L320.8,531.8 L322.5,532.0 L324.1,532.3 L325.8,532.5 L327.5,532.8 L329.2,533.1 L330.9,533.4 L332.6,533.7 L334.2,534.0 L335.9,534.3 L337.6,534.6 L339.3,534.9 L341.0,535.2 L342.7,535.6 L344.3,535.9 L346.0,536.3 L347.7,536.6 L349.4,537.0 L351.1,537.3 L352.8,537.7 L354.5,538.1 L356.1,538.4 L357.8,538.8 L359.5,539.2 L361.2,539.6 L362.9,539.9 L364.6,540.3 L366.2,540.7 L367.9,541.1 L369.6,541.5 L371.3,541.9 L373.0,542.3 L374.7,542.7 L376.3,543.0 L378.0,543.4 L379.7,543.8 L381.4,544.2 L383.1,544.6 L384.8,545.0 L386.4,545.4 L388.1,545.8 L389.8,546.2 L391.5,546.6 L393.2,546.9 L394.9,547.3 L396.6,547.7 L398.2,548.1 L399.9,548.5 L401.6,548.9 L403.3,549.2 L405.0,549.6 L406.7,550.0 L408.3,550.3 L410.0,550.7 L411.7,551.1 L413.4,551.4 L415.1,551.8 L416.8,552.1 L418.4,552.4 L420.1,552.8 L421.8,553.1 L423.5,553.4 L425.2,553.7 L426.9,554.0 L428.5,554.3 L430.2,554.6 L431.9,554.8 L433.6,555.1 L435.3,555.4 L437.0,555.6 L438.7,555.9 L440.3,556.1 L442.0,556.3 L443.7,556.6 L445.4,556.8 L447.1,557.0 L448.8,557.2 L450.4,557.4 L452.1,557.6 L453.8,557.8 L455.5,558.0 L457.2,558.1 L458.9,558.3 L460.5,558.5 L462.2,558.6 L463.9,558.8 L465.6,558.9 L467.3,559.1 L469.0,559.2 L470.6,559.4 L472.3,559.5 L474.0,559.7 L475.7,559.8 L477.4,559.9 L479.1,560.1 L480.8,560.2 L482.4,560.3 L484.1,560.4 L485.8,560.5 L487.5,560.7 L489.2,560.8 L490.9,560.9 L492.5,561.0 L494.2,561.1 L495.9,561.2 L497.6,561.3 L499.3,561.4 L501.0,561.5 L502.6,561.6 L504.3,561.7 L506.0,561.8 L507.7,561.9 L509.4,562.0 L511.1,562.1 L512.7,562.2 L514.4,562.3 L516.1,562.4 L517.8,562.5 L519.5,562.6 L521.2,562.7 L522.9,562.8 L524.5,562.9 L526.2,563.0 L527.9,563.1 L529.6,563.2 L531.3,563.3 L533.0,563.4 L534.6,563.5 L536.3,563.6 L538.0,563.7 L539.7,563.8 L541.4,563.9 L543.1,564.0 L544.7,564.1 L546.4,564.2 L548.1,564.3 L549.8,564.4 L551.5,564.5 L553.2,564.6 L554.9,564.7 L556.5,564.8 L558.2,564.9 L559.9,565.0 L561.6,565.1 L563.3,565.2 L565.0,565.3 L566.6,565.5 L568.3,565.6 L570.0,565.7 L571.7,565.8 L573.4,565.9 L575.1,566.1 L576.7,566.2 L578.4,566.3 L580.1,566.5 L581.8,566.6 L583.5,566.7 L585.2,566.9 L586.8,567.0 L588.5,567.1 L590.2,567.3 L591.9,567.4 L593.6,567.6 L595.3,567.7 L597.0,567.9 L598.6,568.1 L600.3,568.2 L602.0,568.4 L603.7,568.6 L605.4,568.8 L607.1,568.9 L608.7,569.1 L610.4,569.3 L612.1,569.5 L613.8,569.7 L615.5,569.9 L617.2,570.1 L618.8,570.3 L620.5,570.5 L622.2,570.7 L623.9,571.0 L625.6,571.2 L627.3,571.4 L628.9,571.7 L630.6,571.9 L632.3,572.2 L634.0,572.4 L635.7,572.7 L637.4,573.0 L639.1,573.3 L640.7,573.5 L642.4,573.8 L644.1,574.1 L645.8,574.4 L647.5,574.7 L649.2,575.0 L650.8,575.4 L652.5,575.7 L654.2,576.0 L655.9,576.4 L657.6,576.7 L659.3,577.1 L660.9,577.4 L662.6,577.8 L664.3,578.2 L666.0,578.5 L667.7,578.9 L669.4,579.3 L671.0,579.7 L672.7,580.1 L674.4,580.5 L676.1,580.9 L677.8,581.4 L679.5,581.8 L681.2,582.2 L682.8,582.7 L684.5,583.1 L686.2,583.6 L687.9,584.0 L689.6,584.5 L691.3,585.0 L692.9,585.5 L694.6,586.0 L696.3,586.4 L698.0,587.0 L699.7,587.5 L701.4,588.0 L703.0,588.5 L704.7,589.0 L706.4,589.6 L708.1,590.2 L709.8,590.7 L711.5,591.3 L713.1,591.9 L714.8,592.5 L716.5,593.1 L718.2,593.7 L719.9,594.4 L721.6,595.0 L723.3,595.7 L724.9,596.4 L726.6,597.1 L728.3,597.8 L730.0,598.5 L731.7,599.3 L733.4,600.0 L735.0,600.8 L736.7,601.6 L738.4,602.4 L740.1,603.2 L741.8,604.0 L743.5,604.8 L745.1,605.7 L746.8,606.5 L748.5,607.3 L750.2,608.2 L751.9,609.0 L753.6,609.8 L755.2,610.7 L756.9,611.5 L758.6,612.3 L760.3,613.1 L762.0,613.9 L763.7,614.7 L765.4,615.4 L767.0,616.2 L768.7,616.9 L770.4,617.6 L772.1,618.3 L773.8,619.0 L775.5,619.6 L777.1,620.2 L778.8,620.8 L780.5,621.4 L782.2,622.0 L783.9,622.6 L785.6,623.1 L787.2,623.6 L788.9,624.1 L790.6,624.6 L792.3,625.0 L794.0,625.5 L795.7,625.9 L797.3,626.3 L799.0,626.7 L800.7,627.1 L802.4,627.5 L804.1,627.8 L805.8,628.1 L807.5,628.5 L809.1,628.8 L810.8,629.1 L812.5,629.4 L814.2,629.6 L815.9,629.9 L817.6,630.2 L819.2,630.4 L820.9,630.7 L822.6,630.9 L824.3,631.1 L826.0,631.3 L827.7,631.5 L829.3,631.7 L831.0,631.9 L832.7,632.1 L834.4,632.3 L836.1,632.4 L837.8,632.6 L839.4,632.8 L841.1,632.9 L842.8,633.1 L844.5,633.2 L846.2,633.4 L847.9,633.5 L849.6,633.6 L851.2,633.8 L852.9,633.9 L854.6,634.0 L856.3,634.1 L858.0,634.3 L859.7,634.4 L861.3,634.5 L863.0,634.6 L864.7,634.7 L866.4,634.8 L868.1,634.9 L869.8,635.0 L871.4,635.1 L873.1,635.2 L874.8,635.3 L876.5,635.4 L878.2,635.4 L879.9,635.5 L881.5,635.6 L883.2,635.7 L884.9,635.8 L886.6,635.8 L888.3,635.9 L890.0,636.0 L891.7,636.1 L893.3,636.1 L895.0,636.2 L896.7,636.3 L898.4,636.4 L900.1,636.4 L901.8,636.5 L903.4,636.6 L905.1,636.6 L906.8,636.7 L908.5,636.7 L910.2,636.8 L911.9,636.9 L913.5,636.9 L915.2,637.0 L916.9,637.0 L918.6,637.1 L920.3,637.1 L922.0,637.2 L923.6,637.2 L925.3,637.3 L927.0,637.3 L928.7,637.4 L930.4,637.4 L932.1,637.5 L933.8,637.5 L935.4,637.6 L937.1,637.6 L938.8,637.7 L940.5,637.7 L942.2,637.8 L943.9,637.8 L945.5,637.9 L947.2,637.9 L948.9,637.9 L950.6,638.0 L952.3,638.0 L954.0,638.1" stroke="#1f6fdc" stroke-width="3" fill="none"/><path d="M113.6,521.7 L115.3,521.7 L117.0,521.6 L118.7,521.6 L120.4,521.6 L122.1,521.6 L123.7,521.6 L125.4,521.6 L127.1,521.6 L128.8,521.6 L130.5,521.6 L132.2,521.5 L133.8,521.5 L135.5,521.5 L137.2,521.5 L138.9,521.5 L140.6,521.5 L142.3,521.5 L144.0,521.4 L145.6,521.4 L147.3,521.4 L149.0,521.4 L150.7,521.4 L152.4,521.3 L154.1,521.3 L155.7,521.3 L157.4,521.3 L159.1,521.3 L160.8,521.2 L162.5,521.2 L164.2,521.2 L165.8,521.2 L167.5,521.1 L169.2,521.1 L170.9,521.1 L172.6,521.0 L174.3,521.0 L175.9,521.0 L177.6,520.9 L179.3,520.9 L181.0,520.9 L182.7,520.8 L184.4,520.8 L186.1,520.7 L187.7,520.7 L189.4,520.7 L191.1,520.6 L192.8,520.6 L194.5,520.5 L196.2,520.5 L197.8,520.4 L199.5,520.3 L201.2,520.3 L202.9,520.2 L204.6,520.2 L206.3,520.1 L207.9,520.0 L209.6,519.9 L211.3,519.9 L213.0,519.8 L214.7,519.7 L216.4,519.6 L218.0,519.5 L219.7,519.4 L221.4,519.3 L223.1,519.2 L224.8,519.1 L226.5,519.0 L228.2,518.9 L229.8,518.8 L231.5,518.6 L233.2,518.5 L234.9,518.4 L236.6,518.2 L238.3,518.1 L239.9,517.9 L241.6,517.7 L243.3,517.5 L245.0,517.4 L246.7,517.2 L248.4,516.9 L250.0,516.7 L251.7,516.5 L253.4,516.2 L255.1,516.0 L256.8,515.7 L258.5,515.4 L260.1,515.1 L261.8,514.8 L263.5,514.5 L265.2,514.1 L266.9,513.8 L268.6,513.4 L270.3,513.0 L271.9,512.5 L273.6,512.1 L275.3,511.6 L277.0,511.1 L278.7,510.6 L280.4,510.0 L282.0,509.5 L283.7,508.9 L285.4,508.2 L287.1,507.6 L288.8,506.9 L290.5,506.2 L292.1,505.5 L293.8,504.7 L295.5,503.9 L297.2,503.0 L298.9,502.2 L300.6,501.3 L302.2,500.3 L303.9,499.4 L305.6,498.4 L307.3,497.3 L309.0,496.3 L310.7,495.2 L312.4,494.1 L314.0,493.0 L315.7,491.8 L317.4,490.7 L319.1,489.5 L320.8,488.4 L322.5,487.2 L324.1,486.0 L325.8,484.9 L327.5,483.8 L329.2,482.7 L330.9,481.7 L332.6,480.8 L334.2,479.9 L335.9,479.1 L337.6,478.4 L339.3,477.7 L341.0,477.3 L342.7,476.9 L344.3,476.7 L346.0,476.6 L347.7,476.6 L349.4,476.8 L351.1,477.2 L352.8,477.7 L354.5,478.3 L356.1,478.9 L357.8,479.7 L359.5,480.6 L361.2,481.6 L362.9,482.7 L364.6,483.8 L366.2,485.0 L367.9,486.3 L369.6,487.6 L371.3,489.0 L373.0,490.5 L374.7,491.9 L376.3,493.5 L378.0,495.0 L379.7,496.5 L381.4,498.1 L383.1,499.7 L384.8,501.2 L386.4,502.8 L388.1,504.4 L389.8,505.9 L391.5,507.5 L393.2,509.0 L394.9,510.5 L396.6,512.0 L398.2,513.4 L399.9,514.9 L401.6,516.3 L403.3,517.7 L405.0,519.0 L406.7,520.4 L408.3,521.7 L410.0,522.9 L411.7,524.2 L413.4,525.4 L415.1,526.5 L416.8,527.7 L418.4,528.8 L420.1,529.9 L421.8,530.9 L423.5,531.9 L425.2,532.9 L426.9,533.9 L428.5,534.8 L430.2,535.7 L431.9,536.5 L433.6,537.4 L435.3,538.2 L437.0,539.0 L438.7,539.7 L440.3,540.4 L442.0,541.1 L443.7,541.8 L445.4,542.5 L447.1,543.1 L448.8,543.7 L450.4,544.3 L452.1,544.9 L453.8,545.4 L455.5,545.9 L457.2,546.4 L458.9,546.9 L460.5,547.4 L462.2,547.9 L463.9,548.3 L465.6,548.7 L467.3,549.2 L469.0,549.6 L470.6,549.9 L472.3,550.3 L474.0,550.7 L475.7,551.0 L477.4,551.4 L479.1,551.7 L480.8,552.0 L482.4,552.3 L484.1,552.6 L485.8,552.9 L487.5,553.2 L489.2,553.5 L490.9,553.8 L492.5,554.0 L494.2,554.3 L495.9,554.5 L497.6,554.8 L499.3,555.0 L501.0,555.3 L502.6,555.5 L504.3,555.7 L506.0,555.9 L507.7,556.1 L509.4,556.3 L511.1,556.6 L512.7,556.8 L514.4,557.0 L516.1,557.2 L517.8,557.3 L519.5,557.5 L521.2,557.7 L522.9,557.9 L524.5,558.1 L526.2,558.3 L527.9,558.4 L529.6,558.6 L531.3,558.8 L533.0,559.0 L534.6,559.1 L536.3,559.3 L538.0,559.5 L539.7,559.6 L541.4,559.8 L543.1,560.0 L544.7,560.1 L546.4,560.3 L548.1,560.5 L549.8,560.6 L551.5,560.8 L553.2,561.0 L554.9,561.1 L556.5,561.3 L558.2,561.4 L559.9,561.6 L561.6,561.8 L563.3,561.9 L565.0,562.1 L566.6,562.2 L568.3,562.4 L570.0,562.6 L571.7,562.7 L573.4,562.9 L575.1,563.1 L576.7,563.2 L578.4,563.4 L580.1,563.6 L581.8,563.8 L583.5,563.9 L585.2,564.1 L586.8,564.3 L588.5,564.5 L590.2,564.6 L591.9,564.8 L593.6,565.0 L595.3,565.2 L597.0,565.4 L598.6,565.6 L600.3,565.8 L602.0,566.0 L603.7,566.2 L605.4,566.4 L607.1,566.6 L608.7,566.8 L610.4,567.0 L612.1,567.3 L613.8,567.5 L615.5,567.7 L617.2,567.9 L618.8,568.2 L620.5,568.4 L622.2,568.7 L623.9,568.9 L625.6,569.2 L627.3,569.4 L628.9,569.7 L630.6,570.0 L632.3,570.2 L634.0,570.5 L635.7,570.8 L637.4,571.1 L639.1,571.4 L640.7,571.7 L642.4,572.0 L644.1,572.3 L645.8,572.6 L647.5,573.0 L649.2,573.3 L650.8,573.6 L652.5,574.0 L654.2,574.3 L655.9,574.7 L657.6,575.1 L659.3,575.4 L660.9,575.8 L662.6,576.2 L664.3,576.6 L666.0,577.0 L667.7,577.4 L669.4,577.8 L671.0,578.2 L672.7,578.6 L674.4,579.0 L676.1,579.5 L677.8,579.9 L679.5,580.4 L681.2,580.8 L682.8,581.3 L684.5,581.7 L686.2,582.2 L687.9,582.7 L689.6,583.2 L691.3,583.6 L692.9,584.1 L694.6,584.6 L696.3,585.1 L698.0,585.7 L699.7,586.2 L701.4,586.7 L703.0,587.3 L704.7,587.8 L706.4,588.4 L708.1,588.9 L709.8,589.5 L711.5,590.1 L713.1,590.7 L714.8,591.3 L716.5,591.9 L718.2,592.6 L719.9,593.2 L721.6,593.9 L723.3,594.6 L724.9,595.3 L726.6,596.0 L728.3,596.7 L730.0,597.4 L731.7,598.2 L733.4,599.0 L735.0,599.7 L736.7,600.5 L738.4,601.3 L740.1,602.1 L741.8,603.0 L743.5,603.8 L745.1,604.6 L746.8,605.5 L748.5,606.3 L750.2,607.2 L751.9,608.0 L753.6,608.9 L755.2,609.7 L756.9,610.5 L758.6,611.3 L760.3,612.2 L762.0,612.9 L763.7,613.7 L765.4,614.5 L767.0,615.2 L768.7,616.0 L770.4,616.7 L772.1,617.4 L773.8,618.1 L775.5,618.7 L777.1,619.4 L778.8,620.0 L780.5,620.6 L782.2,621.2 L783.9,621.7 L785.6,622.3 L787.2,622.8 L788.9,623.3 L790.6,623.8 L792.3,624.2 L794.0,624.7 L795.7,625.1 L797.3,625.5 L799.0,625.9 L800.7,626.3 L802.4,626.7 L804.1,627.0 L805.8,627.4 L807.5,627.7 L809.1,628.0 L810.8,628.3 L812.5,628.6 L814.2,628.9 L815.9,629.2 L817.6,629.4 L819.2,629.7 L820.9,629.9 L822.6,630.2 L824.3,630.4 L826.0,630.6 L827.7,630.8 L829.3,631.0 L831.0,631.2 L832.7,631.4 L834.4,631.6 L836.1,631.8 L837.8,631.9 L839.4,632.1 L841.1,632.3 L842.8,632.4 L844.5,632.6 L846.2,632.7 L847.9,632.9 L849.6,633.0 L851.2,633.1 L852.9,633.3 L854.6,633.4 L856.3,633.5 L858.0,633.6 L859.7,633.8 L861.3,633.9 L863.0,634.0 L864.7,634.1 L866.4,634.2 L868.1,634.3 L869.8,634.4 L871.4,634.5 L873.1,634.6 L874.8,634.7 L876.5,634.8 L878.2,634.9 L879.9,635.0 L881.5,635.0 L883.2,635.1 L884.9,635.2 L886.6,635.3 L888.3,635.4 L890.0,635.5 L891.7,635.5 L893.3,635.6 L895.0,635.7 L896.7,635.8 L898.4,635.8 L900.1,635.9 L901.8,636.0 L903.4,636.0 L905.1,636.1 L906.8,636.2 L908.5,636.2 L910.2,636.3 L911.9,636.4 L913.5,636.4 L915.2,636.5 L916.9,636.5 L918.6,636.6 L920.3,636.6 L922.0,636.7 L923.6,636.8 L925.3,636.8 L927.0,636.9 L928.7,636.9 L930.4,637.0 L932.1,637.0 L933.8,637.1 L935.4,637.1 L937.1,637.2 L938.8,637.2 L940.5,637.3 L942.2,637.3 L943.9,637.4 L945.5,637.4 L947.2,637.4 L948.9,637.5 L950.6,637.5 L952.3,637.6 L954.0,637.6" stroke="#3cb371" stroke-width="3" fill="none"/><path d="M113.6,522.4 L115.3,522.4 L117.0,522.4 L118.7,522.4 L120.4,522.4 L122.1,522.5 L123.7,522.5 L125.4,522.5 L127.1,522.5 L128.8,522.5 L130.5,522.5 L132.2,522.5 L133.8,522.5 L135.5,522.5 L137.2,522.5 L138.9,522.5 L140.6,522.5 L142.3,522.5 L144.0,522.5 L145.6,522.5 L147.3,522.5 L149.0,522.5 L150.7,522.5 L152.4,522.5 L154.1,522.5 L155.7,522.5 L157.4,522.5 L159.1,522.5 L160.8,522.6 L162.5,522.6 L164.2,522.6 L165.8,522.6 L167.5,522.6 L169.2,522.6 L170.9,522.6 L172.6,522.6 L174.3,522.6 L175.9,522.6 L177.6,522.6 L179.3,522.6 L181.0,522.6 L182.7,522.6 L184.4,522.6 L186.1,522.6 L187.7,522.6 L189.4,522.6 L191.1,522.6 L192.8,522.6 L194.5,522.6 L196.2,522.6 L197.8,522.6 L199.5,522.6 L201.2,522.6 L202.9,522.6 L204.6,522.6 L206.3,522.6 L207.9,522.6 L209.6,522.6 L211.3,522.6 L213.0,522.6 L214.7,522.6 L216.4,522.6 L218.0,522.6 L219.7,522.6 L221.4,522.6 L223.1,522.6 L224.8,522.6 L226.5,522.6 L228.2,522.6 L229.8,522.6 L231.5,522.5 L233.2,522.5 L234.9,522.5 L236.6,522.5 L238.3,522.5 L239.9,522.5 L241.6,522.5 L243.3,522.5 L245.0,522.5 L246.7,522.5 L248.4,522.5 L250.0,522.4 L251.7,522.4 L253.4,522.4 L255.1,522.4 L256.8,522.4 L258.5,522.4 L260.1,522.3 L261.8,522.3 L263.5,522.3 L265.2,522.3 L266.9,522.3 L268.6,522.2 L270.3,522.2 L271.9,522.2 L273.6,522.1 L275.3,522.1 L277.0,522.1 L278.7,522.0 L280.4,522.0 L282.0,521.9 L283.7,521.9 L285.4,521.8 L287.1,521.8 L288.8,521.7 L290.5,521.7 L292.1,521.6 L293.8,521.5 L295.5,521.4 L297.2,521.4 L298.9,521.3 L300.6,521.2 L302.2,521.1 L303.9,521.0 L305.6,520.8 L307.3,520.7 L309.0,520.6 L310.7,520.4 L312.4,520.3 L314.0,520.1 L315.7,520.0 L317.4,519.8 L319.1,519.6 L320.8,519.4 L322.5,519.2 L324.1,518.9 L325.8,518.7 L327.5,518.4 L329.2,518.1 L330.9,517.8 L332.6,517.5 L334.2,517.2 L335.9,516.8 L337.6,516.5 L339.3,516.1 L341.0,515.7 L342.7,515.2 L344.3,514.8 L346.0,514.3 L347.7,513.8 L349.4,513.3 L351.1,512.7 L352.8,512.1 L354.5,511.5 L356.1,510.9 L357.8,510.2 L359.5,509.5 L361.2,508.8 L362.9,508.1 L364.6,507.4 L366.2,506.6 L367.9,505.8 L369.6,505.0 L371.3,504.2 L373.0,503.4 L374.7,502.6 L376.3,501.8 L378.0,501.0 L379.7,500.2 L381.4,499.4 L383.1,498.7 L384.8,498.0 L386.4,497.3 L388.1,496.7 L389.8,496.1 L391.5,495.6 L393.2,495.2 L394.9,494.9 L396.6,494.6 L398.2,494.5 L399.9,494.4 L401.6,494.5 L403.3,494.6 L405.0,494.9 L406.7,495.3 L408.3,495.8 L410.0,496.4 L411.7,497.2 L413.4,498.1 L415.1,499.1 L416.8,500.2 L418.4,501.4 L420.1,502.7 L421.8,504.0 L423.5,505.5 L425.2,506.9 L426.9,508.4 L428.5,510.0 L430.2,511.5 L431.9,513.1 L433.6,514.6 L435.3,516.2 L437.0,517.8 L438.7,519.3 L440.3,520.8 L442.0,522.3 L443.7,523.8 L445.4,525.2 L447.1,526.6 L448.8,528.0 L450.4,529.3 L452.1,530.6 L453.8,531.9 L455.5,533.1 L457.2,534.3 L458.9,535.4 L460.5,536.5 L462.2,537.6 L463.9,538.6 L465.6,539.6 L467.3,540.5 L469.0,541.4 L470.6,542.3 L472.3,543.1 L474.0,543.9 L475.7,544.7 L477.4,545.5 L479.1,546.2 L480.8,546.8 L482.4,547.5 L484.1,548.1 L485.8,548.7 L487.5,549.3 L489.2,549.8 L490.9,550.3 L492.5,550.8 L494.2,551.3 L495.9,551.8 L497.6,552.2 L499.3,552.6 L501.0,553.1 L502.6,553.4 L504.3,553.8 L506.0,554.2 L507.7,554.5 L509.4,554.9 L511.1,555.2 L512.7,555.5 L514.4,555.8 L516.1,556.1 L517.8,556.4 L519.5,556.6 L521.2,556.9 L522.9,557.1 L524.5,557.4 L526.2,557.6 L527.9,557.9 L529.6,558.1 L531.3,558.3 L533.0,558.5 L534.6,558.8 L536.3,559.0 L538.0,559.2 L539.7,559.4 L541.4,559.6 L543.1,559.8 L544.7,560.0 L546.4,560.2 L548.1,560.4 L549.8,560.5 L551.5,560.7 L553.2,560.9 L554.9,561.1 L556.5,561.3 L558.2,561.5 L559.9,561.6 L561.6,561.8 L563.3,562.0 L565.0,562.2 L566.6,562.3 L568.3,562.5 L570.0,562.7 L571.7,562.9 L573.4,563.1 L575.1,563.2 L576.7,563.4 L578.4,563.6 L580.1,563.8 L581.8,563.9 L583.5,564.1 L585.2,564.3 L586.8,564.5 L588.5,564.7 L590.2,564.9 L591.9,565.1 L593.6,565.3 L595.3,565.5 L597.0,565.6 L598.6,565.8 L600.3,566.0 L602.0,566.3 L603.7,566.5 L605.4,566.7 L607.1,566.9 L608.7,567.1 L610.4,567.3 L612.1,567.5 L613.8,567.8 L615.5,568.0 L617.2,568.2 L618.8,568.5 L620.5,568.7 L622.2,569.0 L623.9,569.2 L625.6,569.5 L627.3,569.7 L628.9,570.0 L630.6,570.3 L632.3,570.6 L634.0,570.8 L635.7,571.1 L637.4,571.4 L639.1,571.7 L640.7,572.0 L642.4,572.3 L644.1,572.6 L645.8,573.0 L647.5,573.3 L649.2,573.6 L650.8,574.0 L652.5,574.3 L654.2,574.7 L655.9,575.0 L657.6,575.4 L659.3,575.7 L660.9,576.1 L662.6,576.5 L664.3,576.9 L666.0,577.3 L667.7,577.7 L669.4,578.1 L671.0,578.5 L672.7,578.9 L674.4,579.4 L676.1,579.8 L677.8,580.2 L679.5,580.7 L681.2,581.1 L682.8,581.6 L684.5,582.0 L686.2,582.5 L687.9,583.0 L689.6,583.5 L691.3,583.9 L692.9,584.4 L694.6,584.9 L696.3,585.4 L698.0,586.0 L699.7,586.5 L701.4,587.0 L703.0,587.5 L704.7,588.1 L706.4,588.7 L708.1,589.2 L709.8,589.8 L711.5,590.4 L713.1,591.0 L714.8,591.6 L716.5,592.2 L718.2,592.9 L719.9,593.5 L721.6,594.2 L723.3,594.9 L724.9,595.5 L726.6,596.3 L728.3,597.0 L730.0,597.7 L731.7,598.5 L733.4,599.2 L735.0,600.0 L736.7,600.8 L738.4,601.6 L740.1,602.4 L741.8,603.2 L743.5,604.1 L745.1,604.9 L746.8,605.7 L748.5,606.6 L750.2,607.4 L751.9,608.3 L753.6,609.1 L755.2,610.0 L756.9,610.8 L758.6,611.6 L760.3,612.4 L762.0,613.2 L763.7,614.0 L765.4,614.8 L767.0,615.5 L768.7,616.2 L770.4,616.9 L772.1,617.6 L773.8,618.3 L775.5,619.0 L777.1,619.6 L778.8,620.2 L780.5,620.8 L782.2,621.4 L783.9,622.0 L785.6,622.5 L787.2,623.0 L788.9,623.5 L790.6,624.0 L792.3,624.5 L794.0,624.9 L795.7,625.3 L797.3,625.8 L799.0,626.2 L800.7,626.5 L802.4,626.9 L804.1,627.3 L805.8,627.6 L807.5,627.9 L809.1,628.3 L810.8,628.6 L812.5,628.8 L814.2,629.1 L815.9,629.4 L817.6,629.7 L819.2,629.9 L820.9,630.2 L822.6,630.4 L824.3,630.6 L826.0,630.8 L827.7,631.0 L829.3,631.2 L831.0,631.4 L832.7,631.6 L834.4,631.8 L836.1,632.0 L837.8,632.1 L839.4,632.3 L841.1,632.5 L842.8,632.6 L844.5,632.8 L846.2,632.9 L847.9,633.1 L849.6,633.2 L851.2,633.3 L852.9,633.5 L854.6,633.6 L856.3,633.7 L858.0,633.8 L859.7,633.9 L861.3,634.1 L863.0,634.2 L864.7,634.3 L866.4,634.4 L868.1,634.5 L869.8,634.6 L871.4,634.7 L873.1,634.8 L874.8,634.9 L876.5,635.0 L878.2,635.1 L879.9,635.1 L881.5,635.2 L883.2,635.3 L884.9,635.4 L886.6,635.5 L888.3,635.6 L890.0,635.6 L891.7,635.7 L893.3,635.8 L895.0,635.9 L896.7,635.9 L898.4,636.0 L900.1,636.1 L901.8,636.1 L903.4,636.2 L905.1,636.3 L906.8,636.3 L908.5,636.4 L910.2,636.5 L911.9,636.5 L913.5,636.6 L915.2,636.6 L916.9,636.7 L918.6,636.8 L920.3,636.8 L922.0,636.9 L923.6,636.9 L925.3,637.0 L927.0,637.0 L928.7,637.1 L930.4,637.1 L932.1,637.2 L933.8,637.2 L935.4,637.3 L937.1,637.3 L938.8,637.4 L940.5,637.4 L942.2,637.5 L943.9,637.5 L945.5,637.6 L947.2,637.6 L948.9,637.6 L950.6,637.7 L952.3,637.7 L954.0,637.8" stroke="#b07ae0" stroke-width="3" fill="none"/><path d="M113.6,523.0 L115.3,523.0 L117.0,523.0 L118.7,523.1 L120.4,523.1 L122.1,523.1 L123.7,523.1 L125.4,523.1 L127.1,523.1 L128.8,523.2 L130.5,523.2 L132.2,523.2 L133.8,523.2 L135.5,523.2 L137.2,523.2 L138.9,523.3 L140.6,523.3 L142.3,523.3 L144.0,523.3 L145.6,523.3 L147.3,523.4 L149.0,523.4 L150.7,523.4 L152.4,523.4 L154.1,523.4 L155.7,523.4 L157.4,523.5 L159.1,523.5 L160.8,523.5 L162.5,523.5 L164.2,523.6 L165.8,523.6 L167.5,523.6 L169.2,523.6 L170.9,523.6 L172.6,523.7 L174.3,523.7 L175.9,523.7 L177.6,523.7 L179.3,523.8 L181.0,523.8 L182.7,523.8 L184.4,523.8 L186.1,523.9 L187.7,523.9 L189.4,523.9 L191.1,524.0 L192.8,524.0 L194.5,524.0 L196.2,524.0 L197.8,524.1 L199.5,524.1 L201.2,524.1 L202.9,524.2 L204.6,524.2 L206.3,524.2 L207.9,524.3 L209.6,524.3 L211.3,524.3 L213.0,524.4 L214.7,524.4 L216.4,524.4 L218.0,524.5 L219.7,524.5 L221.4,524.5 L223.1,524.6 L224.8,524.6 L226.5,524.7 L228.2,524.7 L229.8,524.8 L231.5,524.8 L233.2,524.8 L234.9,524.9 L236.6,524.9 L238.3,525.0 L239.9,525.0 L241.6,525.1 L243.3,525.1 L245.0,525.2 L246.7,525.2 L248.4,525.3 L250.0,525.4 L251.7,525.4 L253.4,525.5 L255.1,525.5 L256.8,525.6 L258.5,525.7 L260.1,525.7 L261.8,525.8 L263.5,525.9 L265.2,525.9 L266.9,526.0 L268.6,526.1 L270.3,526.2 L271.9,526.3 L273.6,526.4 L275.3,526.4 L277.0,526.5 L278.7,526.6 L280.4,526.7 L282.0,526.8 L283.7,526.9 L285.4,527.0 L287.1,527.2 L288.8,527.3 L290.5,527.4 L292.1,527.5 L293.8,527.6 L295.5,527.8 L297.2,527.9 L298.9,528.1 L300.6,528.2 L302.2,528.4 L303.9,528.5 L305.6,528.7 L307.3,528.9 L309.0,529.0 L310.7,529.2 L312.4,529.4 L314.0,529.6 L315.7,529.8 L317.4,530.0 L319.1,530.3 L320.8,530.5 L322.5,530.7 L324.1,531.0 L325.8,531.2 L327.5,531.5 L329.2,531.7 L330.9,532.0 L332.6,532.3 L334.2,532.6 L335.9,532.9 L337.6,533.2 L339.3,533.5 L341.0,533.8 L342.7,534.1 L344.3,534.5 L346.0,534.8 L347.7,535.2 L349.4,535.5 L351.1,535.8 L352.8,536.2 L354.5,536.6 L356.1,536.9 L357.8,537.3 L359.5,537.6 L361.2,538.0 L362.9,538.4 L364.6,538.7 L366.2,539.1 L367.9,539.5 L369.6,539.9 L371.3,540.2 L373.0,540.6 L374.7,541.0 L376.3,541.4 L378.0,541.7 L379.7,542.1 L381.4,542.5 L383.1,542.9 L384.8,543.2 L386.4,543.6 L388.1,544.0 L389.8,544.4 L391.5,544.7 L393.2,545.1 L394.9,545.5 L396.6,545.8 L398.2,546.2 L399.9,546.6 L401.6,546.9 L403.3,547.3 L405.0,547.6 L406.7,548.0 L408.3,548.3 L410.0,548.7 L411.7,549.0 L413.4,549.3 L415.1,549.7 L416.8,550.0 L418.4,550.3 L420.1,550.6 L421.8,550.9 L423.5,551.2 L425.2,551.5 L426.9,551.7 L428.5,552.0 L430.2,552.3 L431.9,552.5 L433.6,552.8 L435.3,553.0 L437.0,553.2 L438.7,553.4 L440.3,553.7 L442.0,553.9 L443.7,554.1 L445.4,554.2 L447.1,554.4 L448.8,554.6 L450.4,554.8 L452.1,554.9 L453.8,555.1 L455.5,555.3 L457.2,555.4 L458.9,555.6 L460.5,555.7 L462.2,555.8 L463.9,555.9 L465.6,556.1 L467.3,556.2 L469.0,556.3 L470.6,556.4 L472.3,556.5 L474.0,556.6 L475.7,556.7 L477.4,556.8 L479.1,556.9 L480.8,557.0 L482.4,557.1 L484.1,557.1 L485.8,557.2 L487.5,557.3 L489.2,557.4 L490.9,557.4 L492.5,557.5 L494.2,557.6 L495.9,557.6 L497.6,557.7 L499.3,557.7 L501.0,557.8 L502.6,557.8 L504.3,557.9 L506.0,557.9 L507.7,558.0 L509.4,558.0 L511.1,558.1 L512.7,558.1 L514.4,558.2 L516.1,558.2 L517.8,558.2 L519.5,558.3 L521.2,558.3 L522.9,558.3 L524.5,558.4 L526.2,558.4 L527.9,558.4 L529.6,558.5 L531.3,558.5 L533.0,558.5 L534.6,558.5 L536.3,558.6 L538.0,558.6 L539.7,558.6 L541.4,558.6 L543.1,558.6 L544.7,558.7 L546.4,558.7 L548.1,558.7 L549.8,558.7 L551.5,558.7 L553.2,558.7 L554.9,558.7 L556.5,558.7 L558.2,558.7 L559.9,558.8 L561.6,558.8 L563.3,558.8 L565.0,558.8 L566.6,558.8 L568.3,558.8 L570.0,558.8 L571.7,558.8 L573.4,558.8 L575.1,558.7 L576.7,558.7 L578.4,558.7 L580.1,558.7 L581.8,558.7 L583.5,558.7 L585.2,558.7 L586.8,558.7 L588.5,558.6 L590.2,558.6 L591.9,558.6 L593.6,558.6 L595.3,558.5 L597.0,558.5 L598.6,558.5 L600.3,558.4 L602.0,558.4 L603.7,558.4 L605.4,558.3 L607.1,558.3 L608.7,558.2 L610.4,558.2 L612.1,558.1 L613.8,558.0 L615.5,558.0 L617.2,557.9 L618.8,557.8 L620.5,557.7 L622.2,557.7 L623.9,557.6 L625.6,557.5 L627.3,557.4 L628.9,557.2 L630.6,557.1 L632.3,557.0 L634.0,556.8 L635.7,556.7 L637.4,556.5 L639.1,556.3 L640.7,556.1 L642.4,555.9 L644.1,555.6 L645.8,555.4 L647.5,555.1 L649.2,554.8 L650.8,554.5 L652.5,554.1 L654.2,553.8 L655.9,553.4 L657.6,552.9 L659.3,552.4 L660.9,551.9 L662.6,551.4 L664.3,550.8 L666.0,550.1 L667.7,549.4 L669.4,548.6 L671.0,547.8 L672.7,546.9 L674.4,546.0 L676.1,545.0 L677.8,543.9 L679.5,542.7 L681.2,541.5 L682.8,540.1 L684.5,538.7 L686.2,537.2 L687.9,535.5 L689.6,533.8 L691.3,532.0 L692.9,530.0 L694.6,528.0 L696.3,525.8 L698.0,523.5 L699.7,521.1 L701.4,518.5 L703.0,515.8 L704.7,513.0 L706.4,510.1 L708.1,507.0 L709.8,503.8 L711.5,500.5 L713.1,497.1 L714.8,493.5 L716.5,489.9 L718.2,486.2 L719.9,482.3 L721.6,478.4 L723.3,474.5 L724.9,470.5 L726.6,466.6 L728.3,462.7 L730.0,458.8 L731.7,455.0 L733.4,451.4 L735.0,447.9 L736.7,444.7 L738.4,441.7 L740.1,439.1 L741.8,436.8 L743.5,434.9 L745.1,433.5 L746.8,432.6 L748.5,432.2 L750.2,432.3 L751.9,433.0 L753.6,434.1 L755.2,435.8 L756.9,437.8 L758.6,440.4 L760.3,443.3 L762.0,446.6 L763.7,450.3 L765.4,454.2 L767.0,458.4 L768.7,462.9 L770.4,467.5 L772.1,472.2 L773.8,477.1 L775.5,482.0 L777.1,487.0 L778.8,491.9 L780.5,496.9 L782.2,501.8 L783.9,506.7 L785.6,511.4 L787.2,516.1 L788.9,520.7 L790.6,525.2 L792.3,529.6 L794.0,533.8 L795.7,537.9 L797.3,541.9 L799.0,545.7 L800.7,549.4 L802.4,553.0 L804.1,556.4 L805.8,559.7 L807.5,562.9 L809.1,565.9 L810.8,568.8 L812.5,571.6 L814.2,574.2 L815.9,576.8 L817.6,579.2 L819.2,581.5 L820.9,583.7 L822.6,585.9 L824.3,587.9 L826.0,589.8 L827.7,591.6 L829.3,593.4 L831.0,595.0 L832.7,596.6 L834.4,598.1 L836.1,599.5 L837.8,600.9 L839.4,602.2 L841.1,603.4 L842.8,604.6 L844.5,605.7 L846.2,606.8 L847.9,607.8 L849.6,608.7 L851.2,609.7 L852.9,610.5 L854.6,611.4 L856.3,612.2 L858.0,613.0 L859.7,613.7 L861.3,614.4 L863.0,615.1 L864.7,615.7 L866.4,616.3 L868.1,616.9 L869.8,617.5 L871.4,618.1 L873.1,618.6 L874.8,619.1 L876.5,619.6 L878.2,620.1 L879.9,620.5 L881.5,621.0 L883.2,621.4 L884.9,621.8 L886.6,622.2 L888.3,622.6 L890.0,623.0 L891.7,623.3 L893.3,623.7 L895.0,624.0 L896.7,624.3 L898.4,624.7 L900.1,625.0 L901.8,625.3 L903.4,625.6 L905.1,625.9 L906.8,626.1 L908.5,626.4 L910.2,626.7 L911.9,626.9 L913.5,627.2 L915.2,627.4 L916.9,627.7 L918.6,627.9 L920.3,628.1 L922.0,628.3 L923.6,628.5 L925.3,628.8 L927.0,629.0 L928.7,629.2 L930.4,629.4 L932.1,629.5 L933.8,629.7 L935.4,629.9 L937.1,630.1 L938.8,630.3 L940.5,630.4 L942.2,630.6 L943.9,630.8 L945.5,630.9 L947.2,631.1 L948.9,631.2 L950.6,631.4 L952.3,631.5 L954.0,631.7" stroke="#d4a017" stroke-width="3" fill="none"/><path d="M113.6,522.9 L115.3,522.9 L117.0,522.9 L118.7,522.9 L120.4,522.9 L122.1,523.0 L123.7,523.0 L125.4,523.0 L127.1,523.0 L128.8,523.0 L130.5,523.0 L132.2,523.1 L133.8,523.1 L135.5,523.1 L137.2,523.1 L138.9,523.1 L140.6,523.1 L142.3,523.1 L144.0,523.2 L145.6,523.2 L147.3,523.2 L149.0,523.2 L150.7,523.2 L152.4,523.3 L154.1,523.3 L155.7,523.3 L157.4,523.3 L159.1,523.3 L160.8,523.4 L162.5,523.4 L164.2,523.4 L165.8,523.4 L167.5,523.4 L169.2,523.5 L170.9,523.5 L172.6,523.5 L174.3,523.5 L175.9,523.5 L177.6,523.6 L179.3,523.6 L181.0,523.6 L182.7,523.6 L184.4,523.7 L186.1,523.7 L187.7,523.7 L189.4,523.7 L191.1,523.8 L192.8,523.8 L194.5,523.8 L196.2,523.8 L197.8,523.9 L199.5,523.9 L201.2,523.9 L202.9,524.0 L204.6,524.0 L206.3,524.0 L207.9,524.0 L209.6,524.1 L211.3,524.1 L213.0,524.1 L214.7,524.2 L216.4,524.2 L218.0,524.2 L219.7,524.3 L221.4,524.3 L223.1,524.4 L224.8,524.4 L226.5,524.4 L228.2,524.5 L229.8,524.5 L231.5,524.6 L233.2,524.6 L234.9,524.6 L236.6,524.7 L238.3,524.7 L239.9,524.8 L241.6,524.8 L243.3,524.9 L245.0,524.9 L246.7,525.0 L248.4,525.0 L250.0,525.1 L251.7,525.1 L253.4,525.2 L255.1,525.3 L256.8,525.3 L258.5,525.4 L260.1,525.4 L261.8,525.5 L263.5,525.6 L265.2,525.6 L266.9,525.7 L268.6,525.8 L270.3,525.9 L271.9,525.9 L273.6,526.0 L275.3,526.1 L277.0,526.2 L278.7,526.3 L280.4,526.4 L282.0,526.5 L283.7,526.6 L285.4,526.7 L287.1,526.8 L288.8,526.9 L290.5,527.0 L292.1,527.1 L293.8,527.3 L295.5,527.4 L297.2,527.5 L298.9,527.7 L300.6,527.8 L302.2,528.0 L303.9,528.1 L305.6,528.3 L307.3,528.4 L309.0,528.6 L310.7,528.8 L312.4,529.0 L314.0,529.2 L315.7,529.4 L317.4,529.6 L319.1,529.8 L320.8,530.0 L322.5,530.3 L324.1,530.5 L325.8,530.7 L327.5,531.0 L329.2,531.3 L330.9,531.5 L332.6,531.8 L334.2,532.1 L335.9,532.4 L337.6,532.7 L339.3,533.0 L341.0,533.3 L342.7,533.6 L344.3,533.9 L346.0,534.2 L347.7,534.6 L349.4,534.9 L351.1,535.3 L352.8,535.6 L354.5,536.0 L356.1,536.3 L357.8,536.7 L359.5,537.0 L361.2,537.4 L362.9,537.7 L364.6,538.1 L366.2,538.4 L367.9,538.8 L369.6,539.2 L371.3,539.5 L373.0,539.9 L374.7,540.3 L376.3,540.6 L378.0,541.0 L379.7,541.4 L381.4,541.7 L383.1,542.1 L384.8,542.4 L386.4,542.8 L388.1,543.2 L389.8,543.5 L391.5,543.9 L393.2,544.3 L394.9,544.6 L396.6,545.0 L398.2,545.3 L399.9,545.7 L401.6,546.0 L403.3,546.4 L405.0,546.7 L406.7,547.0 L408.3,547.4 L410.0,547.7 L411.7,548.0 L413.4,548.3 L415.1,548.6 L416.8,548.9 L418.4,549.2 L420.1,549.5 L421.8,549.8 L423.5,550.0 L425.2,550.3 L426.9,550.6 L428.5,550.8 L430.2,551.1 L431.9,551.3 L433.6,551.5 L435.3,551.7 L437.0,551.9 L438.7,552.1 L440.3,552.3 L442.0,552.5 L443.7,552.7 L445.4,552.8 L447.1,553.0 L448.8,553.1 L450.4,553.3 L452.1,553.4 L453.8,553.5 L455.5,553.7 L457.2,553.8 L458.9,553.9 L460.5,554.0 L462.2,554.1 L463.9,554.2 L465.6,554.3 L467.3,554.4 L469.0,554.4 L470.6,554.5 L472.3,554.6 L474.0,554.6 L475.7,554.7 L477.4,554.7 L479.1,554.8 L480.8,554.8 L482.4,554.9 L484.1,554.9 L485.8,554.9 L487.5,555.0 L489.2,555.0 L490.9,555.0 L492.5,555.0 L494.2,555.0 L495.9,555.0 L497.6,555.0 L499.3,555.0 L501.0,555.0 L502.6,555.0 L504.3,555.0 L506.0,554.9 L507.7,554.9 L509.4,554.9 L511.1,554.8 L512.7,554.8 L514.4,554.8 L516.1,554.7 L517.8,554.7 L519.5,554.6 L521.2,554.5 L522.9,554.5 L524.5,554.4 L526.2,554.3 L527.9,554.2 L529.6,554.1 L531.3,554.0 L533.0,553.9 L534.6,553.8 L536.3,553.7 L538.0,553.6 L539.7,553.5 L541.4,553.3 L543.1,553.2 L544.7,553.0 L546.4,552.9 L548.1,552.7 L549.8,552.5 L551.5,552.3 L553.2,552.1 L554.9,551.9 L556.5,551.7 L558.2,551.5 L559.9,551.3 L561.6,551.0 L563.3,550.8 L565.0,550.5 L566.6,550.3 L568.3,550.0 L570.0,549.7 L571.7,549.4 L573.4,549.0 L575.1,548.7 L576.7,548.4 L578.4,548.0 L580.1,547.6 L581.8,547.2 L583.5,546.8 L585.2,546.4 L586.8,546.0 L588.5,545.6 L590.2,545.1 L591.9,544.6 L593.6,544.1 L595.3,543.6 L597.0,543.1 L598.6,542.6 L600.3,542.0 L602.0,541.5 L603.7,540.9 L605.4,540.3 L607.1,539.6 L608.7,539.0 L610.4,538.4 L612.1,537.7 L613.8,537.0 L615.5,536.3 L617.2,535.6 L618.8,534.9 L620.5,534.2 L622.2,533.4 L623.9,532.7 L625.6,531.9 L627.3,531.1 L628.9,530.4 L630.6,529.6 L632.3,528.8 L634.0,528.0 L635.7,527.2 L637.4,526.4 L639.1,525.6 L640.7,524.9 L642.4,524.1 L644.1,523.4 L645.8,522.6 L647.5,521.9 L649.2,521.2 L650.8,520.6 L652.5,520.0 L654.2,519.4 L655.9,518.9 L657.6,518.4 L659.3,518.0 L660.9,517.6 L662.6,517.3 L664.3,517.0 L666.0,516.9 L667.7,516.8 L669.4,516.7 L671.0,516.8 L672.7,516.9 L674.4,517.1 L676.1,517.4 L677.8,517.8 L679.5,518.3 L681.2,518.9 L682.8,519.5 L684.5,520.3 L686.2,521.1 L687.9,522.1 L689.6,523.1 L691.3,524.2 L692.9,525.4 L694.6,526.6 L696.3,528.0 L698.0,529.3 L699.7,530.8 L701.4,532.3 L703.0,533.8 L704.7,535.4 L706.4,537.0 L708.1,538.6 L709.8,540.3 L711.5,542.0 L713.1,543.7 L714.8,545.4 L716.5,547.2 L718.2,548.9 L719.9,550.7 L721.6,552.5 L723.3,554.3 L724.9,556.0 L726.6,557.8 L728.3,559.6 L730.0,561.4 L731.7,563.1 L733.4,564.9 L735.0,566.7 L736.7,568.4 L738.4,570.2 L740.1,571.9 L741.8,573.6 L743.5,575.3 L745.1,577.0 L746.8,578.7 L748.5,580.3 L750.2,581.9 L751.9,583.5 L753.6,585.1 L755.2,586.7 L756.9,588.2 L758.6,589.7 L760.3,591.2 L762.0,592.6 L763.7,594.0 L765.4,595.3 L767.0,596.7 L768.7,597.9 L770.4,599.2 L772.1,600.4 L773.8,601.6 L775.5,602.7 L777.1,603.8 L778.8,604.9 L780.5,605.9 L782.2,606.9 L783.9,607.9 L785.6,608.8 L787.2,609.7 L788.9,610.6 L790.6,611.4 L792.3,612.2 L794.0,613.0 L795.7,613.7 L797.3,614.5 L799.0,615.1 L800.7,615.8 L802.4,616.5 L804.1,617.1 L805.8,617.7 L807.5,618.2 L809.1,618.8 L810.8,619.3 L812.5,619.8 L814.2,620.3 L815.9,620.8 L817.6,621.3 L819.2,621.7 L820.9,622.1 L822.6,622.5 L824.3,622.9 L826.0,623.3 L827.7,623.7 L829.3,624.0 L831.0,624.4 L832.7,624.7 L834.4,625.1 L836.1,625.4 L837.8,625.7 L839.4,626.0 L841.1,626.2 L842.8,626.5 L844.5,626.8 L846.2,627.0 L847.9,627.3 L849.6,627.5 L851.2,627.8 L852.9,628.0 L854.6,628.2 L856.3,628.5 L858.0,628.7 L859.7,628.9 L861.3,629.1 L863.0,629.3 L864.7,629.5 L866.4,629.7 L868.1,629.8 L869.8,630.0 L871.4,630.2 L873.1,630.4 L874.8,630.5 L876.5,630.7 L878.2,630.9 L879.9,631.0 L881.5,631.2 L883.2,631.3 L884.9,631.5 L886.6,631.6 L888.3,631.7 L890.0,631.9 L891.7,632.0 L893.3,632.1 L895.0,632.3 L896.7,632.4 L898.4,632.5 L900.1,632.6 L901.8,632.8 L903.4,632.9 L905.1,633.0 L906.8,633.1 L908.5,633.2 L910.2,633.3 L911.9,633.4 L913.5,633.5 L915.2,633.6 L916.9,633.7 L918.6,633.8 L920.3,633.9 L922.0,634.0 L923.6,634.1 L925.3,634.2 L927.0,634.3 L928.7,634.4 L930.4,634.5 L932.1,634.6 L933.8,634.6 L935.4,634.7 L937.1,634.8 L938.8,634.9 L940.5,635.0 L942.2,635.0 L943.9,635.1 L945.5,635.2 L947.2,635.3 L948.9,635.3 L950.6,635.4 L952.3,635.5 L954.0,635.5" stroke="#1cc7c7" stroke-width="3" fill="none"/><path d="M113.6,519.2 L115.3,519.2 L117.0,519.1 L118.7,519.1 L120.4,519.1 L122.1,519.0 L123.7,519.0 L125.4,519.0 L127.1,518.9 L128.8,518.9 L130.5,518.9 L132.2,518.8 L133.8,518.8 L135.5,518.8 L137.2,518.7 L138.9,518.7 L140.6,518.6 L142.3,518.6 L144.0,518.5 L145.6,518.5 L147.3,518.5 L149.0,518.4 L150.7,518.4 L152.4,518.3 L154.1,518.3 L155.7,518.2 L157.4,518.2 L159.1,518.1 L160.8,518.1 L162.5,518.0 L164.2,517.9 L165.8,517.9 L167.5,517.8 L169.2,517.8 L170.9,517.7 L172.6,517.6 L174.3,517.6 L175.9,517.5 L177.6,517.4 L179.3,517.3 L181.0,517.3 L182.7,517.2 L184.4,517.1 L186.1,517.0 L187.7,516.9 L189.4,516.9 L191.1,516.8 L192.8,516.7 L194.5,516.6 L196.2,516.5 L197.8,516.4 L199.5,516.3 L201.2,516.2 L202.9,516.1 L204.6,516.0 L206.3,515.8 L207.9,515.7 L209.6,515.6 L211.3,515.5 L213.0,515.3 L214.7,515.2 L216.4,515.0 L218.0,514.9 L219.7,514.7 L221.4,514.6 L223.1,514.4 L224.8,514.3 L226.5,514.1 L228.2,513.9 L229.8,513.7 L231.5,513.5 L233.2,513.3 L234.9,513.1 L236.6,512.9 L238.3,512.6 L239.9,512.4 L241.6,512.1 L243.3,511.9 L245.0,511.6 L246.7,511.3 L248.4,511.0 L250.0,510.7 L251.7,510.3 L253.4,510.0 L255.1,509.6 L256.8,509.3 L258.5,508.9 L260.1,508.5 L261.8,508.0 L263.5,507.6 L265.2,507.1 L266.9,506.6 L268.6,506.1 L270.3,505.6 L271.9,505.0 L273.6,504.4 L275.3,503.8 L277.0,503.1 L278.7,502.4 L280.4,501.7 L282.0,501.0 L283.7,500.2 L285.4,499.4 L287.1,498.5 L288.8,497.7 L290.5,496.7 L292.1,495.8 L293.8,494.8 L295.5,493.7 L297.2,492.6 L298.9,491.5 L300.6,490.3 L302.2,489.1 L303.9,487.8 L305.6,486.5 L307.3,485.2 L309.0,483.8 L310.7,482.3 L312.4,480.8 L314.0,479.3 L315.7,477.8 L317.4,476.2 L319.1,474.6 L320.8,472.9 L322.5,471.3 L324.1,469.6 L325.8,468.0 L327.5,466.3 L329.2,464.6 L330.9,463.0 L332.6,461.4 L334.2,459.9 L335.9,458.4 L337.6,456.9 L339.3,455.6 L341.0,454.3 L342.7,453.2 L344.3,452.1 L346.0,451.1 L347.7,450.3 L349.4,449.6 L351.1,449.0 L352.8,448.5 L354.5,448.1 L356.1,447.7 L357.8,447.5 L359.5,447.2 L361.2,447.1 L362.9,447.0 L364.6,447.0 L366.2,447.0 L367.9,447.1 L369.6,447.2 L371.3,447.4 L373.0,447.6 L374.7,447.8 L376.3,448.1 L378.0,448.4 L379.7,448.7 L381.4,449.1 L383.1,449.5 L384.8,449.9 L386.4,450.4 L388.1,450.9 L389.8,451.4 L391.5,452.0 L393.2,452.7 L394.9,453.4 L396.6,454.2 L398.2,455.1 L399.9,456.1 L401.6,457.1 L403.3,458.2 L405.0,459.4 L406.7,460.7 L408.3,462.1 L410.0,463.6 L411.7,465.2 L413.4,466.9 L415.1,468.7 L416.8,470.5 L418.4,472.4 L420.1,474.4 L421.8,476.4 L423.5,478.5 L425.2,480.5 L426.9,482.6 L428.5,484.7 L430.2,486.8 L431.9,488.9 L433.6,491.0 L435.3,493.0 L437.0,495.0 L438.7,497.0 L440.3,498.9 L442.0,500.8 L443.7,502.7 L445.4,504.5 L447.1,506.2 L448.8,507.9 L450.4,509.5 L452.1,511.1 L453.8,512.6 L455.5,514.1 L457.2,515.5 L458.9,516.9 L460.5,518.2 L462.2,519.5 L463.9,520.7 L465.6,521.8 L467.3,522.9 L469.0,524.0 L470.6,525.0 L472.3,526.0 L474.0,526.9 L475.7,527.8 L477.4,528.6 L479.1,529.4 L480.8,530.1 L482.4,530.8 L484.1,531.5 L485.8,532.2 L487.5,532.8 L489.2,533.3 L490.9,533.9 L492.5,534.4 L494.2,534.9 L495.9,535.3 L497.6,535.8 L499.3,536.2 L501.0,536.5 L502.6,536.9 L504.3,537.2 L506.0,537.5 L507.7,537.8 L509.4,538.0 L511.1,538.3 L512.7,538.5 L514.4,538.7 L516.1,538.9 L517.8,539.1 L519.5,539.2 L521.2,539.3 L522.9,539.5 L524.5,539.6 L526.2,539.6 L527.9,539.7 L529.6,539.8 L531.3,539.8 L533.0,539.8 L534.6,539.8 L536.3,539.8 L538.0,539.8 L539.7,539.8 L541.4,539.7 L543.1,539.7 L544.7,539.6 L546.4,539.5 L548.1,539.4 L549.8,539.3 L551.5,539.1 L553.2,539.0 L554.9,538.8 L556.5,538.6 L558.2,538.4 L559.9,538.2 L561.6,538.0 L563.3,537.8 L565.0,537.5 L566.6,537.2 L568.3,536.9 L570.0,536.6 L571.7,536.3 L573.4,535.9 L575.1,535.6 L576.7,535.2 L578.4,534.8 L580.1,534.3 L581.8,533.9 L583.5,533.4 L585.2,532.9 L586.8,532.4 L588.5,531.9 L590.2,531.4 L591.9,530.8 L593.6,530.2 L595.3,529.6 L597.0,528.9 L598.6,528.3 L600.3,527.6 L602.0,526.9 L603.7,526.2 L605.4,525.4 L607.1,524.6 L608.7,523.8 L610.4,523.0 L612.1,522.1 L613.8,521.2 L615.5,520.3 L617.2,519.4 L618.8,518.5 L620.5,517.5 L622.2,516.5 L623.9,515.4 L625.6,514.4 L627.3,513.3 L628.9,512.2 L630.6,511.1 L632.3,510.0 L634.0,508.8 L635.7,507.7 L637.4,506.5 L639.1,505.3 L640.7,504.1 L642.4,502.8 L644.1,501.6 L645.8,500.4 L647.5,499.1 L649.2,497.9 L650.8,496.6 L652.5,495.4 L654.2,494.1 L655.9,492.9 L657.6,491.6 L659.3,490.4 L660.9,489.2 L662.6,488.0 L664.3,486.8 L666.0,485.6 L667.7,484.5 L669.4,483.3 L671.0,482.2 L672.7,481.1 L674.4,479.9 L676.1,478.8 L677.8,477.7 L679.5,476.6 L681.2,475.5 L682.8,474.5 L684.5,473.4 L686.2,472.3 L687.9,471.1 L689.6,470.0 L691.3,468.8 L692.9,467.6 L694.6,466.3 L696.3,465.0 L698.0,463.6 L699.7,462.1 L701.4,460.5 L703.0,458.9 L704.7,457.1 L706.4,455.3 L708.1,453.3 L709.8,451.3 L711.5,449.1 L713.1,446.8 L714.8,444.4 L716.5,441.9 L718.2,439.3 L719.9,436.6 L721.6,433.9 L723.3,431.1 L724.9,428.2 L726.6,425.4 L728.3,422.5 L730.0,419.7 L731.7,417.0 L733.4,414.4 L735.0,411.9 L736.7,409.7 L738.4,407.7 L740.1,406.0 L741.8,404.6 L743.5,403.7 L745.1,403.1 L746.8,403.0 L748.5,403.4 L750.2,404.4 L751.9,405.8 L753.6,407.7 L755.2,410.1 L756.9,412.9 L758.6,416.1 L760.3,419.7 L762.0,423.7 L763.7,428.0 L765.4,432.6 L767.0,437.4 L768.7,442.4 L770.4,447.5 L772.1,452.8 L773.8,458.2 L775.5,463.6 L777.1,469.1 L778.8,474.5 L780.5,479.9 L782.2,485.3 L783.9,490.5 L785.6,495.7 L787.2,500.8 L788.9,505.8 L790.6,510.6 L792.3,515.3 L794.0,519.9 L795.7,524.4 L797.3,528.6 L799.0,532.8 L800.7,536.8 L802.4,540.6 L804.1,544.3 L805.8,547.9 L807.5,551.3 L809.1,554.6 L810.8,557.8 L812.5,560.8 L814.2,563.7 L815.9,566.4 L817.6,569.1 L819.2,571.6 L820.9,574.0 L822.6,576.3 L824.3,578.5 L826.0,580.6 L827.7,582.6 L829.3,584.5 L831.0,586.3 L832.7,588.1 L834.4,589.7 L836.1,591.3 L837.8,592.8 L839.4,594.2 L841.1,595.6 L842.8,596.9 L844.5,598.2 L846.2,599.3 L847.9,600.5 L849.6,601.6 L851.2,602.6 L852.9,603.6 L854.6,604.6 L856.3,605.5 L858.0,606.3 L859.7,607.2 L861.3,608.0 L863.0,608.8 L864.7,609.5 L866.4,610.2 L868.1,610.9 L869.8,611.6 L871.4,612.2 L873.1,612.8 L874.8,613.4 L876.5,614.0 L878.2,614.5 L879.9,615.1 L881.5,615.6 L883.2,616.1 L884.9,616.6 L886.6,617.0 L888.3,617.5 L890.0,617.9 L891.7,618.4 L893.3,618.8 L895.0,619.2 L896.7,619.6 L898.4,619.9 L900.1,620.3 L901.8,620.7 L903.4,621.0 L905.1,621.4 L906.8,621.7 L908.5,622.0 L910.2,622.3 L911.9,622.7 L913.5,623.0 L915.2,623.2 L916.9,623.5 L918.6,623.8 L920.3,624.1 L922.0,624.4 L923.6,624.6 L925.3,624.9 L927.0,625.1 L928.7,625.4 L930.4,625.6 L932.1,625.8 L933.8,626.1 L935.4,626.3 L937.1,626.5 L938.8,626.7 L940.5,626.9 L942.2,627.1 L943.9,627.3 L945.5,627.5 L947.2,627.7 L948.9,627.9 L950.6,628.1 L952.3,628.3 L954.0,628.4" stroke="#ee3e3e" stroke-width="3" fill="none"/><path d="M112.2,1086.0 L115.7,1085.7 L119.3,1085.7 L122.8,1085.5 L126.4,1085.5 L129.9,1085.5 L133.5,1085.9 L137.0,1085.8 L140.6,1085.7 L144.1,1085.7 L147.7,1085.8 L151.2,1085.8 L154.8,1085.8 L158.3,1085.7 L161.9,1085.9 L165.4,1086.0 L169.0,1085.9 L172.5,1086.0 L176.1,1086.2 L179.6,1086.1 L183.2,1086.0 L186.7,1086.2 L190.3,1086.3 L193.8,1086.2 L197.3,1086.3 L200.9,1086.2 L204.4,1085.9 L208.0,1085.8 L211.5,1085.7 L215.1,1085.6 L218.6,1085.6 L222.2,1085.6 L225.7,1085.7 L229.3,1085.7 L232.8,1085.8 L236.4,1086.0 L239.9,1085.8 L243.5,1085.9 L247.0,1085.9 L250.6,1085.7 L254.1,1085.5 L257.7,1085.6 L261.2,1085.6 L264.8,1085.5 L268.3,1085.6 L271.9,1085.7 L275.4,1085.4 L279.0,1085.1 L282.5,1085.3 L286.0,1085.3 L289.6,1085.4 L293.1,1085.7 L296.7,1085.8 L300.2,1085.7 L303.8,1085.7 L307.3,1085.4 L310.9,1085.2 L314.4,1085.1 L318.0,1084.8 L321.5,1084.7 L325.1,1084.6 L328.6,1084.5 L332.2,1084.6 L335.7,1084.6 L339.3,1084.2 L342.8,1084.4 L346.4,1084.2 L349.9,1083.7 L353.5,1083.8 L357.0,1083.8 L360.6,1083.5 L364.1,1083.6 L367.6,1083.7 L371.2,1083.6 L374.7,1083.5 L378.3,1083.2 L381.8,1082.9 L385.4,1082.4 L388.9,1082.2 L392.5,1081.8 L396.0,1081.8 L399.6,1082.0 L403.1,1081.9 L406.7,1081.6 L410.2,1081.6 L413.8,1081.4 L417.3,1080.9 L420.9,1080.9 L424.4,1080.7 L428.0,1080.5 L431.5,1080.4 L435.1,1080.2 L438.6,1080.0 L442.2,1079.9 L445.7,1079.8 L449.2,1079.3 L452.8,1079.2 L456.3,1078.8 L459.9,1078.5 L463.4,1077.9 L467.0,1077.4 L470.5,1076.8 L474.1,1076.4 L477.6,1075.8 L481.2,1075.4 L484.7,1075.5 L488.3,1075.6 L491.8,1075.3 L495.4,1075.2 L498.9,1074.7 L502.5,1073.9 L506.0,1073.4 L509.6,1073.0 L513.1,1072.5 L516.7,1072.5 L520.2,1072.3 L523.8,1071.9 L527.3,1071.5 L530.8,1070.8 L534.4,1070.3 L537.9,1069.8 L541.5,1069.4 L545.0,1068.7 L548.6,1068.3 L552.1,1067.7 L555.7,1067.0 L559.2,1066.3 L562.8,1065.7 L566.3,1064.9 L569.9,1064.1 L573.4,1063.3 L577.0,1062.0 L580.5,1060.9 L584.1,1060.1 L587.6,1058.9 L591.2,1057.6 L594.7,1056.6 L598.3,1055.3 L601.8,1053.6 L605.4,1052.1 L608.9,1050.6 L612.5,1048.9 L616.0,1046.8 L619.5,1044.8 L623.1,1042.6 L626.6,1040.2 L630.2,1037.5 L633.7,1034.9 L637.3,1032.0 L640.8,1028.6 L644.4,1025.0 L647.9,1021.1 L651.5,1016.7 L655.0,1012.0 L658.6,1007.1 L662.1,1001.9 L665.7,996.2 L669.2,990.4 L672.8,984.1 L676.3,977.5 L679.9,970.9 L683.4,964.1 L687.0,957.3 L690.5,950.4 L694.1,943.5 L697.6,936.7 L701.1,929.7 L704.7,922.5 L708.2,915.3 L711.8,908.6 L715.3,902.1 L718.9,896.2 L722.4,890.8 L726.0,886.3 L729.5,882.0 L733.1,878.5 L736.6,875.3 L740.2,873.0 L743.7,871.0 L747.3,870.2 L750.8,870.8 L754.4,872.8 L757.9,875.8 L761.5,880.0 L765.0,884.9 L768.6,891.3 L772.1,898.9 L775.7,907.0 L779.2,915.9 L782.7,925.3 L786.3,934.5 L789.8,943.5 L793.4,953.1 L796.9,962.3 L800.5,971.0 L804.0,979.7 L807.6,987.8 L811.1,995.2 L814.7,1002.9 L818.2,1010.7 L821.8,1017.5 L825.3,1024.1 L828.9,1030.3 L832.4,1035.7 L836.0,1040.8 L839.5,1045.8 L843.1,1050.4 L846.6,1054.5 L850.2,1058.7 L853.7,1062.8 L857.3,1066.7 L860.8,1070.2 L864.3,1073.2 L867.9,1074.9 L871.4,1076.3 L875.0,1077.6 L878.5,1079.0 L882.1,1080.2 L885.6,1081.4 L889.2,1082.3 L892.7,1083.3 L896.3,1084.7 L899.8,1086.2 L903.4,1087.6 L906.9,1088.7 L910.5,1090.0 L914.0,1091.1 L917.6,1091.4 L921.1,1091.6 L924.7,1092.0 L928.2,1092.3 L931.8,1092.5 L935.3,1092.6 L938.9,1092.6 L942.4,1092.8 L946.0,1092.8 L949.5,1092.9 L953.0,1093.1 L956.6,1093.4 L960.1,1093.7 L963.7,1093.9 L967.2,1093.9 L970.8,1094.0 L974.3,1093.9 L977.9,1093.8 L981.4,1093.9 L985.0,1093.9 L988.5,1094.2 L992.1,1094.4 L995.6,1094.5 L999.2,1094.5 L1002.7,1094.8 L1006.3,1095.1 L1009.8,1095.0 L1013.4,1095.1 L1016.9,1095.1 L1020.5,1094.9 L1024.0,1094.9 L1027.6,1095.0 L1031.1,1095.1" stroke="#c2c2c2" stroke-width="1.6" fill="none"/><path d="M112.2,1087.5 L114.0,1087.5 L115.9,1087.5 L117.7,1087.5 L119.6,1087.5 L121.4,1087.5 L123.2,1087.5 L125.1,1087.5 L126.9,1087.5 L128.8,1087.5 L130.6,1087.5 L132.5,1087.5 L134.3,1087.5 L136.1,1087.5 L138.0,1087.5 L139.8,1087.5 L141.7,1087.5 L143.5,1087.5 L145.3,1087.5 L147.2,1087.5 L149.0,1087.5 L150.9,1087.5 L152.7,1087.5 L154.6,1087.5 L156.4,1087.5 L158.2,1087.5 L160.1,1087.5 L161.9,1087.5 L163.8,1087.5 L165.6,1087.5 L167.4,1087.5 L169.3,1087.5 L171.1,1087.5 L173.0,1087.5 L174.8,1087.5 L176.7,1087.5 L178.5,1087.5 L180.3,1087.5 L182.2,1087.5 L184.0,1087.5 L185.9,1087.5 L187.7,1087.5 L189.5,1087.5 L191.4,1087.5 L193.2,1087.5 L195.1,1087.5 L196.9,1087.5 L198.7,1087.5 L200.6,1087.5 L202.4,1087.5 L204.3,1087.5 L206.1,1087.5 L208.0,1087.5 L209.8,1087.5 L211.6,1087.5 L213.5,1087.5 L215.3,1087.5 L217.2,1087.5 L219.0,1087.5 L220.8,1087.5 L222.7,1087.5 L224.5,1087.5 L226.4,1087.5 L228.2,1087.5 L230.1,1087.6 L231.9,1087.6 L233.7,1087.6 L235.6,1087.6 L237.4,1087.6 L239.3,1087.6 L241.1,1087.6 L242.9,1087.6 L244.8,1087.6 L246.6,1087.6 L248.5,1087.6 L250.3,1087.6 L252.2,1087.6 L254.0,1087.6 L255.8,1087.6 L257.7,1087.6 L259.5,1087.6 L261.4,1087.6 L263.2,1087.6 L265.0,1087.6 L266.9,1087.6 L268.7,1087.6 L270.6,1087.6 L272.4,1087.6 L274.3,1087.6 L276.1,1087.6 L277.9,1087.6 L279.8,1087.6 L281.6,1087.6 L283.5,1087.6 L285.3,1087.6 L287.1,1087.6 L289.0,1087.6 L290.8,1087.6 L292.7,1087.6 L294.5,1087.6 L296.3,1087.6 L298.2,1087.6 L300.0,1087.6 L301.9,1087.6 L303.7,1087.6 L305.6,1087.6 L307.4,1087.6 L309.2,1087.6 L311.1,1087.6 L312.9,1087.6 L314.8,1087.6 L316.6,1087.6 L318.4,1087.6 L320.3,1087.6 L322.1,1087.6 L324.0,1087.6 L325.8,1087.6 L327.7,1087.6 L329.5,1087.6 L331.3,1087.6 L333.2,1087.6 L335.0,1087.6 L336.9,1087.6 L338.7,1087.6 L340.5,1087.6 L342.4,1087.6 L344.2,1087.6 L346.1,1087.6 L347.9,1087.6 L349.8,1087.6 L351.6,1087.7 L353.4,1087.7 L355.3,1087.7 L357.1,1087.7 L359.0,1087.7 L360.8,1087.7 L362.6,1087.7 L364.5,1087.7 L366.3,1087.7 L368.2,1087.7 L370.0,1087.7 L371.8,1087.7 L373.7,1087.7 L375.5,1087.7 L377.4,1087.7 L379.2,1087.7 L381.1,1087.7 L382.9,1087.7 L384.7,1087.7 L386.6,1087.7 L388.4,1087.7 L390.3,1087.7 L392.1,1087.7 L393.9,1087.7 L395.8,1087.7 L397.6,1087.7 L399.5,1087.7 L401.3,1087.7 L403.2,1087.7 L405.0,1087.7 L406.8,1087.7 L408.7,1087.7 L410.5,1087.7 L412.4,1087.7 L414.2,1087.7 L416.0,1087.7 L417.9,1087.7 L419.7,1087.7 L421.6,1087.7 L423.4,1087.7 L425.3,1087.8 L427.1,1087.8 L428.9,1087.8 L430.8,1087.8 L432.6,1087.8 L434.5,1087.8 L436.3,1087.8 L438.1,1087.8 L440.0,1087.8 L441.8,1087.8 L443.7,1087.8 L445.5,1087.8 L447.3,1087.8 L449.2,1087.8 L451.0,1087.8 L452.9,1087.8 L454.7,1087.8 L456.6,1087.8 L458.4,1087.8 L460.2,1087.8 L462.1,1087.8 L463.9,1087.8 L465.8,1087.8 L467.6,1087.8 L469.4,1087.8 L471.3,1087.8 L473.1,1087.8 L475.0,1087.8 L476.8,1087.9 L478.7,1087.9 L480.5,1087.9 L482.3,1087.9 L484.2,1087.9 L486.0,1087.9 L487.9,1087.9 L489.7,1087.9 L491.5,1087.9 L493.4,1087.9 L495.2,1087.9 L497.1,1087.9 L498.9,1087.9 L500.8,1087.9 L502.6,1087.9 L504.4,1087.9 L506.3,1087.9 L508.1,1087.9 L510.0,1087.9 L511.8,1087.9 L513.6,1088.0 L515.5,1088.0 L517.3,1088.0 L519.2,1088.0 L521.0,1088.0 L522.9,1088.0 L524.7,1088.0 L526.5,1088.0 L528.4,1088.0 L530.2,1088.0 L532.1,1088.0 L533.9,1088.0 L535.7,1088.0 L537.6,1088.0 L539.4,1088.0 L541.3,1088.1 L543.1,1088.1 L544.9,1088.1 L546.8,1088.1 L548.6,1088.1 L550.5,1088.1 L552.3,1088.1 L554.2,1088.1 L556.0,1088.1 L557.8,1088.1 L559.7,1088.1 L561.5,1088.1 L563.4,1088.2 L565.2,1088.2 L567.0,1088.2 L568.9,1088.2 L570.7,1088.2 L572.6,1088.2 L574.4,1088.2 L576.3,1088.2 L578.1,1088.2 L579.9,1088.3 L581.8,1088.3 L583.6,1088.3 L585.5,1088.3 L587.3,1088.3 L589.1,1088.3 L591.0,1088.3 L592.8,1088.3 L594.7,1088.4 L596.5,1088.4 L598.4,1088.4 L600.2,1088.4 L602.0,1088.4 L603.9,1088.4 L605.7,1088.5 L607.6,1088.5 L609.4,1088.5 L611.2,1088.5 L613.1,1088.5 L614.9,1088.5 L616.8,1088.6 L618.6,1088.6 L620.4,1088.6 L622.3,1088.6 L624.1,1088.7 L626.0,1088.7 L627.8,1088.7 L629.7,1088.7 L631.5,1088.8 L633.3,1088.8 L635.2,1088.8 L637.0,1088.8 L638.9,1088.9 L640.7,1088.9 L642.5,1088.9 L644.4,1089.0 L646.2,1089.0 L648.1,1089.0 L649.9,1089.1 L651.8,1089.1 L653.6,1089.1 L655.4,1089.2 L657.3,1089.2 L659.1,1089.3 L661.0,1089.3 L662.8,1089.3 L664.6,1089.4 L666.5,1089.4 L668.3,1089.5 L670.2,1089.5 L672.0,1089.6 L673.9,1089.6 L675.7,1089.7 L677.5,1089.7 L679.4,1089.8 L681.2,1089.9 L683.1,1089.9 L684.9,1090.0 L686.7,1090.0 L688.6,1090.1 L690.4,1090.2 L692.3,1090.3 L694.1,1090.3 L696.0,1090.4 L697.8,1090.5 L699.6,1090.6 L701.5,1090.6 L703.3,1090.7 L705.2,1090.8 L707.0,1090.9 L708.8,1091.0 L710.7,1091.1 L712.5,1091.1 L714.4,1091.2 L716.2,1091.3 L718.0,1091.4 L719.9,1091.5 L721.7,1091.6 L723.6,1091.7 L725.4,1091.8 L727.3,1091.9 L729.1,1092.0 L730.9,1092.1 L732.8,1092.2 L734.6,1092.3 L736.5,1092.4 L738.3,1092.5 L740.1,1092.6 L742.0,1092.7 L743.8,1092.9 L745.7,1093.0 L747.5,1093.1 L749.4,1093.2 L751.2,1093.3 L753.0,1093.4 L754.9,1093.5 L756.7,1093.6 L758.6,1093.7 L760.4,1093.8 L762.2,1093.9 L764.1,1094.0 L765.9,1094.1 L767.8,1094.2 L769.6,1094.3 L771.5,1094.4 L773.3,1094.5 L775.1,1094.6 L777.0,1094.7 L778.8,1094.8 L780.7,1094.8 L782.5,1094.9 L784.3,1095.0 L786.2,1095.1 L788.0,1095.2 L789.9,1095.2 L791.7,1095.3 L793.5,1095.4 L795.4,1095.4 L797.2,1095.5 L799.1,1095.5 L800.9,1095.6 L802.8,1095.7 L804.6,1095.7 L806.4,1095.8 L808.3,1095.8 L810.1,1095.9 L812.0,1095.9 L813.8,1096.0 L815.6,1096.0 L817.5,1096.0 L819.3,1096.1 L821.2,1096.1 L823.0,1096.2 L824.9,1096.2 L826.7,1096.2 L828.5,1096.3 L830.4,1096.3 L832.2,1096.3 L834.1,1096.3 L835.9,1096.4 L837.7,1096.4 L839.6,1096.4 L841.4,1096.4 L843.3,1096.5 L845.1,1096.5 L847.0,1096.5 L848.8,1096.5 L850.6,1096.6 L852.5,1096.6 L854.3,1096.6 L856.2,1096.6 L858.0,1096.6 L859.8,1096.6 L861.7,1096.7 L863.5,1096.7 L865.4,1096.7 L867.2,1096.7 L869.0,1096.7 L870.9,1096.7 L872.7,1096.8 L874.6,1096.8 L876.4,1096.8 L878.3,1096.8 L880.1,1096.8 L881.9,1096.8 L883.8,1096.8 L885.6,1096.8 L887.5,1096.9 L889.3,1096.9 L891.1,1096.9 L893.0,1096.9 L894.8,1096.9 L896.7,1096.9 L898.5,1096.9 L900.4,1096.9 L902.2,1096.9 L904.0,1096.9 L905.9,1097.0 L907.7,1097.0 L909.6,1097.0 L911.4,1097.0 L913.2,1097.0 L915.1,1097.0 L916.9,1097.0 L918.8,1097.0 L920.6,1097.0 L922.5,1097.0 L924.3,1097.0 L926.1,1097.0 L928.0,1097.1 L929.8,1097.1 L931.7,1097.1 L933.5,1097.1 L935.3,1097.1 L937.2,1097.1 L939.0,1097.1 L940.9,1097.1 L942.7,1097.1 L944.6,1097.1 L946.4,1097.1 L948.2,1097.1 L950.1,1097.1 L951.9,1097.1 L953.8,1097.1 L955.6,1097.1 L957.4,1097.2 L959.3,1097.2 L961.1,1097.2 L963.0,1097.2 L964.8,1097.2 L966.6,1097.2 L968.5,1097.2 L970.3,1097.2 L972.2,1097.2 L974.0,1097.2 L975.9,1097.2 L977.7,1097.2 L979.5,1097.2 L981.4,1097.2 L983.2,1097.2 L985.1,1097.2 L986.9,1097.2 L988.7,1097.2 L990.6,1097.2 L992.4,1097.2 L994.3,1097.2 L996.1,1097.3 L998.0,1097.3 L999.8,1097.3 L1001.6,1097.3 L1003.5,1097.3 L1005.3,1097.3 L1007.2,1097.3 L1009.0,1097.3 L1010.8,1097.3 L1012.7,1097.3 L1014.5,1097.3 L1016.4,1097.3 L1018.2,1097.3 L1020.1,1097.3 L1021.9,1097.3 L1023.7,1097.3 L1025.6,1097.3 L1027.4,1097.3 L1029.3,1097.3 L1031.1,1097.3" stroke="#1f6fdc" stroke-width="3" fill="none"/><path d="M112.2,1086.5 L114.0,1086.4 L115.9,1086.4 L117.7,1086.4 L119.6,1086.4 L121.4,1086.4 L123.2,1086.4 L125.1,1086.4 L126.9,1086.4 L128.8,1086.4 L130.6,1086.4 L132.5,1086.4 L134.3,1086.4 L136.1,1086.4 L138.0,1086.4 L139.8,1086.4 L141.7,1086.4 L143.5,1086.4 L145.3,1086.3 L147.2,1086.3 L149.0,1086.3 L150.9,1086.3 L152.7,1086.3 L154.6,1086.3 L156.4,1086.3 L158.2,1086.3 L160.1,1086.3 L161.9,1086.3 L163.8,1086.3 L165.6,1086.3 L167.4,1086.3 L169.3,1086.3 L171.1,1086.2 L173.0,1086.2 L174.8,1086.2 L176.7,1086.2 L178.5,1086.2 L180.3,1086.2 L182.2,1086.2 L184.0,1086.2 L185.9,1086.2 L187.7,1086.2 L189.5,1086.2 L191.4,1086.2 L193.2,1086.2 L195.1,1086.1 L196.9,1086.1 L198.7,1086.1 L200.6,1086.1 L202.4,1086.1 L204.3,1086.1 L206.1,1086.1 L208.0,1086.1 L209.8,1086.1 L211.6,1086.1 L213.5,1086.1 L215.3,1086.0 L217.2,1086.0 L219.0,1086.0 L220.8,1086.0 L222.7,1086.0 L224.5,1086.0 L226.4,1086.0 L228.2,1086.0 L230.1,1086.0 L231.9,1085.9 L233.7,1085.9 L235.6,1085.9 L237.4,1085.9 L239.3,1085.9 L241.1,1085.9 L242.9,1085.9 L244.8,1085.9 L246.6,1085.9 L248.5,1085.8 L250.3,1085.8 L252.2,1085.8 L254.0,1085.8 L255.8,1085.8 L257.7,1085.8 L259.5,1085.8 L261.4,1085.8 L263.2,1085.7 L265.0,1085.7 L266.9,1085.7 L268.7,1085.7 L270.6,1085.7 L272.4,1085.7 L274.3,1085.7 L276.1,1085.6 L277.9,1085.6 L279.8,1085.6 L281.6,1085.6 L283.5,1085.6 L285.3,1085.6 L287.1,1085.6 L289.0,1085.5 L290.8,1085.5 L292.7,1085.5 L294.5,1085.5 L296.3,1085.5 L298.2,1085.5 L300.0,1085.4 L301.9,1085.4 L303.7,1085.4 L305.6,1085.4 L307.4,1085.4 L309.2,1085.4 L311.1,1085.3 L312.9,1085.3 L314.8,1085.3 L316.6,1085.3 L318.4,1085.3 L320.3,1085.2 L322.1,1085.2 L324.0,1085.2 L325.8,1085.2 L327.7,1085.2 L329.5,1085.1 L331.3,1085.1 L333.2,1085.1 L335.0,1085.1 L336.9,1085.0 L338.7,1085.0 L340.5,1085.0 L342.4,1085.0 L344.2,1085.0 L346.1,1084.9 L347.9,1084.9 L349.8,1084.9 L351.6,1084.9 L353.4,1084.8 L355.3,1084.8 L357.1,1084.8 L359.0,1084.7 L360.8,1084.7 L362.6,1084.7 L364.5,1084.7 L366.3,1084.6 L368.2,1084.6 L370.0,1084.6 L371.8,1084.5 L373.7,1084.5 L375.5,1084.5 L377.4,1084.5 L379.2,1084.4 L381.1,1084.4 L382.9,1084.4 L384.7,1084.3 L386.6,1084.3 L388.4,1084.3 L390.3,1084.2 L392.1,1084.2 L393.9,1084.1 L395.8,1084.1 L397.6,1084.1 L399.5,1084.0 L401.3,1084.0 L403.2,1084.0 L405.0,1083.9 L406.8,1083.9 L408.7,1083.8 L410.5,1083.8 L412.4,1083.7 L414.2,1083.7 L416.0,1083.7 L417.9,1083.6 L419.7,1083.6 L421.6,1083.5 L423.4,1083.5 L425.3,1083.4 L427.1,1083.4 L428.9,1083.3 L430.8,1083.3 L432.6,1083.2 L434.5,1083.2 L436.3,1083.1 L438.1,1083.0 L440.0,1083.0 L441.8,1082.9 L443.7,1082.9 L445.5,1082.8 L447.3,1082.7 L449.2,1082.7 L451.0,1082.6 L452.9,1082.6 L454.7,1082.5 L456.6,1082.4 L458.4,1082.4 L460.2,1082.3 L462.1,1082.2 L463.9,1082.1 L465.8,1082.1 L467.6,1082.0 L469.4,1081.9 L471.3,1081.8 L473.1,1081.7 L475.0,1081.7 L476.8,1081.6 L478.7,1081.5 L480.5,1081.4 L482.3,1081.3 L484.2,1081.2 L486.0,1081.1 L487.9,1081.0 L489.7,1080.9 L491.5,1080.8 L493.4,1080.7 L495.2,1080.6 L497.1,1080.5 L498.9,1080.4 L500.8,1080.3 L502.6,1080.1 L504.4,1080.0 L506.3,1079.9 L508.1,1079.8 L510.0,1079.6 L511.8,1079.5 L513.6,1079.4 L515.5,1079.2 L517.3,1079.1 L519.2,1078.9 L521.0,1078.8 L522.9,1078.6 L524.7,1078.5 L526.5,1078.3 L528.4,1078.1 L530.2,1077.9 L532.1,1077.8 L533.9,1077.6 L535.7,1077.4 L537.6,1077.2 L539.4,1077.0 L541.3,1076.8 L543.1,1076.6 L544.9,1076.3 L546.8,1076.1 L548.6,1075.9 L550.5,1075.6 L552.3,1075.4 L554.2,1075.1 L556.0,1074.8 L557.8,1074.5 L559.7,1074.3 L561.5,1074.0 L563.4,1073.6 L565.2,1073.3 L567.0,1073.0 L568.9,1072.6 L570.7,1072.3 L572.6,1071.9 L574.4,1071.5 L576.3,1071.1 L578.1,1070.7 L579.9,1070.2 L581.8,1069.8 L583.6,1069.3 L585.5,1068.8 L587.3,1068.3 L589.1,1067.8 L591.0,1067.2 L592.8,1066.6 L594.7,1066.0 L596.5,1065.4 L598.4,1064.8 L600.2,1064.1 L602.0,1063.4 L603.9,1062.7 L605.7,1061.9 L607.6,1061.1 L609.4,1060.3 L611.2,1059.4 L613.1,1058.6 L614.9,1057.6 L616.8,1056.7 L618.6,1055.7 L620.4,1054.6 L622.3,1053.6 L624.1,1052.4 L626.0,1051.3 L627.8,1050.1 L629.7,1048.9 L631.5,1047.6 L633.3,1046.2 L635.2,1044.9 L637.0,1043.4 L638.9,1042.0 L640.7,1040.4 L642.5,1038.9 L644.4,1037.2 L646.2,1035.6 L648.1,1033.8 L649.9,1032.1 L651.8,1030.3 L653.6,1028.4 L655.4,1026.5 L657.3,1024.5 L659.1,1022.5 L661.0,1020.5 L662.8,1018.4 L664.6,1016.2 L666.5,1014.1 L668.3,1011.9 L670.2,1009.7 L672.0,1007.4 L673.9,1005.1 L675.7,1002.9 L677.5,1000.6 L679.4,998.3 L681.2,996.1 L683.1,993.8 L684.9,991.6 L686.7,989.5 L688.6,987.4 L690.4,985.4 L692.3,983.4 L694.1,981.6 L696.0,979.8 L697.8,978.2 L699.6,976.7 L701.5,975.3 L703.3,974.2 L705.2,973.1 L707.0,972.3 L708.8,971.6 L710.7,971.2 L712.5,970.9 L714.4,970.9 L716.2,971.0 L718.0,971.4 L719.9,972.0 L721.7,972.9 L723.6,974.0 L725.4,975.2 L727.3,976.7 L729.1,978.4 L730.9,980.2 L732.8,982.1 L734.6,984.3 L736.5,986.5 L738.3,988.8 L740.1,991.2 L742.0,993.7 L743.8,996.2 L745.7,998.8 L747.5,1001.4 L749.4,1004.0 L751.2,1006.6 L753.0,1009.2 L754.9,1011.8 L756.7,1014.4 L758.6,1017.0 L760.4,1019.5 L762.2,1021.9 L764.1,1024.3 L765.9,1026.7 L767.8,1029.0 L769.6,1031.3 L771.5,1033.5 L773.3,1035.7 L775.1,1037.7 L777.0,1039.8 L778.8,1041.7 L780.7,1043.6 L782.5,1045.5 L784.3,1047.3 L786.2,1049.0 L788.0,1050.7 L789.9,1052.3 L791.7,1053.8 L793.5,1055.3 L795.4,1056.7 L797.2,1058.1 L799.1,1059.4 L800.9,1060.7 L802.8,1061.9 L804.6,1063.1 L806.4,1064.3 L808.3,1065.3 L810.1,1066.4 L812.0,1067.4 L813.8,1068.4 L815.6,1069.3 L817.5,1070.2 L819.3,1071.0 L821.2,1071.8 L823.0,1072.6 L824.9,1073.3 L826.7,1074.1 L828.5,1074.7 L830.4,1075.4 L832.2,1076.0 L834.1,1076.6 L835.9,1077.2 L837.7,1077.8 L839.6,1078.3 L841.4,1078.8 L843.3,1079.3 L845.1,1079.8 L847.0,1080.2 L848.8,1080.7 L850.6,1081.1 L852.5,1081.5 L854.3,1081.9 L856.2,1082.3 L858.0,1082.6 L859.8,1083.0 L861.7,1083.3 L863.5,1083.6 L865.4,1083.9 L867.2,1084.2 L869.0,1084.5 L870.9,1084.8 L872.7,1085.1 L874.6,1085.3 L876.4,1085.6 L878.3,1085.8 L880.1,1086.1 L881.9,1086.3 L883.8,1086.5 L885.6,1086.7 L887.5,1086.9 L889.3,1087.1 L891.1,1087.3 L893.0,1087.5 L894.8,1087.7 L896.7,1087.9 L898.5,1088.1 L900.4,1088.2 L902.2,1088.4 L904.0,1088.6 L905.9,1088.7 L907.7,1088.9 L909.6,1089.0 L911.4,1089.2 L913.2,1089.3 L915.1,1089.5 L916.9,1089.6 L918.8,1089.7 L920.6,1089.9 L922.5,1090.0 L924.3,1090.1 L926.1,1090.2 L928.0,1090.3 L929.8,1090.5 L931.7,1090.6 L933.5,1090.7 L935.3,1090.8 L937.2,1090.9 L939.0,1091.0 L940.9,1091.1 L942.7,1091.2 L944.6,1091.3 L946.4,1091.4 L948.2,1091.5 L950.1,1091.6 L951.9,1091.6 L953.8,1091.7 L955.6,1091.8 L957.4,1091.9 L959.3,1092.0 L961.1,1092.1 L963.0,1092.1 L964.8,1092.2 L966.6,1092.3 L968.5,1092.3 L970.3,1092.4 L972.2,1092.5 L974.0,1092.6 L975.9,1092.6 L977.7,1092.7 L979.5,1092.8 L981.4,1092.8 L983.2,1092.9 L985.1,1092.9 L986.9,1093.0 L988.7,1093.1 L990.6,1093.1 L992.4,1093.2 L994.3,1093.2 L996.1,1093.3 L998.0,1093.3 L999.8,1093.4 L1001.6,1093.4 L1003.5,1093.5 L1005.3,1093.5 L1007.2,1093.6 L1009.0,1093.6 L1010.8,1093.7 L1012.7,1093.7 L1014.5,1093.8 L1016.4,1093.8 L1018.2,1093.9 L1020.1,1093.9 L1021.9,1094.0 L1023.7,1094.0 L1025.6,1094.0 L1027.4,1094.1 L1029.3,1094.1 L1031.1,1094.2" stroke="#3cb371" stroke-width="3" fill="none"/><path d="M112.2,1087.0 L114.0,1087.0 L115.9,1087.0 L117.7,1087.0 L119.6,1087.0 L121.4,1086.9 L123.2,1086.9 L125.1,1086.9 L126.9,1086.9 L128.8,1086.9 L130.6,1086.9 L132.5,1086.9 L134.3,1086.9 L136.1,1086.9 L138.0,1086.9 L139.8,1086.9 L141.7,1086.9 L143.5,1086.9 L145.3,1086.9 L147.2,1086.9 L149.0,1086.9 L150.9,1086.9 L152.7,1086.9 L154.6,1086.9 L156.4,1086.9 L158.2,1086.9 L160.1,1086.9 L161.9,1086.9 L163.8,1086.9 L165.6,1086.9 L167.4,1086.9 L169.3,1086.9 L171.1,1086.9 L173.0,1086.9 L174.8,1086.9 L176.7,1086.9 L178.5,1086.9 L180.3,1086.9 L182.2,1086.9 L184.0,1086.9 L185.9,1086.9 L187.7,1086.8 L189.5,1086.8 L191.4,1086.8 L193.2,1086.8 L195.1,1086.8 L196.9,1086.8 L198.7,1086.8 L200.6,1086.8 L202.4,1086.8 L204.3,1086.8 L206.1,1086.8 L208.0,1086.8 L209.8,1086.8 L211.6,1086.8 L213.5,1086.8 L215.3,1086.8 L217.2,1086.8 L219.0,1086.8 L220.8,1086.8 L222.7,1086.8 L224.5,1086.8 L226.4,1086.8 L228.2,1086.8 L230.1,1086.8 L231.9,1086.8 L233.7,1086.8 L235.6,1086.7 L237.4,1086.7 L239.3,1086.7 L241.1,1086.7 L242.9,1086.7 L244.8,1086.7 L246.6,1086.7 L248.5,1086.7 L250.3,1086.7 L252.2,1086.7 L254.0,1086.7 L255.8,1086.7 L257.7,1086.7 L259.5,1086.7 L261.4,1086.7 L263.2,1086.7 L265.0,1086.7 L266.9,1086.7 L268.7,1086.7 L270.6,1086.7 L272.4,1086.6 L274.3,1086.6 L276.1,1086.6 L277.9,1086.6 L279.8,1086.6 L281.6,1086.6 L283.5,1086.6 L285.3,1086.6 L287.1,1086.6 L289.0,1086.6 L290.8,1086.6 L292.7,1086.6 L294.5,1086.6 L296.3,1086.6 L298.2,1086.6 L300.0,1086.6 L301.9,1086.5 L303.7,1086.5 L305.6,1086.5 L307.4,1086.5 L309.2,1086.5 L311.1,1086.5 L312.9,1086.5 L314.8,1086.5 L316.6,1086.5 L318.4,1086.5 L320.3,1086.5 L322.1,1086.5 L324.0,1086.5 L325.8,1086.5 L327.7,1086.4 L329.5,1086.4 L331.3,1086.4 L333.2,1086.4 L335.0,1086.4 L336.9,1086.4 L338.7,1086.4 L340.5,1086.4 L342.4,1086.4 L344.2,1086.4 L346.1,1086.4 L347.9,1086.3 L349.8,1086.3 L351.6,1086.3 L353.4,1086.3 L355.3,1086.3 L357.1,1086.3 L359.0,1086.3 L360.8,1086.3 L362.6,1086.3 L364.5,1086.3 L366.3,1086.2 L368.2,1086.2 L370.0,1086.2 L371.8,1086.2 L373.7,1086.2 L375.5,1086.2 L377.4,1086.2 L379.2,1086.2 L381.1,1086.2 L382.9,1086.1 L384.7,1086.1 L386.6,1086.1 L388.4,1086.1 L390.3,1086.1 L392.1,1086.1 L393.9,1086.1 L395.8,1086.0 L397.6,1086.0 L399.5,1086.0 L401.3,1086.0 L403.2,1086.0 L405.0,1086.0 L406.8,1086.0 L408.7,1085.9 L410.5,1085.9 L412.4,1085.9 L414.2,1085.9 L416.0,1085.9 L417.9,1085.9 L419.7,1085.8 L421.6,1085.8 L423.4,1085.8 L425.3,1085.8 L427.1,1085.8 L428.9,1085.8 L430.8,1085.7 L432.6,1085.7 L434.5,1085.7 L436.3,1085.7 L438.1,1085.7 L440.0,1085.6 L441.8,1085.6 L443.7,1085.6 L445.5,1085.6 L447.3,1085.6 L449.2,1085.5 L451.0,1085.5 L452.9,1085.5 L454.7,1085.5 L456.6,1085.4 L458.4,1085.4 L460.2,1085.4 L462.1,1085.4 L463.9,1085.3 L465.8,1085.3 L467.6,1085.3 L469.4,1085.3 L471.3,1085.2 L473.1,1085.2 L475.0,1085.2 L476.8,1085.1 L478.7,1085.1 L480.5,1085.1 L482.3,1085.1 L484.2,1085.0 L486.0,1085.0 L487.9,1085.0 L489.7,1084.9 L491.5,1084.9 L493.4,1084.8 L495.2,1084.8 L497.1,1084.8 L498.9,1084.7 L500.8,1084.7 L502.6,1084.7 L504.4,1084.6 L506.3,1084.6 L508.1,1084.5 L510.0,1084.5 L511.8,1084.5 L513.6,1084.4 L515.5,1084.4 L517.3,1084.3 L519.2,1084.3 L521.0,1084.2 L522.9,1084.2 L524.7,1084.1 L526.5,1084.1 L528.4,1084.0 L530.2,1084.0 L532.1,1083.9 L533.9,1083.8 L535.7,1083.8 L537.6,1083.7 L539.4,1083.7 L541.3,1083.6 L543.1,1083.5 L544.9,1083.5 L546.8,1083.4 L548.6,1083.3 L550.5,1083.3 L552.3,1083.2 L554.2,1083.1 L556.0,1083.0 L557.8,1083.0 L559.7,1082.9 L561.5,1082.8 L563.4,1082.7 L565.2,1082.6 L567.0,1082.5 L568.9,1082.4 L570.7,1082.3 L572.6,1082.2 L574.4,1082.1 L576.3,1082.0 L578.1,1081.9 L579.9,1081.8 L581.8,1081.7 L583.6,1081.6 L585.5,1081.5 L587.3,1081.3 L589.1,1081.2 L591.0,1081.1 L592.8,1081.0 L594.7,1080.8 L596.5,1080.7 L598.4,1080.5 L600.2,1080.4 L602.0,1080.2 L603.9,1080.1 L605.7,1079.9 L607.6,1079.7 L609.4,1079.5 L611.2,1079.3 L613.1,1079.1 L614.9,1078.9 L616.8,1078.7 L618.6,1078.5 L620.4,1078.3 L622.3,1078.1 L624.1,1077.8 L626.0,1077.6 L627.8,1077.3 L629.7,1077.0 L631.5,1076.7 L633.3,1076.4 L635.2,1076.1 L637.0,1075.8 L638.9,1075.4 L640.7,1075.1 L642.5,1074.7 L644.4,1074.3 L646.2,1073.9 L648.1,1073.4 L649.9,1072.9 L651.8,1072.5 L653.6,1071.9 L655.4,1071.4 L657.3,1070.8 L659.1,1070.2 L661.0,1069.5 L662.8,1068.9 L664.6,1068.1 L666.5,1067.4 L668.3,1066.5 L670.2,1065.7 L672.0,1064.8 L673.9,1063.8 L675.7,1062.8 L677.5,1061.7 L679.4,1060.6 L681.2,1059.4 L683.1,1058.1 L684.9,1056.7 L686.7,1055.3 L688.6,1053.8 L690.4,1052.2 L692.3,1050.5 L694.1,1048.8 L696.0,1046.9 L697.8,1045.0 L699.6,1043.0 L701.5,1040.9 L703.3,1038.6 L705.2,1036.3 L707.0,1033.9 L708.8,1031.3 L710.7,1028.7 L712.5,1026.0 L714.4,1023.1 L716.2,1020.2 L718.0,1017.2 L719.9,1014.1 L721.7,1010.9 L723.6,1007.6 L725.4,1004.3 L727.3,1000.9 L729.1,997.4 L730.9,994.0 L732.8,990.5 L734.6,987.0 L736.5,983.6 L738.3,980.3 L740.1,977.0 L742.0,973.8 L743.8,970.8 L745.7,968.0 L747.5,965.4 L749.4,963.1 L751.2,961.0 L753.0,959.3 L754.9,957.9 L756.7,956.9 L758.6,956.3 L760.4,956.1 L762.2,956.3 L764.1,956.8 L765.9,957.7 L767.8,959.0 L769.6,960.7 L771.5,962.6 L773.3,964.9 L775.1,967.4 L777.0,970.1 L778.8,973.0 L780.7,976.1 L782.5,979.4 L784.3,982.7 L786.2,986.2 L788.0,989.7 L789.9,993.2 L791.7,996.7 L793.5,1000.2 L795.4,1003.7 L797.2,1007.2 L799.1,1010.6 L800.9,1013.9 L802.8,1017.2 L804.6,1020.4 L806.4,1023.5 L808.3,1026.5 L810.1,1029.4 L812.0,1032.2 L813.8,1035.0 L815.6,1037.6 L817.5,1040.1 L819.3,1042.6 L821.2,1044.9 L823.0,1047.1 L824.9,1049.3 L826.7,1051.3 L828.5,1053.3 L830.4,1055.1 L832.2,1056.9 L834.1,1058.6 L835.9,1060.2 L837.7,1061.8 L839.6,1063.2 L841.4,1064.6 L843.3,1065.9 L845.1,1067.2 L847.0,1068.4 L848.8,1069.5 L850.6,1070.6 L852.5,1071.6 L854.3,1072.6 L856.2,1073.5 L858.0,1074.3 L859.8,1075.1 L861.7,1075.9 L863.5,1076.7 L865.4,1077.4 L867.2,1078.0 L869.0,1078.7 L870.9,1079.3 L872.7,1079.8 L874.6,1080.4 L876.4,1080.9 L878.3,1081.4 L880.1,1081.8 L881.9,1082.3 L883.8,1082.7 L885.6,1083.1 L887.5,1083.5 L889.3,1083.9 L891.1,1084.2 L893.0,1084.6 L894.8,1084.9 L896.7,1085.2 L898.5,1085.5 L900.4,1085.8 L902.2,1086.1 L904.0,1086.4 L905.9,1086.6 L907.7,1086.9 L909.6,1087.1 L911.4,1087.3 L913.2,1087.6 L915.1,1087.8 L916.9,1088.0 L918.8,1088.2 L920.6,1088.4 L922.5,1088.6 L924.3,1088.8 L926.1,1088.9 L928.0,1089.1 L929.8,1089.3 L931.7,1089.4 L933.5,1089.6 L935.3,1089.7 L937.2,1089.9 L939.0,1090.0 L940.9,1090.2 L942.7,1090.3 L944.6,1090.5 L946.4,1090.6 L948.2,1090.7 L950.1,1090.8 L951.9,1091.0 L953.8,1091.1 L955.6,1091.2 L957.4,1091.3 L959.3,1091.4 L961.1,1091.5 L963.0,1091.6 L964.8,1091.7 L966.6,1091.8 L968.5,1091.9 L970.3,1092.0 L972.2,1092.1 L974.0,1092.2 L975.9,1092.3 L977.7,1092.3 L979.5,1092.4 L981.4,1092.5 L983.2,1092.6 L985.1,1092.7 L986.9,1092.7 L988.7,1092.8 L990.6,1092.9 L992.4,1093.0 L994.3,1093.0 L996.1,1093.1 L998.0,1093.2 L999.8,1093.2 L1001.6,1093.3 L1003.5,1093.3 L1005.3,1093.4 L1007.2,1093.5 L1009.0,1093.5 L1010.8,1093.6 L1012.7,1093.6 L1014.5,1093.7 L1016.4,1093.7 L1018.2,1093.8 L1020.1,1093.8 L1021.9,1093.9 L1023.7,1093.9 L1025.6,1094.0 L1027.4,1094.0 L1029.3,1094.1 L1031.1,1094.1" stroke="#b07ae0" stroke-width="3" fill="none"/><path d="M112.2,1085.9 L114.0,1085.9 L115.9,1085.9 L117.7,1085.9 L119.6,1085.9 L121.4,1085.9 L123.2,1085.9 L125.1,1085.9 L126.9,1085.9 L128.8,1085.8 L130.6,1085.8 L132.5,1085.8 L134.3,1085.8 L136.1,1085.8 L138.0,1085.8 L139.8,1085.8 L141.7,1085.8 L143.5,1085.8 L145.3,1085.8 L147.2,1085.7 L149.0,1085.7 L150.9,1085.7 L152.7,1085.7 L154.6,1085.7 L156.4,1085.7 L158.2,1085.7 L160.1,1085.7 L161.9,1085.7 L163.8,1085.7 L165.6,1085.6 L167.4,1085.6 L169.3,1085.6 L171.1,1085.6 L173.0,1085.6 L174.8,1085.6 L176.7,1085.6 L178.5,1085.6 L180.3,1085.5 L182.2,1085.5 L184.0,1085.5 L185.9,1085.5 L187.7,1085.5 L189.5,1085.5 L191.4,1085.5 L193.2,1085.5 L195.1,1085.4 L196.9,1085.4 L198.7,1085.4 L200.6,1085.4 L202.4,1085.4 L204.3,1085.4 L206.1,1085.4 L208.0,1085.4 L209.8,1085.3 L211.6,1085.3 L213.5,1085.3 L215.3,1085.3 L217.2,1085.3 L219.0,1085.3 L220.8,1085.2 L222.7,1085.2 L224.5,1085.2 L226.4,1085.2 L228.2,1085.2 L230.1,1085.2 L231.9,1085.2 L233.7,1085.1 L235.6,1085.1 L237.4,1085.1 L239.3,1085.1 L241.1,1085.1 L242.9,1085.1 L244.8,1085.0 L246.6,1085.0 L248.5,1085.0 L250.3,1085.0 L252.2,1085.0 L254.0,1084.9 L255.8,1084.9 L257.7,1084.9 L259.5,1084.9 L261.4,1084.9 L263.2,1084.8 L265.0,1084.8 L266.9,1084.8 L268.7,1084.8 L270.6,1084.8 L272.4,1084.7 L274.3,1084.7 L276.1,1084.7 L277.9,1084.7 L279.8,1084.7 L281.6,1084.6 L283.5,1084.6 L285.3,1084.6 L287.1,1084.6 L289.0,1084.5 L290.8,1084.5 L292.7,1084.5 L294.5,1084.5 L296.3,1084.4 L298.2,1084.4 L300.0,1084.4 L301.9,1084.4 L303.7,1084.3 L305.6,1084.3 L307.4,1084.3 L309.2,1084.3 L311.1,1084.2 L312.9,1084.2 L314.8,1084.2 L316.6,1084.2 L318.4,1084.1 L320.3,1084.1 L322.1,1084.1 L324.0,1084.0 L325.8,1084.0 L327.7,1084.0 L329.5,1083.9 L331.3,1083.9 L333.2,1083.9 L335.0,1083.8 L336.9,1083.8 L338.7,1083.8 L340.5,1083.7 L342.4,1083.7 L344.2,1083.7 L346.1,1083.6 L347.9,1083.6 L349.8,1083.6 L351.6,1083.5 L353.4,1083.5 L355.3,1083.5 L357.1,1083.4 L359.0,1083.4 L360.8,1083.3 L362.6,1083.3 L364.5,1083.3 L366.3,1083.2 L368.2,1083.2 L370.0,1083.1 L371.8,1083.1 L373.7,1083.0 L375.5,1083.0 L377.4,1082.9 L379.2,1082.9 L381.1,1082.9 L382.9,1082.8 L384.7,1082.8 L386.6,1082.7 L388.4,1082.7 L390.3,1082.6 L392.1,1082.6 L393.9,1082.5 L395.8,1082.5 L397.6,1082.4 L399.5,1082.3 L401.3,1082.3 L403.2,1082.2 L405.0,1082.2 L406.8,1082.1 L408.7,1082.1 L410.5,1082.0 L412.4,1081.9 L414.2,1081.9 L416.0,1081.8 L417.9,1081.7 L419.7,1081.7 L421.6,1081.6 L423.4,1081.5 L425.3,1081.5 L427.1,1081.4 L428.9,1081.3 L430.8,1081.2 L432.6,1081.2 L434.5,1081.1 L436.3,1081.0 L438.1,1080.9 L440.0,1080.9 L441.8,1080.8 L443.7,1080.7 L445.5,1080.6 L447.3,1080.5 L449.2,1080.4 L451.0,1080.3 L452.9,1080.2 L454.7,1080.1 L456.6,1080.1 L458.4,1080.0 L460.2,1079.9 L462.1,1079.8 L463.9,1079.6 L465.8,1079.5 L467.6,1079.4 L469.4,1079.3 L471.3,1079.2 L473.1,1079.1 L475.0,1079.0 L476.8,1078.9 L478.7,1078.7 L480.5,1078.6 L482.3,1078.5 L484.2,1078.4 L486.0,1078.2 L487.9,1078.1 L489.7,1077.9 L491.5,1077.8 L493.4,1077.7 L495.2,1077.5 L497.1,1077.4 L498.9,1077.2 L500.8,1077.0 L502.6,1076.9 L504.4,1076.7 L506.3,1076.5 L508.1,1076.4 L510.0,1076.2 L511.8,1076.0 L513.6,1075.8 L515.5,1075.6 L517.3,1075.4 L519.2,1075.2 L521.0,1075.0 L522.9,1074.8 L524.7,1074.6 L526.5,1074.4 L528.4,1074.1 L530.2,1073.9 L532.1,1073.6 L533.9,1073.4 L535.7,1073.1 L537.6,1072.9 L539.4,1072.6 L541.3,1072.3 L543.1,1072.0 L544.9,1071.7 L546.8,1071.4 L548.6,1071.1 L550.5,1070.8 L552.3,1070.4 L554.2,1070.1 L556.0,1069.7 L557.8,1069.4 L559.7,1069.0 L561.5,1068.6 L563.4,1068.2 L565.2,1067.8 L567.0,1067.3 L568.9,1066.9 L570.7,1066.4 L572.6,1065.9 L574.4,1065.4 L576.3,1064.9 L578.1,1064.4 L579.9,1063.8 L581.8,1063.2 L583.6,1062.6 L585.5,1062.0 L587.3,1061.3 L589.1,1060.7 L591.0,1060.0 L592.8,1059.3 L594.7,1058.5 L596.5,1057.7 L598.4,1056.9 L600.2,1056.1 L602.0,1055.2 L603.9,1054.3 L605.7,1053.3 L607.6,1052.3 L609.4,1051.3 L611.2,1050.3 L613.1,1049.2 L614.9,1048.0 L616.8,1046.8 L618.6,1045.6 L620.4,1044.3 L622.3,1043.0 L624.1,1041.6 L626.0,1040.2 L627.8,1038.7 L629.7,1037.1 L631.5,1035.5 L633.3,1033.9 L635.2,1032.2 L637.0,1030.4 L638.9,1028.5 L640.7,1026.6 L642.5,1024.6 L644.4,1022.6 L646.2,1020.4 L648.1,1018.2 L649.9,1016.0 L651.8,1013.6 L653.6,1011.2 L655.4,1008.7 L657.3,1006.1 L659.1,1003.4 L661.0,1000.7 L662.8,997.9 L664.6,995.0 L666.5,992.0 L668.3,988.9 L670.2,985.8 L672.0,982.6 L673.9,979.3 L675.7,976.0 L677.5,972.6 L679.4,969.1 L681.2,965.6 L683.1,962.0 L684.9,958.4 L686.7,954.7 L688.6,951.1 L690.4,947.4 L692.3,943.7 L694.1,940.0 L696.0,936.4 L697.8,932.7 L699.6,929.1 L701.5,925.6 L703.3,922.1 L705.2,918.6 L707.0,915.3 L708.8,912.0 L710.7,908.8 L712.5,905.7 L714.4,902.8 L716.2,899.9 L718.0,897.2 L719.9,894.6 L721.7,892.1 L723.6,889.8 L725.4,887.7 L727.3,885.7 L729.1,883.8 L730.9,882.0 L732.8,880.4 L734.6,879.0 L736.5,877.7 L738.3,876.5 L740.1,875.6 L742.0,874.8 L743.8,874.2 L745.7,873.8 L747.5,873.7 L749.4,873.9 L751.2,874.4 L753.0,875.2 L754.9,876.3 L756.7,877.7 L758.6,879.5 L760.4,881.7 L762.2,884.3 L764.1,887.2 L765.9,890.4 L767.8,893.9 L769.6,897.7 L771.5,901.7 L773.3,906.0 L775.1,910.5 L777.0,915.2 L778.8,920.0 L780.7,924.9 L782.5,930.0 L784.3,935.0 L786.2,940.1 L788.0,945.2 L789.9,950.2 L791.7,955.2 L793.5,960.2 L795.4,965.0 L797.2,969.8 L799.1,974.5 L800.9,979.0 L802.8,983.5 L804.6,987.8 L806.4,992.0 L808.3,996.0 L810.1,999.9 L812.0,1003.7 L813.8,1007.4 L815.6,1010.9 L817.5,1014.2 L819.3,1017.5 L821.2,1020.6 L823.0,1023.6 L824.9,1026.4 L826.7,1029.1 L828.5,1031.8 L830.4,1034.3 L832.2,1036.6 L834.1,1038.9 L835.9,1041.1 L837.7,1043.1 L839.6,1045.1 L841.4,1047.0 L843.3,1048.8 L845.1,1050.5 L847.0,1052.1 L848.8,1053.6 L850.6,1055.1 L852.5,1056.5 L854.3,1057.8 L856.2,1059.1 L858.0,1060.3 L859.8,1061.5 L861.7,1062.6 L863.5,1063.6 L865.4,1064.6 L867.2,1065.5 L869.0,1066.4 L870.9,1067.3 L872.7,1068.1 L874.6,1068.9 L876.4,1069.7 L878.3,1070.4 L880.1,1071.1 L881.9,1071.8 L883.8,1072.4 L885.6,1073.0 L887.5,1073.6 L889.3,1074.2 L891.1,1074.7 L893.0,1075.2 L894.8,1075.7 L896.7,1076.2 L898.5,1076.7 L900.4,1077.1 L902.2,1077.6 L904.0,1078.0 L905.9,1078.4 L907.7,1078.8 L909.6,1079.2 L911.4,1079.5 L913.2,1079.9 L915.1,1080.2 L916.9,1080.6 L918.8,1080.9 L920.6,1081.2 L922.5,1081.5 L924.3,1081.8 L926.1,1082.1 L928.0,1082.4 L929.8,1082.7 L931.7,1082.9 L933.5,1083.2 L935.3,1083.4 L937.2,1083.7 L939.0,1083.9 L940.9,1084.2 L942.7,1084.4 L944.6,1084.6 L946.4,1084.8 L948.2,1085.0 L950.1,1085.3 L951.9,1085.5 L953.8,1085.7 L955.6,1085.8 L957.4,1086.0 L959.3,1086.2 L961.1,1086.4 L963.0,1086.6 L964.8,1086.7 L966.6,1086.9 L968.5,1087.1 L970.3,1087.2 L972.2,1087.4 L974.0,1087.5 L975.9,1087.7 L977.7,1087.8 L979.5,1088.0 L981.4,1088.1 L983.2,1088.2 L985.1,1088.4 L986.9,1088.5 L988.7,1088.6 L990.6,1088.8 L992.4,1088.9 L994.3,1089.0 L996.1,1089.1 L998.0,1089.2 L999.8,1089.3 L1001.6,1089.5 L1003.5,1089.6 L1005.3,1089.7 L1007.2,1089.8 L1009.0,1089.9 L1010.8,1090.0 L1012.7,1090.1 L1014.5,1090.2 L1016.4,1090.3 L1018.2,1090.4 L1020.1,1090.5 L1021.9,1090.5 L1023.7,1090.6 L1025.6,1090.7 L1027.4,1090.8 L1029.3,1090.9 L1031.1,1091.0" stroke="#ee3e3e" stroke-width="3" fill="none"/><path d="M112.2,1443.9 L115.7,1443.8 L119.3,1443.8 L122.8,1443.9 L126.4,1443.8 L129.9,1443.8 L133.5,1443.8 L137.0,1443.3 L140.6,1443.0 L144.1,1442.6 L147.7,1442.4 L151.2,1442.0 L154.8,1442.1 L158.3,1442.1 L161.9,1442.1 L165.4,1442.1 L169.0,1442.0 L172.5,1441.7 L176.1,1441.4 L179.6,1441.3 L183.2,1441.0 L186.7,1440.6 L190.3,1440.4 L193.8,1440.3 L197.3,1439.8 L200.9,1439.4 L204.4,1439.5 L208.0,1439.1 L211.5,1438.9 L215.1,1439.1 L218.6,1438.8 L222.2,1438.3 L225.7,1438.3 L229.3,1438.0 L232.8,1437.6 L236.4,1437.2 L239.9,1436.9 L243.5,1436.6 L247.0,1436.2 L250.6,1435.9 L254.1,1435.8 L257.7,1435.5 L261.2,1435.2 L264.8,1434.7 L268.3,1433.8 L271.9,1433.2 L275.4,1432.6 L279.0,1431.9 L282.5,1431.3 L286.0,1430.7 L289.6,1429.9 L293.1,1429.2 L296.7,1428.5 L300.2,1427.9 L303.8,1427.2 L307.3,1426.5 L310.9,1425.8 L314.4,1424.7 L318.0,1423.5 L321.5,1422.5 L325.1,1421.3 L328.6,1420.2 L332.2,1419.3 L335.7,1418.6 L339.3,1417.6 L342.8,1416.8 L346.4,1415.9 L349.9,1414.9 L353.5,1413.5 L357.0,1412.2 L360.6,1410.8 L364.1,1409.4 L367.6,1407.6 L371.2,1406.3 L374.7,1404.6 L378.3,1403.0 L381.8,1401.1 L385.4,1399.3 L388.9,1397.3 L392.5,1395.2 L396.0,1392.8 L399.6,1390.6 L403.1,1388.3 L406.7,1385.7 L410.2,1382.8 L413.8,1380.2 L417.3,1377.2 L420.9,1373.8 L424.4,1369.9 L428.0,1366.5 L431.5,1362.9 L435.1,1359.3 L438.6,1355.8 L442.2,1352.1 L445.7,1348.0 L449.2,1343.6 L452.8,1339.1 L456.3,1334.5 L459.9,1330.0 L463.4,1325.3 L467.0,1320.6 L470.5,1315.9 L474.1,1311.1 L477.6,1306.4 L481.2,1301.5 L484.7,1296.9 L488.3,1292.1 L491.8,1287.6 L495.4,1283.2 L498.9,1279.0 L502.5,1275.0 L506.0,1271.8 L509.6,1268.7 L513.1,1265.9 L516.7,1263.8 L520.2,1262.0 L523.8,1260.5 L527.3,1259.7 L530.8,1259.4 L534.4,1259.5 L537.9,1259.9 L541.5,1260.7 L545.0,1261.8 L548.6,1263.3 L552.1,1265.1 L555.7,1267.0 L559.2,1269.5 L562.8,1271.5 L566.3,1273.6 L569.9,1275.5 L573.4,1277.7 L577.0,1279.5 L580.5,1281.4 L584.1,1282.8 L587.6,1284.1 L591.2,1284.9 L594.7,1285.7 L598.3,1285.9 L601.8,1286.5 L605.4,1287.0 L608.9,1286.8 L612.5,1286.0 L616.0,1284.7 L619.5,1283.0 L623.1,1280.4 L626.6,1277.0 L630.2,1273.3 L633.7,1269.6 L637.3,1265.3 L640.8,1260.7 L644.4,1256.3 L647.9,1251.8 L651.5,1247.4 L655.0,1243.4 L658.6,1239.4 L662.1,1235.7 L665.7,1232.5 L669.2,1229.6 L672.8,1226.5 L676.3,1223.7 L679.9,1220.7 L683.4,1217.6 L687.0,1214.5 L690.5,1211.4 L694.1,1208.7 L697.6,1206.1 L701.1,1203.9 L704.7,1201.8 L708.2,1200.3 L711.8,1199.5 L715.3,1198.9 L718.9,1199.6 L722.4,1201.6 L726.0,1204.5 L729.5,1208.9 L733.1,1215.1 L736.6,1222.2 L740.2,1230.3 L743.7,1239.2 L747.3,1248.2 L750.8,1257.6 L754.4,1267.1 L757.9,1276.5 L761.5,1285.8 L765.0,1295.0 L768.6,1303.8 L772.1,1312.7 L775.7,1321.2 L779.2,1329.3 L782.7,1336.7 L786.3,1344.0 L789.8,1350.7 L793.4,1356.9 L796.9,1363.0 L800.5,1369.5 L804.0,1375.7 L807.6,1381.6 L811.1,1387.5 L814.7,1393.0 L818.2,1398.1 L821.8,1402.8 L825.3,1407.3 L828.9,1411.5 L832.4,1415.9 L836.0,1419.5 L839.5,1422.6 L843.1,1425.4 L846.6,1428.4 L850.2,1430.6 L853.7,1432.2 L857.3,1433.6 L860.8,1435.1 L864.3,1436.3 L867.9,1437.5 L871.4,1438.6 L875.0,1439.8 L878.5,1440.4 L882.1,1441.1 L885.6,1441.2 L889.2,1441.2 L892.7,1441.3 L896.3,1441.3 L899.8,1441.3 L903.4,1441.3 L906.9,1441.6 L910.5,1441.2 L914.0,1441.4 L917.6,1441.3 L921.1,1441.2 L924.7,1440.9 L928.2,1440.9 L931.8,1440.7 L935.3,1440.8 L938.9,1440.7 L942.4,1441.0 L946.0,1441.3 L949.5,1441.4 L953.0,1441.7 L956.6,1442.0 L960.1,1441.8 L963.7,1441.7 L967.2,1442.0 L970.8,1441.9 L974.3,1441.9 L977.9,1442.2 L981.4,1442.3 L985.0,1442.1 L988.5,1442.0 L992.1,1442.2 L995.6,1442.2 L999.2,1442.1 L1002.7,1442.1 L1006.3,1442.2 L1009.8,1442.1 L1013.4,1441.9 L1016.9,1442.2 L1020.5,1442.2 L1024.0,1442.3 L1027.6,1442.2 L1031.1,1442.3" stroke="#c2c2c2" stroke-width="1.6" fill="none"/><path d="M112.2,1442.6 L114.0,1442.6 L115.9,1442.6 L117.7,1442.6 L119.6,1442.6 L121.4,1442.6 L123.2,1442.6 L125.1,1442.6 L126.9,1442.6 L128.8,1442.6 L130.6,1442.6 L132.5,1442.6 L134.3,1442.6 L136.1,1442.6 L138.0,1442.6 L139.8,1442.6 L141.7,1442.6 L143.5,1442.6 L145.3,1442.6 L147.2,1442.6 L149.0,1442.6 L150.9,1442.6 L152.7,1442.6 L154.6,1442.6 L156.4,1442.6 L158.2,1442.6 L160.1,1442.6 L161.9,1442.6 L163.8,1442.6 L165.6,1442.6 L167.4,1442.6 L169.3,1442.6 L171.1,1442.6 L173.0,1442.6 L174.8,1442.6 L176.7,1442.6 L178.5,1442.6 L180.3,1442.6 L182.2,1442.6 L184.0,1442.6 L185.9,1442.6 L187.7,1442.6 L189.5,1442.6 L191.4,1442.6 L193.2,1442.6 L195.1,1442.6 L196.9,1442.6 L198.7,1442.6 L200.6,1442.6 L202.4,1442.6 L204.3,1442.6 L206.1,1442.6 L208.0,1442.6 L209.8,1442.6 L211.6,1442.6 L213.5,1442.6 L215.3,1442.7 L217.2,1442.7 L219.0,1442.7 L220.8,1442.7 L222.7,1442.7 L224.5,1442.7 L226.4,1442.7 L228.2,1442.7 L230.1,1442.7 L231.9,1442.7 L233.7,1442.7 L235.6,1442.7 L237.4,1442.7 L239.3,1442.7 L241.1,1442.7 L242.9,1442.7 L244.8,1442.7 L246.6,1442.7 L248.5,1442.7 L250.3,1442.7 L252.2,1442.7 L254.0,1442.7 L255.8,1442.7 L257.7,1442.7 L259.5,1442.7 L261.4,1442.7 L263.2,1442.7 L265.0,1442.7 L266.9,1442.7 L268.7,1442.7 L270.6,1442.7 L272.4,1442.7 L274.3,1442.7 L276.1,1442.7 L277.9,1442.7 L279.8,1442.7 L281.6,1442.7 L283.5,1442.7 L285.3,1442.7 L287.1,1442.7 L289.0,1442.7 L290.8,1442.7 L292.7,1442.7 L294.5,1442.7 L296.3,1442.7 L298.2,1442.7 L300.0,1442.7 L301.9,1442.7 L303.7,1442.7 L305.6,1442.7 L307.4,1442.7 L309.2,1442.7 L311.1,1442.7 L312.9,1442.7 L314.8,1442.7 L316.6,1442.7 L318.4,1442.7 L320.3,1442.7 L322.1,1442.7 L324.0,1442.7 L325.8,1442.7 L327.7,1442.7 L329.5,1442.7 L331.3,1442.7 L333.2,1442.7 L335.0,1442.8 L336.9,1442.8 L338.7,1442.8 L340.5,1442.8 L342.4,1442.8 L344.2,1442.8 L346.1,1442.8 L347.9,1442.8 L349.8,1442.8 L351.6,1442.8 L353.4,1442.8 L355.3,1442.8 L357.1,1442.8 L359.0,1442.8 L360.8,1442.8 L362.6,1442.8 L364.5,1442.8 L366.3,1442.8 L368.2,1442.8 L370.0,1442.8 L371.8,1442.8 L373.7,1442.8 L375.5,1442.8 L377.4,1442.8 L379.2,1442.8 L381.1,1442.8 L382.9,1442.8 L384.7,1442.8 L386.6,1442.8 L388.4,1442.8 L390.3,1442.8 L392.1,1442.9 L393.9,1442.9 L395.8,1442.9 L397.6,1442.9 L399.5,1442.9 L401.3,1442.9 L403.2,1442.9 L405.0,1442.9 L406.8,1442.9 L408.7,1442.9 L410.5,1442.9 L412.4,1442.9 L414.2,1442.9 L416.0,1442.9 L417.9,1442.9 L419.7,1442.9 L421.6,1442.9 L423.4,1442.9 L425.3,1443.0 L427.1,1443.0 L428.9,1443.0 L430.8,1443.0 L432.6,1443.0 L434.5,1443.0 L436.3,1443.0 L438.1,1443.0 L440.0,1443.0 L441.8,1443.0 L443.7,1443.0 L445.5,1443.0 L447.3,1443.0 L449.2,1443.1 L451.0,1443.1 L452.9,1443.1 L454.7,1443.1 L456.6,1443.1 L458.4,1443.1 L460.2,1443.1 L462.1,1443.1 L463.9,1443.1 L465.8,1443.1 L467.6,1443.2 L469.4,1443.2 L471.3,1443.2 L473.1,1443.2 L475.0,1443.2 L476.8,1443.2 L478.7,1443.2 L480.5,1443.2 L482.3,1443.3 L484.2,1443.3 L486.0,1443.3 L487.9,1443.3 L489.7,1443.3 L491.5,1443.3 L493.4,1443.3 L495.2,1443.3 L497.1,1443.4 L498.9,1443.4 L500.8,1443.4 L502.6,1443.4 L504.4,1443.4 L506.3,1443.4 L508.1,1443.5 L510.0,1443.5 L511.8,1443.5 L513.6,1443.5 L515.5,1443.5 L517.3,1443.5 L519.2,1443.6 L521.0,1443.6 L522.9,1443.6 L524.7,1443.6 L526.5,1443.6 L528.4,1443.6 L530.2,1443.7 L532.1,1443.7 L533.9,1443.7 L535.7,1443.7 L537.6,1443.7 L539.4,1443.7 L541.3,1443.8 L543.1,1443.8 L544.9,1443.8 L546.8,1443.8 L548.6,1443.8 L550.5,1443.8 L552.3,1443.9 L554.2,1443.9 L556.0,1443.9 L557.8,1443.9 L559.7,1443.9 L561.5,1443.9 L563.4,1444.0 L565.2,1444.0 L567.0,1444.0 L568.9,1444.0 L570.7,1444.0 L572.6,1444.0 L574.4,1444.0 L576.3,1444.1 L578.1,1444.1 L579.9,1444.1 L581.8,1444.1 L583.6,1444.1 L585.5,1444.1 L587.3,1444.2 L589.1,1444.2 L591.0,1444.2 L592.8,1444.2 L594.7,1444.2 L596.5,1444.2 L598.4,1444.2 L600.2,1444.3 L602.0,1444.3 L603.9,1444.3 L605.7,1444.3 L607.6,1444.3 L609.4,1444.3 L611.2,1444.3 L613.1,1444.4 L614.9,1444.4 L616.8,1444.4 L618.6,1444.4 L620.4,1444.4 L622.3,1444.4 L624.1,1444.5 L626.0,1444.5 L627.8,1444.5 L629.7,1444.5 L631.5,1444.5 L633.3,1444.5 L635.2,1444.5 L637.0,1444.6 L638.9,1444.6 L640.7,1444.6 L642.5,1444.6 L644.4,1444.6 L646.2,1444.7 L648.1,1444.7 L649.9,1444.7 L651.8,1444.7 L653.6,1444.7 L655.4,1444.7 L657.3,1444.8 L659.1,1444.8 L661.0,1444.8 L662.8,1444.8 L664.6,1444.8 L666.5,1444.9 L668.3,1444.9 L670.2,1444.9 L672.0,1444.9 L673.9,1444.9 L675.7,1445.0 L677.5,1445.0 L679.4,1445.0 L681.2,1445.0 L683.1,1445.1 L684.9,1445.1 L686.7,1445.1 L688.6,1445.1 L690.4,1445.1 L692.3,1445.2 L694.1,1445.2 L696.0,1445.2 L697.8,1445.2 L699.6,1445.2 L701.5,1445.3 L703.3,1445.3 L705.2,1445.3 L707.0,1445.3 L708.8,1445.4 L710.7,1445.4 L712.5,1445.4 L714.4,1445.4 L716.2,1445.5 L718.0,1445.5 L719.9,1445.5 L721.7,1445.5 L723.6,1445.5 L725.4,1445.6 L727.3,1445.6 L729.1,1445.6 L730.9,1445.6 L732.8,1445.7 L734.6,1445.7 L736.5,1445.7 L738.3,1445.7 L740.1,1445.7 L742.0,1445.8 L743.8,1445.8 L745.7,1445.8 L747.5,1445.8 L749.4,1445.8 L751.2,1445.8 L753.0,1445.9 L754.9,1445.9 L756.7,1445.9 L758.6,1445.9 L760.4,1445.9 L762.2,1445.9 L764.1,1446.0 L765.9,1446.0 L767.8,1446.0 L769.6,1446.0 L771.5,1446.0 L773.3,1446.0 L775.1,1446.0 L777.0,1446.0 L778.8,1446.1 L780.7,1446.1 L782.5,1446.1 L784.3,1446.1 L786.2,1446.1 L788.0,1446.1 L789.9,1446.1 L791.7,1446.1 L793.5,1446.1 L795.4,1446.1 L797.2,1446.1 L799.1,1446.2 L800.9,1446.2 L802.8,1446.2 L804.6,1446.2 L806.4,1446.2 L808.3,1446.2 L810.1,1446.2 L812.0,1446.2 L813.8,1446.2 L815.6,1446.2 L817.5,1446.2 L819.3,1446.2 L821.2,1446.2 L823.0,1446.2 L824.9,1446.2 L826.7,1446.2 L828.5,1446.3 L830.4,1446.3 L832.2,1446.3 L834.1,1446.3 L835.9,1446.3 L837.7,1446.3 L839.6,1446.3 L841.4,1446.3 L843.3,1446.3 L845.1,1446.3 L847.0,1446.3 L848.8,1446.3 L850.6,1446.3 L852.5,1446.3 L854.3,1446.3 L856.2,1446.3 L858.0,1446.3 L859.8,1446.3 L861.7,1446.3 L863.5,1446.3 L865.4,1446.3 L867.2,1446.3 L869.0,1446.3 L870.9,1446.3 L872.7,1446.3 L874.6,1446.3 L876.4,1446.3 L878.3,1446.3 L880.1,1446.3 L881.9,1446.3 L883.8,1446.4 L885.6,1446.4 L887.5,1446.4 L889.3,1446.4 L891.1,1446.4 L893.0,1446.4 L894.8,1446.4 L896.7,1446.4 L898.5,1446.4 L900.4,1446.4 L902.2,1446.4 L904.0,1446.4 L905.9,1446.4 L907.7,1446.4 L909.6,1446.4 L911.4,1446.4 L913.2,1446.4 L915.1,1446.4 L916.9,1446.4 L918.8,1446.4 L920.6,1446.4 L922.5,1446.4 L924.3,1446.4 L926.1,1446.4 L928.0,1446.4 L929.8,1446.4 L931.7,1446.4 L933.5,1446.4 L935.3,1446.4 L937.2,1446.4 L939.0,1446.4 L940.9,1446.4 L942.7,1446.4 L944.6,1446.4 L946.4,1446.4 L948.2,1446.4 L950.1,1446.4 L951.9,1446.4 L953.8,1446.4 L955.6,1446.4 L957.4,1446.4 L959.3,1446.4 L961.1,1446.4 L963.0,1446.4 L964.8,1446.4 L966.6,1446.4 L968.5,1446.4 L970.3,1446.4 L972.2,1446.4 L974.0,1446.4 L975.9,1446.4 L977.7,1446.4 L979.5,1446.4 L981.4,1446.4 L983.2,1446.4 L985.1,1446.4 L986.9,1446.4 L988.7,1446.4 L990.6,1446.4 L992.4,1446.4 L994.3,1446.4 L996.1,1446.4 L998.0,1446.5 L999.8,1446.5 L1001.6,1446.5 L1003.5,1446.5 L1005.3,1446.5 L1007.2,1446.5 L1009.0,1446.5 L1010.8,1446.5 L1012.7,1446.5 L1014.5,1446.5 L1016.4,1446.5 L1018.2,1446.5 L1020.1,1446.5 L1021.9,1446.5 L1023.7,1446.5 L1025.6,1446.5 L1027.4,1446.5 L1029.3,1446.5 L1031.1,1446.5" stroke="#1f6fdc" stroke-width="3" fill="none"/><path d="M112.2,1437.7 L114.0,1437.7 L115.9,1437.6 L117.7,1437.6 L119.6,1437.5 L121.4,1437.5 L123.2,1437.4 L125.1,1437.4 L126.9,1437.4 L128.8,1437.3 L130.6,1437.3 L132.5,1437.2 L134.3,1437.2 L136.1,1437.1 L138.0,1437.1 L139.8,1437.0 L141.7,1437.0 L143.5,1436.9 L145.3,1436.9 L147.2,1436.8 L149.0,1436.8 L150.9,1436.7 L152.7,1436.6 L154.6,1436.6 L156.4,1436.5 L158.2,1436.5 L160.1,1436.4 L161.9,1436.4 L163.8,1436.3 L165.6,1436.2 L167.4,1436.2 L169.3,1436.1 L171.1,1436.1 L173.0,1436.0 L174.8,1435.9 L176.7,1435.9 L178.5,1435.8 L180.3,1435.7 L182.2,1435.6 L184.0,1435.6 L185.9,1435.5 L187.7,1435.4 L189.5,1435.4 L191.4,1435.3 L193.2,1435.2 L195.1,1435.1 L196.9,1435.1 L198.7,1435.0 L200.6,1434.9 L202.4,1434.8 L204.3,1434.7 L206.1,1434.6 L208.0,1434.6 L209.8,1434.5 L211.6,1434.4 L213.5,1434.3 L215.3,1434.2 L217.2,1434.1 L219.0,1434.0 L220.8,1433.9 L222.7,1433.8 L224.5,1433.7 L226.4,1433.6 L228.2,1433.5 L230.1,1433.4 L231.9,1433.3 L233.7,1433.2 L235.6,1433.1 L237.4,1433.0 L239.3,1432.9 L241.1,1432.7 L242.9,1432.6 L244.8,1432.5 L246.6,1432.4 L248.5,1432.2 L250.3,1432.1 L252.2,1432.0 L254.0,1431.9 L255.8,1431.7 L257.7,1431.6 L259.5,1431.4 L261.4,1431.3 L263.2,1431.2 L265.0,1431.0 L266.9,1430.9 L268.7,1430.7 L270.6,1430.5 L272.4,1430.4 L274.3,1430.2 L276.1,1430.0 L277.9,1429.9 L279.8,1429.7 L281.6,1429.5 L283.5,1429.3 L285.3,1429.1 L287.1,1428.9 L289.0,1428.7 L290.8,1428.5 L292.7,1428.3 L294.5,1428.1 L296.3,1427.9 L298.2,1427.7 L300.0,1427.4 L301.9,1427.2 L303.7,1427.0 L305.6,1426.7 L307.4,1426.5 L309.2,1426.2 L311.1,1425.9 L312.9,1425.7 L314.8,1425.4 L316.6,1425.1 L318.4,1424.8 L320.3,1424.5 L322.1,1424.2 L324.0,1423.9 L325.8,1423.5 L327.7,1423.2 L329.5,1422.9 L331.3,1422.5 L333.2,1422.1 L335.0,1421.7 L336.9,1421.3 L338.7,1420.9 L340.5,1420.5 L342.4,1420.1 L344.2,1419.7 L346.1,1419.2 L347.9,1418.7 L349.8,1418.3 L351.6,1417.8 L353.4,1417.2 L355.3,1416.7 L357.1,1416.2 L359.0,1415.6 L360.8,1415.0 L362.6,1414.4 L364.5,1413.8 L366.3,1413.2 L368.2,1412.5 L370.0,1411.9 L371.8,1411.2 L373.7,1410.4 L375.5,1409.7 L377.4,1408.9 L379.2,1408.2 L381.1,1407.3 L382.9,1406.5 L384.7,1405.7 L386.6,1404.8 L388.4,1403.9 L390.3,1402.9 L392.1,1402.0 L393.9,1401.0 L395.8,1400.0 L397.6,1398.9 L399.5,1397.8 L401.3,1396.7 L403.2,1395.6 L405.0,1394.4 L406.8,1393.2 L408.7,1391.9 L410.5,1390.7 L412.4,1389.4 L414.2,1388.0 L416.0,1386.6 L417.9,1385.2 L419.7,1383.8 L421.6,1382.3 L423.4,1380.8 L425.3,1379.2 L427.1,1377.6 L428.9,1376.0 L430.8,1374.3 L432.6,1372.6 L434.5,1370.9 L436.3,1369.1 L438.1,1367.3 L440.0,1365.4 L441.8,1363.5 L443.7,1361.6 L445.5,1359.6 L447.3,1357.6 L449.2,1355.6 L451.0,1353.6 L452.9,1351.5 L454.7,1349.3 L456.6,1347.2 L458.4,1345.0 L460.2,1342.8 L462.1,1340.6 L463.9,1338.3 L465.8,1336.0 L467.6,1333.7 L469.4,1331.4 L471.3,1329.1 L473.1,1326.8 L475.0,1324.5 L476.8,1322.2 L478.7,1319.9 L480.5,1317.6 L482.3,1315.3 L484.2,1313.0 L486.0,1310.8 L487.9,1308.6 L489.7,1306.4 L491.5,1304.3 L493.4,1302.3 L495.2,1300.3 L497.1,1298.3 L498.9,1296.5 L500.8,1294.7 L502.6,1293.0 L504.4,1291.4 L506.3,1289.9 L508.1,1288.5 L510.0,1287.2 L511.8,1286.1 L513.6,1285.0 L515.5,1284.1 L517.3,1283.4 L519.2,1282.7 L521.0,1282.2 L522.9,1281.9 L524.7,1281.7 L526.5,1281.7 L528.4,1281.8 L530.2,1282.0 L532.1,1282.3 L533.9,1282.8 L535.7,1283.4 L537.6,1284.1 L539.4,1284.9 L541.3,1285.8 L543.1,1286.9 L544.9,1288.0 L546.8,1289.3 L548.6,1290.6 L550.5,1292.0 L552.3,1293.5 L554.2,1295.1 L556.0,1296.8 L557.8,1298.5 L559.7,1300.4 L561.5,1302.2 L563.4,1304.1 L565.2,1306.1 L567.0,1308.1 L568.9,1310.1 L570.7,1312.2 L572.6,1314.3 L574.4,1316.4 L576.3,1318.5 L578.1,1320.7 L579.9,1322.8 L581.8,1325.0 L583.6,1327.2 L585.5,1329.3 L587.3,1331.5 L589.1,1333.6 L591.0,1335.8 L592.8,1337.9 L594.7,1340.0 L596.5,1342.1 L598.4,1344.2 L600.2,1346.2 L602.0,1348.3 L603.9,1350.3 L605.7,1352.3 L607.6,1354.2 L609.4,1356.2 L611.2,1358.1 L613.1,1360.0 L614.9,1361.8 L616.8,1363.6 L618.6,1365.4 L620.4,1367.2 L622.3,1368.9 L624.1,1370.6 L626.0,1372.3 L627.8,1373.9 L629.7,1375.5 L631.5,1377.1 L633.3,1378.6 L635.2,1380.1 L637.0,1381.6 L638.9,1383.0 L640.7,1384.5 L642.5,1385.8 L644.4,1387.2 L646.2,1388.5 L648.1,1389.8 L649.9,1391.1 L651.8,1392.3 L653.6,1393.5 L655.4,1394.7 L657.3,1395.8 L659.1,1396.9 L661.0,1398.0 L662.8,1399.1 L664.6,1400.1 L666.5,1401.2 L668.3,1402.1 L670.2,1403.1 L672.0,1404.0 L673.9,1405.0 L675.7,1405.9 L677.5,1406.7 L679.4,1407.6 L681.2,1408.4 L683.1,1409.2 L684.9,1410.0 L686.7,1410.7 L688.6,1411.5 L690.4,1412.2 L692.3,1412.9 L694.1,1413.6 L696.0,1414.3 L697.8,1414.9 L699.6,1415.5 L701.5,1416.1 L703.3,1416.7 L705.2,1417.3 L707.0,1417.9 L708.8,1418.4 L710.7,1419.0 L712.5,1419.5 L714.4,1420.0 L716.2,1420.5 L718.0,1421.0 L719.9,1421.5 L721.7,1421.9 L723.6,1422.4 L725.4,1422.8 L727.3,1423.2 L729.1,1423.6 L730.9,1424.0 L732.8,1424.4 L734.6,1424.8 L736.5,1425.2 L738.3,1425.5 L740.1,1425.9 L742.0,1426.2 L743.8,1426.6 L745.7,1426.9 L747.5,1427.2 L749.4,1427.5 L751.2,1427.8 L753.0,1428.1 L754.9,1428.4 L756.7,1428.7 L758.6,1429.0 L760.4,1429.2 L762.2,1429.5 L764.1,1429.7 L765.9,1430.0 L767.8,1430.2 L769.6,1430.5 L771.5,1430.7 L773.3,1430.9 L775.1,1431.1 L777.0,1431.4 L778.8,1431.6 L780.7,1431.8 L782.5,1432.0 L784.3,1432.2 L786.2,1432.4 L788.0,1432.6 L789.9,1432.7 L791.7,1432.9 L793.5,1433.1 L795.4,1433.3 L797.2,1433.4 L799.1,1433.6 L800.9,1433.8 L802.8,1433.9 L804.6,1434.1 L806.4,1434.2 L808.3,1434.4 L810.1,1434.5 L812.0,1434.7 L813.8,1434.8 L815.6,1435.0 L817.5,1435.1 L819.3,1435.2 L821.2,1435.4 L823.0,1435.5 L824.9,1435.6 L826.7,1435.8 L828.5,1435.9 L830.4,1436.0 L832.2,1436.1 L834.1,1436.2 L835.9,1436.4 L837.7,1436.5 L839.6,1436.6 L841.4,1436.7 L843.3,1436.8 L845.1,1436.9 L847.0,1437.0 L848.8,1437.1 L850.6,1437.2 L852.5,1437.3 L854.3,1437.4 L856.2,1437.5 L858.0,1437.6 L859.8,1437.7 L861.7,1437.8 L863.5,1437.9 L865.4,1438.0 L867.2,1438.0 L869.0,1438.1 L870.9,1438.2 L872.7,1438.3 L874.6,1438.4 L876.4,1438.5 L878.3,1438.5 L880.1,1438.6 L881.9,1438.7 L883.8,1438.8 L885.6,1438.8 L887.5,1438.9 L889.3,1439.0 L891.1,1439.1 L893.0,1439.1 L894.8,1439.2 L896.7,1439.3 L898.5,1439.3 L900.4,1439.4 L902.2,1439.5 L904.0,1439.5 L905.9,1439.6 L907.7,1439.7 L909.6,1439.7 L911.4,1439.8 L913.2,1439.9 L915.1,1439.9 L916.9,1440.0 L918.8,1440.0 L920.6,1440.1 L922.5,1440.2 L924.3,1440.2 L926.1,1440.3 L928.0,1440.3 L929.8,1440.4 L931.7,1440.4 L933.5,1440.5 L935.3,1440.5 L937.2,1440.6 L939.0,1440.6 L940.9,1440.7 L942.7,1440.7 L944.6,1440.8 L946.4,1440.8 L948.2,1440.9 L950.1,1440.9 L951.9,1441.0 L953.8,1441.0 L955.6,1441.1 L957.4,1441.1 L959.3,1441.2 L961.1,1441.2 L963.0,1441.2 L964.8,1441.3 L966.6,1441.3 L968.5,1441.4 L970.3,1441.4 L972.2,1441.5 L974.0,1441.5 L975.9,1441.5 L977.7,1441.6 L979.5,1441.6 L981.4,1441.7 L983.2,1441.7 L985.1,1441.7 L986.9,1441.8 L988.7,1441.8 L990.6,1441.8 L992.4,1441.9 L994.3,1441.9 L996.1,1441.9 L998.0,1442.0 L999.8,1442.0 L1001.6,1442.1 L1003.5,1442.1 L1005.3,1442.1 L1007.2,1442.2 L1009.0,1442.2 L1010.8,1442.2 L1012.7,1442.2 L1014.5,1442.3 L1016.4,1442.3 L1018.2,1442.3 L1020.1,1442.4 L1021.9,1442.4 L1023.7,1442.4 L1025.6,1442.5 L1027.4,1442.5 L1029.3,1442.5 L1031.1,1442.6" stroke="#3cb371" stroke-width="3" fill="none"/><path d="M112.2,1442.2 L114.0,1442.2 L115.9,1442.2 L117.7,1442.2 L119.6,1442.2 L121.4,1442.2 L123.2,1442.2 L125.1,1442.2 L126.9,1442.2 L128.8,1442.2 L130.6,1442.2 L132.5,1442.2 L134.3,1442.1 L136.1,1442.1 L138.0,1442.1 L139.8,1442.1 L141.7,1442.1 L143.5,1442.1 L145.3,1442.1 L147.2,1442.1 L149.0,1442.1 L150.9,1442.1 L152.7,1442.1 L154.6,1442.1 L156.4,1442.1 L158.2,1442.1 L160.1,1442.1 L161.9,1442.1 L163.8,1442.1 L165.6,1442.1 L167.4,1442.1 L169.3,1442.1 L171.1,1442.1 L173.0,1442.1 L174.8,1442.1 L176.7,1442.1 L178.5,1442.1 L180.3,1442.1 L182.2,1442.1 L184.0,1442.1 L185.9,1442.1 L187.7,1442.1 L189.5,1442.1 L191.4,1442.1 L193.2,1442.0 L195.1,1442.0 L196.9,1442.0 L198.7,1442.0 L200.6,1442.0 L202.4,1442.0 L204.3,1442.0 L206.1,1442.0 L208.0,1442.0 L209.8,1442.0 L211.6,1442.0 L213.5,1442.0 L215.3,1442.0 L217.2,1442.0 L219.0,1442.0 L220.8,1442.0 L222.7,1442.0 L224.5,1442.0 L226.4,1442.0 L228.2,1442.0 L230.1,1442.0 L231.9,1442.0 L233.7,1442.0 L235.6,1441.9 L237.4,1441.9 L239.3,1441.9 L241.1,1441.9 L242.9,1441.9 L244.8,1441.9 L246.6,1441.9 L248.5,1441.9 L250.3,1441.9 L252.2,1441.9 L254.0,1441.9 L255.8,1441.9 L257.7,1441.9 L259.5,1441.9 L261.4,1441.9 L263.2,1441.9 L265.0,1441.9 L266.9,1441.9 L268.7,1441.8 L270.6,1441.8 L272.4,1441.8 L274.3,1441.8 L276.1,1441.8 L277.9,1441.8 L279.8,1441.8 L281.6,1441.8 L283.5,1441.8 L285.3,1441.8 L287.1,1441.8 L289.0,1441.8 L290.8,1441.8 L292.7,1441.8 L294.5,1441.7 L296.3,1441.7 L298.2,1441.7 L300.0,1441.7 L301.9,1441.7 L303.7,1441.7 L305.6,1441.7 L307.4,1441.7 L309.2,1441.7 L311.1,1441.7 L312.9,1441.7 L314.8,1441.7 L316.6,1441.6 L318.4,1441.6 L320.3,1441.6 L322.1,1441.6 L324.0,1441.6 L325.8,1441.6 L327.7,1441.6 L329.5,1441.6 L331.3,1441.6 L333.2,1441.6 L335.0,1441.5 L336.9,1441.5 L338.7,1441.5 L340.5,1441.5 L342.4,1441.5 L344.2,1441.5 L346.1,1441.5 L347.9,1441.5 L349.8,1441.4 L351.6,1441.4 L353.4,1441.4 L355.3,1441.4 L357.1,1441.4 L359.0,1441.4 L360.8,1441.4 L362.6,1441.3 L364.5,1441.3 L366.3,1441.3 L368.2,1441.3 L370.0,1441.3 L371.8,1441.3 L373.7,1441.3 L375.5,1441.2 L377.4,1441.2 L379.2,1441.2 L381.1,1441.2 L382.9,1441.2 L384.7,1441.2 L386.6,1441.1 L388.4,1441.1 L390.3,1441.1 L392.1,1441.1 L393.9,1441.1 L395.8,1441.0 L397.6,1441.0 L399.5,1441.0 L401.3,1441.0 L403.2,1441.0 L405.0,1440.9 L406.8,1440.9 L408.7,1440.9 L410.5,1440.9 L412.4,1440.8 L414.2,1440.8 L416.0,1440.8 L417.9,1440.8 L419.7,1440.7 L421.6,1440.7 L423.4,1440.7 L425.3,1440.7 L427.1,1440.6 L428.9,1440.6 L430.8,1440.6 L432.6,1440.5 L434.5,1440.5 L436.3,1440.5 L438.1,1440.4 L440.0,1440.4 L441.8,1440.4 L443.7,1440.3 L445.5,1440.3 L447.3,1440.3 L449.2,1440.2 L451.0,1440.2 L452.9,1440.1 L454.7,1440.1 L456.6,1440.1 L458.4,1440.0 L460.2,1440.0 L462.1,1439.9 L463.9,1439.9 L465.8,1439.8 L467.6,1439.8 L469.4,1439.7 L471.3,1439.7 L473.1,1439.6 L475.0,1439.6 L476.8,1439.5 L478.7,1439.4 L480.5,1439.4 L482.3,1439.3 L484.2,1439.2 L486.0,1439.2 L487.9,1439.1 L489.7,1439.0 L491.5,1439.0 L493.4,1438.9 L495.2,1438.8 L497.1,1438.7 L498.9,1438.6 L500.8,1438.5 L502.6,1438.4 L504.4,1438.4 L506.3,1438.3 L508.1,1438.1 L510.0,1438.0 L511.8,1437.9 L513.6,1437.8 L515.5,1437.7 L517.3,1437.6 L519.2,1437.4 L521.0,1437.3 L522.9,1437.2 L524.7,1437.0 L526.5,1436.8 L528.4,1436.7 L530.2,1436.5 L532.1,1436.3 L533.9,1436.1 L535.7,1435.9 L537.6,1435.7 L539.4,1435.5 L541.3,1435.3 L543.1,1435.1 L544.9,1434.8 L546.8,1434.5 L548.6,1434.3 L550.5,1434.0 L552.3,1433.7 L554.2,1433.3 L556.0,1433.0 L557.8,1432.6 L559.7,1432.2 L561.5,1431.8 L563.4,1431.4 L565.2,1431.0 L567.0,1430.5 L568.9,1430.0 L570.7,1429.4 L572.6,1428.9 L574.4,1428.3 L576.3,1427.7 L578.1,1427.0 L579.9,1426.3 L581.8,1425.6 L583.6,1424.8 L585.5,1424.0 L587.3,1423.2 L589.1,1422.3 L591.0,1421.4 L592.8,1420.4 L594.7,1419.3 L596.5,1418.3 L598.4,1417.1 L600.2,1416.0 L602.0,1414.7 L603.9,1413.4 L605.7,1412.1 L607.6,1410.7 L609.4,1409.3 L611.2,1407.8 L613.1,1406.2 L614.9,1404.6 L616.8,1403.0 L618.6,1401.3 L620.4,1399.6 L622.3,1397.8 L624.1,1396.0 L626.0,1394.2 L627.8,1392.4 L629.7,1390.6 L631.5,1388.8 L633.3,1387.0 L635.2,1385.2 L637.0,1383.6 L638.9,1381.9 L640.7,1380.4 L642.5,1379.0 L644.4,1377.7 L646.2,1376.6 L648.1,1375.6 L649.9,1374.8 L651.8,1374.2 L653.6,1373.8 L655.4,1373.6 L657.3,1373.6 L659.1,1373.9 L661.0,1374.3 L662.8,1375.0 L664.6,1375.9 L666.5,1377.0 L668.3,1378.3 L670.2,1379.7 L672.0,1381.2 L673.9,1382.9 L675.7,1384.7 L677.5,1386.5 L679.4,1388.4 L681.2,1390.3 L683.1,1392.2 L684.9,1394.1 L686.7,1396.1 L688.6,1398.0 L690.4,1399.8 L692.3,1401.7 L694.1,1403.5 L696.0,1405.2 L697.8,1406.9 L699.6,1408.6 L701.5,1410.2 L703.3,1411.7 L705.2,1413.2 L707.0,1414.7 L708.8,1416.0 L710.7,1417.3 L712.5,1418.6 L714.4,1419.8 L716.2,1420.9 L718.0,1422.0 L719.9,1423.1 L721.7,1424.1 L723.6,1425.0 L725.4,1425.9 L727.3,1426.8 L729.1,1427.6 L730.9,1428.3 L732.8,1429.1 L734.6,1429.8 L736.5,1430.4 L738.3,1431.0 L740.1,1431.6 L742.0,1432.2 L743.8,1432.7 L745.7,1433.2 L747.5,1433.7 L749.4,1434.2 L751.2,1434.6 L753.0,1435.0 L754.9,1435.4 L756.7,1435.8 L758.6,1436.1 L760.4,1436.5 L762.2,1436.8 L764.1,1437.1 L765.9,1437.4 L767.8,1437.6 L769.6,1437.9 L771.5,1438.2 L773.3,1438.4 L775.1,1438.6 L777.0,1438.8 L778.8,1439.0 L780.7,1439.3 L782.5,1439.4 L784.3,1439.6 L786.2,1439.8 L788.0,1440.0 L789.9,1440.1 L791.7,1440.3 L793.5,1440.4 L795.4,1440.6 L797.2,1440.7 L799.1,1440.9 L800.9,1441.0 L802.8,1441.1 L804.6,1441.3 L806.4,1441.4 L808.3,1441.5 L810.1,1441.6 L812.0,1441.7 L813.8,1441.8 L815.6,1441.9 L817.5,1442.0 L819.3,1442.1 L821.2,1442.2 L823.0,1442.3 L824.9,1442.4 L826.7,1442.4 L828.5,1442.5 L830.4,1442.6 L832.2,1442.7 L834.1,1442.8 L835.9,1442.8 L837.7,1442.9 L839.6,1443.0 L841.4,1443.0 L843.3,1443.1 L845.1,1443.2 L847.0,1443.2 L848.8,1443.3 L850.6,1443.3 L852.5,1443.4 L854.3,1443.4 L856.2,1443.5 L858.0,1443.5 L859.8,1443.6 L861.7,1443.6 L863.5,1443.7 L865.4,1443.7 L867.2,1443.8 L869.0,1443.8 L870.9,1443.9 L872.7,1443.9 L874.6,1444.0 L876.4,1444.0 L878.3,1444.0 L880.1,1444.1 L881.9,1444.1 L883.8,1444.2 L885.6,1444.2 L887.5,1444.2 L889.3,1444.3 L891.1,1444.3 L893.0,1444.3 L894.8,1444.4 L896.7,1444.4 L898.5,1444.4 L900.4,1444.5 L902.2,1444.5 L904.0,1444.5 L905.9,1444.5 L907.7,1444.6 L909.6,1444.6 L911.4,1444.6 L913.2,1444.7 L915.1,1444.7 L916.9,1444.7 L918.8,1444.7 L920.6,1444.8 L922.5,1444.8 L924.3,1444.8 L926.1,1444.8 L928.0,1444.8 L929.8,1444.9 L931.7,1444.9 L933.5,1444.9 L935.3,1444.9 L937.2,1444.9 L939.0,1445.0 L940.9,1445.0 L942.7,1445.0 L944.6,1445.0 L946.4,1445.0 L948.2,1445.1 L950.1,1445.1 L951.9,1445.1 L953.8,1445.1 L955.6,1445.1 L957.4,1445.2 L959.3,1445.2 L961.1,1445.2 L963.0,1445.2 L964.8,1445.2 L966.6,1445.2 L968.5,1445.2 L970.3,1445.3 L972.2,1445.3 L974.0,1445.3 L975.9,1445.3 L977.7,1445.3 L979.5,1445.3 L981.4,1445.3 L983.2,1445.4 L985.1,1445.4 L986.9,1445.4 L988.7,1445.4 L990.6,1445.4 L992.4,1445.4 L994.3,1445.4 L996.1,1445.4 L998.0,1445.5 L999.8,1445.5 L1001.6,1445.5 L1003.5,1445.5 L1005.3,1445.5 L1007.2,1445.5 L1009.0,1445.5 L1010.8,1445.5 L1012.7,1445.5 L1014.5,1445.6 L1016.4,1445.6 L1018.2,1445.6 L1020.1,1445.6 L1021.9,1445.6 L1023.7,1445.6 L1025.6,1445.6 L1027.4,1445.6 L1029.3,1445.6 L1031.1,1445.6" stroke="#b07ae0" stroke-width="3" fill="none"/><path d="M112.2,1441.2 L114.0,1441.2 L115.9,1441.2 L117.7,1441.2 L119.6,1441.2 L121.4,1441.2 L123.2,1441.2 L125.1,1441.2 L126.9,1441.2 L128.8,1441.1 L130.6,1441.1 L132.5,1441.1 L134.3,1441.1 L136.1,1441.1 L138.0,1441.1 L139.8,1441.1 L141.7,1441.1 L143.5,1441.1 L145.3,1441.1 L147.2,1441.1 L149.0,1441.1 L150.9,1441.0 L152.7,1441.0 L154.6,1441.0 L156.4,1441.0 L158.2,1441.0 L160.1,1441.0 L161.9,1441.0 L163.8,1441.0 L165.6,1441.0 L167.4,1441.0 L169.3,1440.9 L171.1,1440.9 L173.0,1440.9 L174.8,1440.9 L176.7,1440.9 L178.5,1440.9 L180.3,1440.9 L182.2,1440.9 L184.0,1440.9 L185.9,1440.8 L187.7,1440.8 L189.5,1440.8 L191.4,1440.8 L193.2,1440.8 L195.1,1440.8 L196.9,1440.8 L198.7,1440.8 L200.6,1440.8 L202.4,1440.7 L204.3,1440.7 L206.1,1440.7 L208.0,1440.7 L209.8,1440.7 L211.6,1440.7 L213.5,1440.7 L215.3,1440.7 L217.2,1440.6 L219.0,1440.6 L220.8,1440.6 L222.7,1440.6 L224.5,1440.6 L226.4,1440.6 L228.2,1440.6 L230.1,1440.5 L231.9,1440.5 L233.7,1440.5 L235.6,1440.5 L237.4,1440.5 L239.3,1440.5 L241.1,1440.4 L242.9,1440.4 L244.8,1440.4 L246.6,1440.4 L248.5,1440.4 L250.3,1440.4 L252.2,1440.4 L254.0,1440.3 L255.8,1440.3 L257.7,1440.3 L259.5,1440.3 L261.4,1440.3 L263.2,1440.2 L265.0,1440.2 L266.9,1440.2 L268.7,1440.2 L270.6,1440.2 L272.4,1440.2 L274.3,1440.1 L276.1,1440.1 L277.9,1440.1 L279.8,1440.1 L281.6,1440.1 L283.5,1440.0 L285.3,1440.0 L287.1,1440.0 L289.0,1440.0 L290.8,1440.0 L292.7,1439.9 L294.5,1439.9 L296.3,1439.9 L298.2,1439.9 L300.0,1439.8 L301.9,1439.8 L303.7,1439.8 L305.6,1439.8 L307.4,1439.8 L309.2,1439.7 L311.1,1439.7 L312.9,1439.7 L314.8,1439.7 L316.6,1439.6 L318.4,1439.6 L320.3,1439.6 L322.1,1439.5 L324.0,1439.5 L325.8,1439.5 L327.7,1439.5 L329.5,1439.4 L331.3,1439.4 L333.2,1439.4 L335.0,1439.4 L336.9,1439.3 L338.7,1439.3 L340.5,1439.3 L342.4,1439.2 L344.2,1439.2 L346.1,1439.2 L347.9,1439.1 L349.8,1439.1 L351.6,1439.1 L353.4,1439.0 L355.3,1439.0 L357.1,1439.0 L359.0,1438.9 L360.8,1438.9 L362.6,1438.9 L364.5,1438.8 L366.3,1438.8 L368.2,1438.8 L370.0,1438.7 L371.8,1438.7 L373.7,1438.6 L375.5,1438.6 L377.4,1438.6 L379.2,1438.5 L381.1,1438.5 L382.9,1438.4 L384.7,1438.4 L386.6,1438.3 L388.4,1438.3 L390.3,1438.3 L392.1,1438.2 L393.9,1438.2 L395.8,1438.1 L397.6,1438.1 L399.5,1438.0 L401.3,1438.0 L403.2,1437.9 L405.0,1437.9 L406.8,1437.8 L408.7,1437.8 L410.5,1437.7 L412.4,1437.7 L414.2,1437.6 L416.0,1437.5 L417.9,1437.5 L419.7,1437.4 L421.6,1437.4 L423.4,1437.3 L425.3,1437.3 L427.1,1437.2 L428.9,1437.1 L430.8,1437.1 L432.6,1437.0 L434.5,1436.9 L436.3,1436.9 L438.1,1436.8 L440.0,1436.7 L441.8,1436.7 L443.7,1436.6 L445.5,1436.5 L447.3,1436.4 L449.2,1436.4 L451.0,1436.3 L452.9,1436.2 L454.7,1436.1 L456.6,1436.0 L458.4,1435.9 L460.2,1435.9 L462.1,1435.8 L463.9,1435.7 L465.8,1435.6 L467.6,1435.5 L469.4,1435.4 L471.3,1435.3 L473.1,1435.2 L475.0,1435.1 L476.8,1435.0 L478.7,1434.9 L480.5,1434.8 L482.3,1434.7 L484.2,1434.6 L486.0,1434.4 L487.9,1434.3 L489.7,1434.2 L491.5,1434.1 L493.4,1434.0 L495.2,1433.8 L497.1,1433.7 L498.9,1433.6 L500.8,1433.4 L502.6,1433.3 L504.4,1433.1 L506.3,1433.0 L508.1,1432.8 L510.0,1432.7 L511.8,1432.5 L513.6,1432.3 L515.5,1432.2 L517.3,1432.0 L519.2,1431.8 L521.0,1431.6 L522.9,1431.4 L524.7,1431.2 L526.5,1431.0 L528.4,1430.8 L530.2,1430.6 L532.1,1430.4 L533.9,1430.2 L535.7,1430.0 L537.6,1429.7 L539.4,1429.5 L541.3,1429.2 L543.1,1428.9 L544.9,1428.7 L546.8,1428.4 L548.6,1428.1 L550.5,1427.8 L552.3,1427.5 L554.2,1427.2 L556.0,1426.8 L557.8,1426.5 L559.7,1426.2 L561.5,1425.8 L563.4,1425.4 L565.2,1425.0 L567.0,1424.6 L568.9,1424.2 L570.7,1423.7 L572.6,1423.3 L574.4,1422.8 L576.3,1422.3 L578.1,1421.8 L579.9,1421.2 L581.8,1420.7 L583.6,1420.1 L585.5,1419.5 L587.3,1418.8 L589.1,1418.2 L591.0,1417.5 L592.8,1416.8 L594.7,1416.0 L596.5,1415.2 L598.4,1414.4 L600.2,1413.5 L602.0,1412.6 L603.9,1411.7 L605.7,1410.7 L607.6,1409.7 L609.4,1408.6 L611.2,1407.5 L613.1,1406.3 L614.9,1405.1 L616.8,1403.8 L618.6,1402.5 L620.4,1401.1 L622.3,1399.6 L624.1,1398.1 L626.0,1396.5 L627.8,1394.9 L629.7,1393.1 L631.5,1391.3 L633.3,1389.5 L635.2,1387.5 L637.0,1385.5 L638.9,1383.4 L640.7,1381.2 L642.5,1378.9 L644.4,1376.5 L646.2,1374.1 L648.1,1371.5 L649.9,1368.9 L651.8,1366.1 L653.6,1363.3 L655.4,1360.4 L657.3,1357.3 L659.1,1354.2 L661.0,1351.0 L662.8,1347.7 L664.6,1344.3 L666.5,1340.8 L668.3,1337.2 L670.2,1333.6 L672.0,1329.8 L673.9,1326.0 L675.7,1322.1 L677.5,1318.2 L679.4,1314.2 L681.2,1310.1 L683.1,1306.1 L684.9,1302.0 L686.7,1297.9 L688.6,1293.8 L690.4,1289.8 L692.3,1285.8 L694.1,1281.8 L696.0,1278.0 L697.8,1274.3 L699.6,1270.7 L701.5,1267.3 L703.3,1264.0 L705.2,1261.0 L707.0,1258.2 L708.8,1255.7 L710.7,1253.5 L712.5,1251.6 L714.4,1250.1 L716.2,1248.9 L718.0,1248.0 L719.9,1247.5 L721.7,1247.4 L723.6,1247.7 L725.4,1248.4 L727.3,1249.5 L729.1,1251.0 L730.9,1252.9 L732.8,1255.2 L734.6,1257.7 L736.5,1260.6 L738.3,1263.7 L740.1,1267.1 L742.0,1270.7 L743.8,1274.5 L745.7,1278.4 L747.5,1282.5 L749.4,1286.7 L751.2,1290.9 L753.0,1295.2 L754.9,1299.5 L756.7,1303.9 L758.6,1308.2 L760.4,1312.5 L762.2,1316.7 L764.1,1320.9 L765.9,1325.1 L767.8,1329.1 L769.6,1333.1 L771.5,1337.0 L773.3,1340.9 L775.1,1344.6 L777.0,1348.2 L778.8,1351.7 L780.7,1355.1 L782.5,1358.4 L784.3,1361.6 L786.2,1364.7 L788.0,1367.7 L789.9,1370.6 L791.7,1373.4 L793.5,1376.1 L795.4,1378.7 L797.2,1381.2 L799.1,1383.6 L800.9,1385.8 L802.8,1388.1 L804.6,1390.2 L806.4,1392.2 L808.3,1394.1 L810.1,1396.0 L812.0,1397.8 L813.8,1399.5 L815.6,1401.1 L817.5,1402.7 L819.3,1404.2 L821.2,1405.6 L823.0,1407.0 L824.9,1408.3 L826.7,1409.5 L828.5,1410.7 L830.4,1411.8 L832.2,1412.9 L834.1,1414.0 L835.9,1414.9 L837.7,1415.9 L839.6,1416.8 L841.4,1417.7 L843.3,1418.5 L845.1,1419.3 L847.0,1420.0 L848.8,1420.8 L850.6,1421.5 L852.5,1422.1 L854.3,1422.8 L856.2,1423.4 L858.0,1424.0 L859.8,1424.5 L861.7,1425.1 L863.5,1425.6 L865.4,1426.1 L867.2,1426.6 L869.0,1427.0 L870.9,1427.5 L872.7,1427.9 L874.6,1428.3 L876.4,1428.7 L878.3,1429.1 L880.1,1429.5 L881.9,1429.8 L883.8,1430.2 L885.6,1430.5 L887.5,1430.9 L889.3,1431.2 L891.1,1431.5 L893.0,1431.8 L894.8,1432.1 L896.7,1432.3 L898.5,1432.6 L900.4,1432.9 L902.2,1433.1 L904.0,1433.4 L905.9,1433.6 L907.7,1433.9 L909.6,1434.1 L911.4,1434.3 L913.2,1434.5 L915.1,1434.7 L916.9,1434.9 L918.8,1435.1 L920.6,1435.3 L922.5,1435.5 L924.3,1435.7 L926.1,1435.9 L928.0,1436.1 L929.8,1436.2 L931.7,1436.4 L933.5,1436.6 L935.3,1436.7 L937.2,1436.9 L939.0,1437.0 L940.9,1437.2 L942.7,1437.3 L944.6,1437.5 L946.4,1437.6 L948.2,1437.8 L950.1,1437.9 L951.9,1438.0 L953.8,1438.1 L955.6,1438.3 L957.4,1438.4 L959.3,1438.5 L961.1,1438.6 L963.0,1438.7 L964.8,1438.8 L966.6,1439.0 L968.5,1439.1 L970.3,1439.2 L972.2,1439.3 L974.0,1439.4 L975.9,1439.5 L977.7,1439.6 L979.5,1439.7 L981.4,1439.8 L983.2,1439.8 L985.1,1439.9 L986.9,1440.0 L988.7,1440.1 L990.6,1440.2 L992.4,1440.3 L994.3,1440.4 L996.1,1440.4 L998.0,1440.5 L999.8,1440.6 L1001.6,1440.7 L1003.5,1440.7 L1005.3,1440.8 L1007.2,1440.9 L1009.0,1441.0 L1010.8,1441.0 L1012.7,1441.1 L1014.5,1441.2 L1016.4,1441.2 L1018.2,1441.3 L1020.1,1441.3 L1021.9,1441.4 L1023.7,1441.5 L1025.6,1441.5 L1027.4,1441.6 L1029.3,1441.6 L1031.1,1441.7" stroke="#d4a017" stroke-width="3" fill="none"/><path d="M112.2,1435.9 L114.0,1435.8 L115.9,1435.8 L117.7,1435.7 L119.6,1435.7 L121.4,1435.6 L123.2,1435.6 L125.1,1435.5 L126.9,1435.4 L128.8,1435.4 L130.6,1435.3 L132.5,1435.3 L134.3,1435.2 L136.1,1435.1 L138.0,1435.1 L139.8,1435.0 L141.7,1435.0 L143.5,1434.9 L145.3,1434.8 L147.2,1434.8 L149.0,1434.7 L150.9,1434.6 L152.7,1434.6 L154.6,1434.5 L156.4,1434.4 L158.2,1434.3 L160.1,1434.3 L161.9,1434.2 L163.8,1434.1 L165.6,1434.1 L167.4,1434.0 L169.3,1433.9 L171.1,1433.8 L173.0,1433.7 L174.8,1433.7 L176.7,1433.6 L178.5,1433.5 L180.3,1433.4 L182.2,1433.3 L184.0,1433.2 L185.9,1433.1 L187.7,1433.1 L189.5,1433.0 L191.4,1432.9 L193.2,1432.8 L195.1,1432.7 L196.9,1432.6 L198.7,1432.5 L200.6,1432.4 L202.4,1432.3 L204.3,1432.2 L206.1,1432.1 L208.0,1432.0 L209.8,1431.9 L211.6,1431.8 L213.5,1431.7 L215.3,1431.6 L217.2,1431.4 L219.0,1431.3 L220.8,1431.2 L222.7,1431.1 L224.5,1431.0 L226.4,1430.8 L228.2,1430.7 L230.1,1430.6 L231.9,1430.5 L233.7,1430.3 L235.6,1430.2 L237.4,1430.1 L239.3,1429.9 L241.1,1429.8 L242.9,1429.6 L244.8,1429.5 L246.6,1429.4 L248.5,1429.2 L250.3,1429.1 L252.2,1428.9 L254.0,1428.7 L255.8,1428.6 L257.7,1428.4 L259.5,1428.2 L261.4,1428.1 L263.2,1427.9 L265.0,1427.7 L266.9,1427.5 L268.7,1427.4 L270.6,1427.2 L272.4,1427.0 L274.3,1426.8 L276.1,1426.6 L277.9,1426.4 L279.8,1426.2 L281.6,1426.0 L283.5,1425.8 L285.3,1425.5 L287.1,1425.3 L289.0,1425.1 L290.8,1424.8 L292.7,1424.6 L294.5,1424.4 L296.3,1424.1 L298.2,1423.9 L300.0,1423.6 L301.9,1423.3 L303.7,1423.0 L305.6,1422.8 L307.4,1422.5 L309.2,1422.2 L311.1,1421.9 L312.9,1421.6 L314.8,1421.2 L316.6,1420.9 L318.4,1420.6 L320.3,1420.2 L322.1,1419.9 L324.0,1419.5 L325.8,1419.1 L327.7,1418.8 L329.5,1418.4 L331.3,1418.0 L333.2,1417.6 L335.0,1417.1 L336.9,1416.7 L338.7,1416.2 L340.5,1415.8 L342.4,1415.3 L344.2,1414.8 L346.1,1414.3 L347.9,1413.8 L349.8,1413.3 L351.6,1412.7 L353.4,1412.1 L355.3,1411.6 L357.1,1411.0 L359.0,1410.3 L360.8,1409.7 L362.6,1409.1 L364.5,1408.4 L366.3,1407.7 L368.2,1407.0 L370.0,1406.2 L371.8,1405.5 L373.7,1404.7 L375.5,1403.9 L377.4,1403.1 L379.2,1402.2 L381.1,1401.4 L382.9,1400.5 L384.7,1399.5 L386.6,1398.6 L388.4,1397.6 L390.3,1396.6 L392.1,1395.5 L393.9,1394.5 L395.8,1393.4 L397.6,1392.3 L399.5,1391.1 L401.3,1389.9 L403.2,1388.7 L405.0,1387.4 L406.8,1386.1 L408.7,1384.8 L410.5,1383.4 L412.4,1382.0 L414.2,1380.6 L416.0,1379.1 L417.9,1377.6 L419.7,1376.1 L421.6,1374.5 L423.4,1372.9 L425.3,1371.2 L427.1,1369.5 L428.9,1367.8 L430.8,1366.0 L432.6,1364.2 L434.5,1362.3 L436.3,1360.4 L438.1,1358.5 L440.0,1356.5 L441.8,1354.5 L443.7,1352.5 L445.5,1350.4 L447.3,1348.2 L449.2,1346.1 L451.0,1343.9 L452.9,1341.6 L454.7,1339.4 L456.6,1337.1 L458.4,1334.8 L460.2,1332.4 L462.1,1330.0 L463.9,1327.6 L465.8,1325.2 L467.6,1322.7 L469.4,1320.2 L471.3,1317.8 L473.1,1315.3 L475.0,1312.8 L476.8,1310.3 L478.7,1307.8 L480.5,1305.3 L482.3,1302.8 L484.2,1300.3 L486.0,1297.9 L487.9,1295.5 L489.7,1293.1 L491.5,1290.7 L493.4,1288.4 L495.2,1286.2 L497.1,1284.0 L498.9,1281.9 L500.8,1279.9 L502.6,1277.9 L504.4,1276.0 L506.3,1274.2 L508.1,1272.6 L510.0,1271.0 L511.8,1269.5 L513.6,1268.2 L515.5,1266.9 L517.3,1265.8 L519.2,1264.9 L521.0,1264.0 L522.9,1263.3 L524.7,1262.8 L526.5,1262.3 L528.4,1262.0 L530.2,1261.8 L532.1,1261.7 L533.9,1261.7 L535.7,1261.8 L537.6,1262.1 L539.4,1262.4 L541.3,1262.8 L543.1,1263.3 L544.9,1263.9 L546.8,1264.6 L548.6,1265.3 L550.5,1266.1 L552.3,1267.0 L554.2,1267.9 L556.0,1268.9 L557.8,1269.9 L559.7,1270.9 L561.5,1271.9 L563.4,1273.0 L565.2,1274.1 L567.0,1275.2 L568.9,1276.3 L570.7,1277.3 L572.6,1278.4 L574.4,1279.4 L576.3,1280.4 L578.1,1281.3 L579.9,1282.2 L581.8,1283.1 L583.6,1283.8 L585.5,1284.5 L587.3,1285.2 L589.1,1285.8 L591.0,1286.2 L592.8,1286.6 L594.7,1286.9 L596.5,1287.1 L598.4,1287.2 L600.2,1287.2 L602.0,1287.1 L603.9,1286.9 L605.7,1286.5 L607.6,1286.0 L609.4,1285.4 L611.2,1284.7 L613.1,1283.8 L614.9,1282.8 L616.8,1281.7 L618.6,1280.4 L620.4,1279.0 L622.3,1277.5 L624.1,1275.8 L626.0,1274.1 L627.8,1272.2 L629.7,1270.2 L631.5,1268.2 L633.3,1266.0 L635.2,1263.8 L637.0,1261.5 L638.9,1259.2 L640.7,1256.8 L642.5,1254.5 L644.4,1252.1 L646.2,1249.8 L648.1,1247.5 L649.9,1245.3 L651.8,1243.2 L653.6,1241.1 L655.4,1239.1 L657.3,1237.2 L659.1,1235.4 L661.0,1233.8 L662.8,1232.2 L664.6,1230.7 L666.5,1229.2 L668.3,1227.9 L670.2,1226.6 L672.0,1225.3 L673.9,1224.0 L675.7,1222.7 L677.5,1221.4 L679.4,1220.1 L681.2,1218.7 L683.1,1217.4 L684.9,1215.9 L686.7,1214.5 L688.6,1213.0 L690.4,1211.5 L692.3,1210.0 L694.1,1208.5 L696.0,1207.1 L697.8,1205.7 L699.6,1204.3 L701.5,1203.1 L703.3,1201.9 L705.2,1200.9 L707.0,1200.1 L708.8,1199.5 L710.7,1199.1 L712.5,1198.9 L714.4,1199.0 L716.2,1199.4 L718.0,1200.1 L719.9,1201.0 L721.7,1202.3 L723.6,1204.0 L725.4,1206.0 L727.3,1208.3 L729.1,1211.0 L730.9,1214.0 L732.8,1217.3 L734.6,1220.9 L736.5,1224.8 L738.3,1228.9 L740.1,1233.2 L742.0,1237.6 L743.8,1242.3 L745.7,1247.0 L747.5,1251.8 L749.4,1256.7 L751.2,1261.7 L753.0,1266.6 L754.9,1271.6 L756.7,1276.5 L758.6,1281.4 L760.4,1286.3 L762.2,1291.1 L764.1,1295.8 L765.9,1300.5 L767.8,1305.0 L769.6,1309.5 L771.5,1313.9 L773.3,1318.1 L775.1,1322.3 L777.0,1326.3 L778.8,1330.2 L780.7,1334.0 L782.5,1337.7 L784.3,1341.3 L786.2,1344.7 L788.0,1348.1 L789.9,1351.3 L791.7,1354.4 L793.5,1357.4 L795.4,1360.3 L797.2,1363.0 L799.1,1365.7 L800.9,1368.3 L802.8,1370.8 L804.6,1373.2 L806.4,1375.4 L808.3,1377.6 L810.1,1379.7 L812.0,1381.8 L813.8,1383.7 L815.6,1385.6 L817.5,1387.3 L819.3,1389.1 L821.2,1390.7 L823.0,1392.3 L824.9,1393.8 L826.7,1395.2 L828.5,1396.6 L830.4,1397.9 L832.2,1399.2 L834.1,1400.4 L835.9,1401.6 L837.7,1402.7 L839.6,1403.8 L841.4,1404.8 L843.3,1405.8 L845.1,1406.8 L847.0,1407.7 L848.8,1408.6 L850.6,1409.4 L852.5,1410.2 L854.3,1411.0 L856.2,1411.7 L858.0,1412.5 L859.8,1413.2 L861.7,1413.9 L863.5,1414.5 L865.4,1415.1 L867.2,1415.7 L869.0,1416.3 L870.9,1416.9 L872.7,1417.5 L874.6,1418.0 L876.4,1418.5 L878.3,1419.0 L880.1,1419.5 L881.9,1420.0 L883.8,1420.4 L885.6,1420.9 L887.5,1421.3 L889.3,1421.7 L891.1,1422.1 L893.0,1422.5 L894.8,1422.9 L896.7,1423.3 L898.5,1423.6 L900.4,1424.0 L902.2,1424.3 L904.0,1424.7 L905.9,1425.0 L907.7,1425.3 L909.6,1425.7 L911.4,1426.0 L913.2,1426.3 L915.1,1426.6 L916.9,1426.8 L918.8,1427.1 L920.6,1427.4 L922.5,1427.7 L924.3,1427.9 L926.1,1428.2 L928.0,1428.4 L929.8,1428.7 L931.7,1428.9 L933.5,1429.2 L935.3,1429.4 L937.2,1429.6 L939.0,1429.8 L940.9,1430.0 L942.7,1430.3 L944.6,1430.5 L946.4,1430.7 L948.2,1430.9 L950.1,1431.1 L951.9,1431.3 L953.8,1431.4 L955.6,1431.6 L957.4,1431.8 L959.3,1432.0 L961.1,1432.2 L963.0,1432.3 L964.8,1432.5 L966.6,1432.7 L968.5,1432.8 L970.3,1433.0 L972.2,1433.1 L974.0,1433.3 L975.9,1433.4 L977.7,1433.6 L979.5,1433.7 L981.4,1433.9 L983.2,1434.0 L985.1,1434.2 L986.9,1434.3 L988.7,1434.4 L990.6,1434.6 L992.4,1434.7 L994.3,1434.8 L996.1,1434.9 L998.0,1435.1 L999.8,1435.2 L1001.6,1435.3 L1003.5,1435.4 L1005.3,1435.5 L1007.2,1435.6 L1009.0,1435.7 L1010.8,1435.9 L1012.7,1436.0 L1014.5,1436.1 L1016.4,1436.2 L1018.2,1436.3 L1020.1,1436.4 L1021.9,1436.5 L1023.7,1436.6 L1025.6,1436.7 L1027.4,1436.8 L1029.3,1436.9 L1031.1,1437.0" stroke="#ee3e3e" stroke-width="3" fill="none"/><text x="354.00" y="129.50" font-family="Liberation Sans" font-size="21.5" font-weight="normal" text-anchor="middle" fill="#333" textLength="45.5" lengthAdjust="spacingAndGlyphs" stroke="#333" stroke-width="0.4">727.0</text><line x1="350.30" y1="131.70" x2="350.30" y2="219.00" stroke="#888" stroke-width="1.6"/><text x="435.50" y="92.50" font-family="Liberation Sans" font-size="21.5" font-weight="normal" text-anchor="middle" fill="#333" textLength="45.5" lengthAdjust="spacingAndGlyphs" stroke="#333" stroke-width="0.4">724.0</text><line x1="428.40" y1="99.00" x2="428.40" y2="186.30" stroke="#888" stroke-width="1.6"/><text x="667.70" y="141.00" font-family="Liberation Sans" font-size="21.5" font-weight="normal" text-anchor="middle" fill="#333" textLength="45.5" lengthAdjust="spacingAndGlyphs" stroke="#333" stroke-width="0.4">715.0</text><line x1="665.00" y1="150.00" x2="665.00" y2="235.60" stroke="#888" stroke-width="1.6"/><text x="772.50" y="155.00" font-family="Liberation Sans" font-size="21.5" font-weight="normal" text-anchor="middle" fill="#333" textLength="45.5" lengthAdjust="spacingAndGlyphs" stroke="#333" stroke-width="0.4">710.9</text><line x1="772.70" y1="44.50" x2="772.70" y2="130.40" stroke="#888" stroke-width="1.6"/><text x="349.00" y="422.70" font-family="Liberation Sans" font-size="21.5" font-weight="normal" text-anchor="middle" fill="#333" textLength="45.5" lengthAdjust="spacingAndGlyphs" stroke="#333" stroke-width="0.4">727.0</text><line x1="349.80" y1="432.00" x2="349.80" y2="517.00" stroke="#888" stroke-width="1.6"/><text x="413.30" y="418.30" font-family="Liberation Sans" font-size="21.5" font-weight="normal" text-anchor="middle" fill="#333" textLength="45.5" lengthAdjust="spacingAndGlyphs" stroke="#333" stroke-width="0.4">725.0</text><line x1="402.20" y1="427.80" x2="402.20" y2="513.00" stroke="#888" stroke-width="1.6"/><text x="677.00" y="433.60" font-family="Liberation Sans" font-size="21.5" font-weight="normal" text-anchor="middle" fill="#333" textLength="45.5" lengthAdjust="spacingAndGlyphs" stroke="#333" stroke-width="0.4">714.6</text><line x1="676.00" y1="448.30" x2="676.00" y2="557.50" stroke="#888" stroke-width="1.6"/><text x="751.50" y="372.50" font-family="Liberation Sans" font-size="21.5" font-weight="normal" text-anchor="middle" fill="#333" textLength="45.5" lengthAdjust="spacingAndGlyphs" stroke="#333" stroke-width="0.4">711.7</text><line x1="752.30" y1="377.60" x2="752.30" y2="462.70" stroke="#888" stroke-width="1.6"/><text x="750.30" y="928.50" font-family="Liberation Sans" font-size="21.5" font-weight="normal" text-anchor="middle" fill="#333" textLength="45.5" lengthAdjust="spacingAndGlyphs" stroke="#333" stroke-width="0.4">529.7</text><line x1="755.30" y1="934.40" x2="755.30" y2="1043.50" stroke="#a8a8a8" stroke-width="1.6"/><text x="715.00" y="1067.30" font-family="Liberation Sans" font-size="21.5" font-weight="normal" text-anchor="middle" fill="#333" textLength="45.5" lengthAdjust="spacingAndGlyphs" stroke="#333" stroke-width="0.4">530.1</text><line x1="713.80" y1="932.70" x2="713.80" y2="1041.40" stroke="#a8a8a8" stroke-width="1.6"/><text x="532.00" y="1226.70" font-family="Liberation Sans" font-size="21.5" font-weight="normal" text-anchor="middle" fill="#333" textLength="45.5" lengthAdjust="spacingAndGlyphs" stroke="#333" stroke-width="0.4">531.9</text><line x1="531.00" y1="1234.00" x2="531.00" y2="1343.00" stroke="#a8a8a8" stroke-width="1.6"/><text x="715.70" y="1178.70" font-family="Liberation Sans" font-size="21.5" font-weight="normal" text-anchor="middle" fill="#333" textLength="45.5" lengthAdjust="spacingAndGlyphs" stroke="#333" stroke-width="0.4">530.1</text><line x1="713.80" y1="1196.90" x2="713.80" y2="1294.20" stroke="#a8a8a8" stroke-width="1.6"/><text x="648.60" y="1318.30" font-family="Liberation Sans" font-size="21.5" font-weight="normal" text-anchor="middle" fill="#333" textLength="45.5" lengthAdjust="spacingAndGlyphs" stroke="#333" stroke-width="0.4">530.7</text><line x1="653.20" y1="1326.50" x2="653.20" y2="1434.80" stroke="#a8a8a8" stroke-width="1.6"/><rect x="74.30" y="27.50" width="919.30" height="641.80" fill="none" stroke="#000" stroke-width="3.5"/><line x1="74.30" y1="347.60" x2="993.60" y2="347.60" stroke="#000" stroke-width="3.2"/><rect x="112.30" y="831.30" width="918.80" height="641.50" fill="none" stroke="#000" stroke-width="3.5"/><line x1="112.30" y1="1151.50" x2="1031.10" y2="1151.50" stroke="#000" stroke-width="3.2"/><rect x="110.6" y="1233.5" width="2.1" height="111.5" fill="#8a8a8a"/><line x1="139.90" y1="347.60" x2="139.90" y2="336.60" stroke="#000" stroke-width="2.6"/><line x1="139.90" y1="669.30" x2="139.90" y2="658.30" stroke="#000" stroke-width="2.6"/><line x1="205.55" y1="347.60" x2="205.55" y2="342.10" stroke="#000" stroke-width="2.6"/><line x1="205.55" y1="669.30" x2="205.55" y2="663.80" stroke="#000" stroke-width="2.6"/><line x1="271.20" y1="347.60" x2="271.20" y2="336.60" stroke="#000" stroke-width="2.6"/><line x1="271.20" y1="669.30" x2="271.20" y2="658.30" stroke="#000" stroke-width="2.6"/><line x1="336.85" y1="347.60" x2="336.85" y2="342.10" stroke="#000" stroke-width="2.6"/><line x1="336.85" y1="669.30" x2="336.85" y2="663.80" stroke="#000" stroke-width="2.6"/><line x1="402.50" y1="347.60" x2="402.50" y2="336.60" stroke="#000" stroke-width="2.6"/><line x1="402.50" y1="669.30" x2="402.50" y2="658.30" stroke="#000" stroke-width="2.6"/><line x1="468.15" y1="347.60" x2="468.15" y2="342.10" stroke="#000" stroke-width="2.6"/><line x1="468.15" y1="669.30" x2="468.15" y2="663.80" stroke="#000" stroke-width="2.6"/><line x1="533.80" y1="347.60" x2="533.80" y2="336.60" stroke="#000" stroke-width="2.6"/><line x1="533.80" y1="669.30" x2="533.80" y2="658.30" stroke="#000" stroke-width="2.6"/><line x1="599.45" y1="347.60" x2="599.45" y2="342.10" stroke="#000" stroke-width="2.6"/><line x1="599.45" y1="669.30" x2="599.45" y2="663.80" stroke="#000" stroke-width="2.6"/><line x1="665.10" y1="347.60" x2="665.10" y2="336.60" stroke="#000" stroke-width="2.6"/><line x1="665.10" y1="669.30" x2="665.10" y2="658.30" stroke="#000" stroke-width="2.6"/><line x1="730.75" y1="347.60" x2="730.75" y2="342.10" stroke="#000" stroke-width="2.6"/><line x1="730.75" y1="669.30" x2="730.75" y2="663.80" stroke="#000" stroke-width="2.6"/><line x1="796.40" y1="347.60" x2="796.40" y2="336.60" stroke="#000" stroke-width="2.6"/><line x1="796.40" y1="669.30" x2="796.40" y2="658.30" stroke="#000" stroke-width="2.6"/><line x1="862.05" y1="347.60" x2="862.05" y2="342.10" stroke="#000" stroke-width="2.6"/><line x1="862.05" y1="669.30" x2="862.05" y2="663.80" stroke="#000" stroke-width="2.6"/><line x1="927.70" y1="347.60" x2="927.70" y2="336.60" stroke="#000" stroke-width="2.6"/><line x1="927.70" y1="669.30" x2="927.70" y2="658.30" stroke="#000" stroke-width="2.6"/><text x="139.90" y="711.30" font-family="Liberation Serif" font-size="36" font-weight="bold" text-anchor="middle" fill="#000" >735</text><text x="271.20" y="711.30" font-family="Liberation Serif" font-size="36" font-weight="bold" text-anchor="middle" fill="#000" >730</text><text x="402.50" y="711.30" font-family="Liberation Serif" font-size="36" font-weight="bold" text-anchor="middle" fill="#000" >725</text><text x="533.80" y="711.30" font-family="Liberation Serif" font-size="36" font-weight="bold" text-anchor="middle" fill="#000" >720</text><text x="665.10" y="711.30" font-family="Liberation Serif" font-size="36" font-weight="bold" text-anchor="middle" fill="#000" >715</text><text x="796.40" y="711.30" font-family="Liberation Serif" font-size="36" font-weight="bold" text-anchor="middle" fill="#000" >710</text><text x="927.70" y="711.30" font-family="Liberation Serif" font-size="36" font-weight="bold" text-anchor="middle" fill="#000" >705</text><text x="535.95" y="763.00" font-family="Liberation Serif" font-size="41.5" font-weight="bold" text-anchor="middle" fill="#000" >Binding Energy (eV)</text><text x="50.00" y="375.00" font-family="Liberation Serif" font-size="41.5" font-weight="bold" text-anchor="middle" fill="#000" transform="rotate(-90 50 375)">Intensity (a.u.)</text><text x="88.50" y="69.00" font-family="Liberation Serif" font-size="29.5" font-weight="normal" text-anchor="start" fill="#000" >(a)</text><text x="104.00" y="296.40" font-family="Liberation Serif" font-size="29" font-weight="normal" text-anchor="start" fill="#000" >Fe/(SZr)</text><text x="103.00" y="627.00" font-family="Liberation Serif" font-size="29.3" font-weight="normal" text-anchor="start" fill="#000" >S(Fe/Zr)</text><line x1="214.30" y1="1151.50" x2="214.30" y2="1146.00" stroke="#000" stroke-width="2.6"/><line x1="214.30" y1="1472.80" x2="214.30" y2="1467.30" stroke="#000" stroke-width="2.6"/><line x1="316.40" y1="1151.50" x2="316.40" y2="1140.00" stroke="#000" stroke-width="2.6"/><line x1="316.40" y1="1472.80" x2="316.40" y2="1461.30" stroke="#000" stroke-width="2.6"/><line x1="418.50" y1="1151.50" x2="418.50" y2="1146.00" stroke="#000" stroke-width="2.6"/><line x1="418.50" y1="1472.80" x2="418.50" y2="1467.30" stroke="#000" stroke-width="2.6"/><line x1="520.60" y1="1151.50" x2="520.60" y2="1140.00" stroke="#000" stroke-width="2.6"/><line x1="520.60" y1="1472.80" x2="520.60" y2="1461.30" stroke="#000" stroke-width="2.6"/><line x1="622.70" y1="1151.50" x2="622.70" y2="1146.00" stroke="#000" stroke-width="2.6"/><line x1="622.70" y1="1472.80" x2="622.70" y2="1467.30" stroke="#000" stroke-width="2.6"/><line x1="724.80" y1="1151.50" x2="724.80" y2="1140.00" stroke="#000" stroke-width="2.6"/><line x1="724.80" y1="1472.80" x2="724.80" y2="1461.30" stroke="#000" stroke-width="2.6"/><line x1="826.90" y1="1151.50" x2="826.90" y2="1146.00" stroke="#000" stroke-width="2.6"/><line x1="826.90" y1="1472.80" x2="826.90" y2="1467.30" stroke="#000" stroke-width="2.6"/><line x1="929.00" y1="1151.50" x2="929.00" y2="1140.00" stroke="#000" stroke-width="2.6"/><line x1="929.00" y1="1472.80" x2="929.00" y2="1461.30" stroke="#000" stroke-width="2.6"/><text x="112.20" y="1515.60" font-family="Liberation Serif" font-size="36" font-weight="bold" text-anchor="middle" fill="#000" >536</text><text x="316.40" y="1515.60" font-family="Liberation Serif" font-size="36" font-weight="bold" text-anchor="middle" fill="#000" >534</text><text x="520.60" y="1515.60" font-family="Liberation Serif" font-size="36" font-weight="bold" text-anchor="middle" fill="#000" >532</text><text x="724.80" y="1515.60" font-family="Liberation Serif" font-size="36" font-weight="bold" text-anchor="middle" fill="#000" >530</text><text x="929.00" y="1515.60" font-family="Liberation Serif" font-size="36" font-weight="bold" text-anchor="middle" fill="#000" >528</text><text x="552.00" y="1557.50" font-family="Liberation Serif" font-size="41.5" font-weight="bold" text-anchor="middle" fill="#000" >Binding Energy (eV)</text><text x="92.00" y="1182.50" font-family="Liberation Serif" font-size="41.5" font-weight="bold" text-anchor="middle" fill="#000" transform="rotate(-90 92 1182.5)">Intensity (a.u.)</text><text x="128.00" y="869.20" font-family="Liberation Serif" font-size="29.5" font-weight="normal" text-anchor="start" fill="#000" >(b)</text><text x="133.00" y="1044.30" font-family="Liberation Serif" font-size="29" font-weight="normal" text-anchor="start" fill="#000" >Fe/(SZr)</text><text x="131.60" y="1377.00" font-family="Liberation Serif" font-size="29" font-weight="normal" text-anchor="start" fill="#000" >S(Fe/Zr)</text></svg></body></html>
